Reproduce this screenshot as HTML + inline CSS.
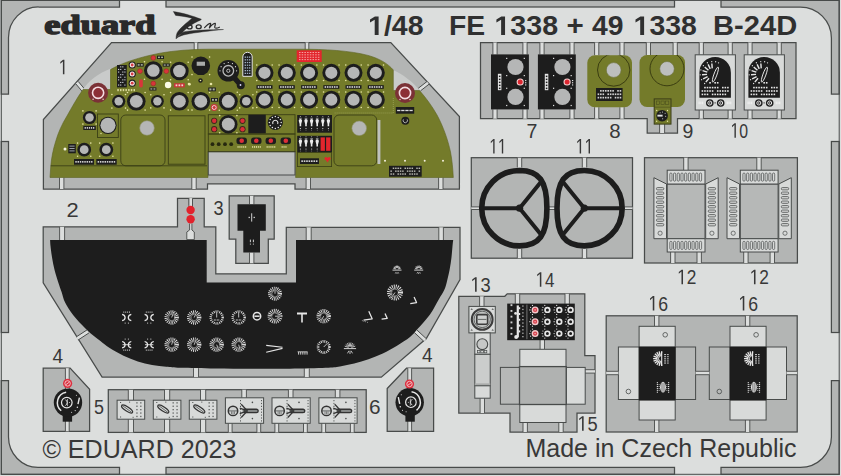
<!DOCTYPE html>
<html><head><meta charset="utf-8"><title>eduard FE 1338</title>
<style>html,body{margin:0;padding:0;background:#dcdedd;overflow:hidden}svg{display:block}</style>
</head><body>
<svg width="841" height="476" viewBox="0 0 841 476">
<rect x="0" y="0" width="841" height="476" fill="#dcdedd"/>
<path d="M1.3,0.4 H119.5 V7 H38.6 A30,30.5 0 0 0 8.5,37.5 V94 H1.3 Z" fill="#b3b5b4" stroke="#484b4a" stroke-width="1.25" />
<rect x="166.00" y="0.40" width="508.50" height="6.60" fill="#b3b5b4" stroke="#484b4a" stroke-width="1.25" />
<path d="M721,0.4 H839.2 V94 H831.4 V38 A31,31 0 0 0 800.4,7 H721 Z" fill="#b3b5b4" stroke="#484b4a" stroke-width="1.25" />
<rect x="1.30" y="141.50" width="7.20" height="191.00" fill="#b3b5b4" stroke="#484b4a" stroke-width="1.25" />
<rect x="831.40" y="141.50" width="7.80" height="191.00" fill="#b3b5b4" stroke="#484b4a" stroke-width="1.25" />
<path d="M1.3,380.7 H8.5 V437 A29.5,30.5 0 0 0 38,467.4 H119.5 V474.3 H1.3 Z" fill="#b3b5b4" stroke="#484b4a" stroke-width="1.25" />
<rect x="166.00" y="467.40" width="508.50" height="6.90" fill="#b3b5b4" stroke="#484b4a" stroke-width="1.25" />
<path d="M721,474.3 V467.4 H800.4 A31,30.5 0 0 0 831.4,437 V380.7 H839.2 V474.3 Z" fill="#b3b5b4" stroke="#484b4a" stroke-width="1.25" />
<rect x="1.30" y="0.40" width="837.90" height="473.90" fill="none" stroke="#484b4a" stroke-width="1.0" />
<text x="44.3" y="34.1" font-family="'Liberation Serif', serif" font-size="27.7" font-weight="bold" fill="#2a2a2a" stroke="#2a2a2a" stroke-width="1.5" stroke-linejoin="round" textLength="111.2" lengthAdjust="spacingAndGlyphs">eduard</text>
<g fill="#2b2b2b" stroke="#2b2b2b" stroke-width="0.4" stroke-linejoin="round"><path d="M173.3,11.5 C182,12.8 193,15.8 201.2,19.3 L199,20.2 C192,17.8 184,16.2 175.6,15.4 Z"/><path d="M201.2,19.3 L192.4,18 C186,23 179.5,29 177.4,32.2 C176.4,34.2 176,36.5 176,38.6 C177.5,36.2 179.5,34.6 182,33.2 C185,29 192,23.6 200.8,20 Z"/><path d="M176,38.6 C179,36.2 183,35 186,34.4 C195,32.6 210,30.8 223.5,29.5 C210,29.5 196,30.2 186,31.4 C183.5,31.8 182.4,32.4 181.6,33.2 Z"/></g>
<g fill="none" stroke="#2b2b2b" stroke-width="1.35" stroke-linecap="round" stroke-linejoin="round"><ellipse cx="189.6" cy="26.9" rx="2.5" ry="1.9"/><ellipse cx="198.7" cy="26.7" rx="2.5" ry="1.9"/><path d="M204.6,27.6 C206.5,25.6 209,23.4 210.4,23.4 C211.4,23.8 209.6,26 209.4,27.8 C211,25.8 213.8,23.4 215.2,23.4 C216.2,23.8 214.2,26.4 214.8,27.6 C215.6,28.4 217.6,28 219.4,27.2" stroke-width="1.2"/></g>
<polygon points="374.70,35.00 374.70,19.69 370.00,22.45 370.00,19.56 374.91,16.56 378.61,16.56 378.61,35.00" fill="#303030"/>
<text transform="translate(383.89,35.00) scale(1.0625,1)" font-family="'Liberation Sans', sans-serif" font-size="26.8" font-weight="bold" fill="#303030" xml:space="preserve">/48</text>
<text transform="translate(448.90,35.00) scale(1.0571,1)" font-family="'Liberation Sans', sans-serif" font-size="26.8" font-weight="bold" fill="#303030" xml:space="preserve">FE</text>
<polygon points="501.12,35.00 501.12,19.69 496.40,22.45 496.40,19.56 501.33,16.56 505.05,16.56 505.05,35.00" fill="#303030"/>
<text transform="translate(510.35,35.00) scale(1.0674,1)" font-family="'Liberation Sans', sans-serif" font-size="26.8" font-weight="bold" fill="#303030" xml:space="preserve">338</text>
<text transform="translate(566.56,35.00) scale(1.1013,1)" font-family="'Liberation Sans', sans-serif" font-size="26.8" font-weight="bold" fill="#303030" xml:space="preserve">+</text>
<text transform="translate(592.07,35.00) scale(1.0560,1)" font-family="'Liberation Sans', sans-serif" font-size="26.8" font-weight="bold" fill="#303030" xml:space="preserve">49</text>
<polygon points="640.20,35.00 640.20,19.69 635.50,22.45 635.50,19.56 640.41,16.56 644.10,16.56 644.10,35.00" fill="#303030"/>
<text transform="translate(649.38,35.00) scale(1.0621,1)" font-family="'Liberation Sans', sans-serif" font-size="26.8" font-weight="bold" fill="#303030" xml:space="preserve">338</text>
<text transform="translate(713.05,35.00) scale(1.0869,1)" font-family="'Liberation Sans', sans-serif" font-size="26.8" font-weight="bold" fill="#303030" xml:space="preserve">B-24D</text>
<text transform="translate(42.42,457.80) scale(0.9996,1)" font-family="'Liberation Sans', sans-serif" font-size="25.1" font-weight="normal" fill="#383838" xml:space="preserve">© EDUARD 2023</text>
<text transform="translate(525.45,457.30) scale(0.9969,1)" font-family="'Liberation Sans', sans-serif" font-size="25.1" font-weight="normal" fill="#383838" xml:space="preserve">Made in Czech Republic</text>
<polygon points="111.50,42.50 390.80,42.50 459.40,116.50 459.40,189.00 295.00,189.00 295.00,183.80 207.50,183.80 207.50,189.00 43.40,189.00 43.40,119.50" fill="#b3b5b4" stroke="#484b4a" stroke-width="1.25" stroke-linejoin="miter" />
<rect x="194.20" y="42.50" width="3.6" height="7.50" fill="#dcdedd"/>
<line x1="194.20" y1="42.50" x2="194.20" y2="50.00" stroke="#484b4a" stroke-width="0.9" />
<line x1="197.80" y1="42.50" x2="197.80" y2="50.00" stroke="#484b4a" stroke-width="0.9" />
<rect x="305.20" y="42.50" width="3.6" height="7.50" fill="#dcdedd"/>
<line x1="305.20" y1="42.50" x2="305.20" y2="50.00" stroke="#484b4a" stroke-width="0.9" />
<line x1="308.80" y1="42.50" x2="308.80" y2="50.00" stroke="#484b4a" stroke-width="0.9" />
<rect x="59.50" y="177.50" width="4.4" height="11.50" fill="#dcdedd"/>
<line x1="59.50" y1="177.50" x2="59.50" y2="189.00" stroke="#484b4a" stroke-width="0.9" />
<line x1="63.90" y1="177.50" x2="63.90" y2="189.00" stroke="#484b4a" stroke-width="0.9" />
<rect x="191.80" y="177.50" width="4.4" height="11.50" fill="#dcdedd"/>
<line x1="191.80" y1="177.50" x2="191.80" y2="189.00" stroke="#484b4a" stroke-width="0.9" />
<line x1="196.20" y1="177.50" x2="196.20" y2="189.00" stroke="#484b4a" stroke-width="0.9" />
<rect x="306.10" y="177.50" width="4.4" height="11.50" fill="#dcdedd"/>
<line x1="306.10" y1="177.50" x2="306.10" y2="189.00" stroke="#484b4a" stroke-width="0.9" />
<line x1="310.50" y1="177.50" x2="310.50" y2="189.00" stroke="#484b4a" stroke-width="0.9" />
<rect x="438.60" y="177.50" width="4.4" height="11.50" fill="#dcdedd"/>
<line x1="438.60" y1="177.50" x2="438.60" y2="189.00" stroke="#484b4a" stroke-width="0.9" />
<line x1="443.00" y1="177.50" x2="443.00" y2="189.00" stroke="#484b4a" stroke-width="0.9" />
<g transform="translate(80.50,86.80) rotate(50)"><rect x="-5.50" y="-1.7" width="11.00" height="3.4" fill="#dcdedd"/><line x1="-5.50" y1="-1.7" x2="5.50" y2="-1.7" stroke="#484b4a" stroke-width="0.9"/><line x1="-5.50" y1="1.7" x2="5.50" y2="1.7" stroke="#484b4a" stroke-width="0.9"/></g>
<g transform="translate(423.70,86.20) rotate(-38)"><rect x="-5.50" y="-1.7" width="11.00" height="3.4" fill="#dcdedd"/><line x1="-5.50" y1="-1.7" x2="5.50" y2="-1.7" stroke="#484b4a" stroke-width="0.9"/><line x1="-5.50" y1="1.7" x2="5.50" y2="1.7" stroke="#484b4a" stroke-width="0.9"/></g>
<path d="M82.5,90 C89,80.5 98,73.5 111,68.6 L111,90 Z" fill="#c9cbca" stroke="none" stroke-width="0" />
<path d="M393,70 C403,74.5 412.5,81.5 420,91 L393,91 Z" fill="#c9cbca" stroke="none" stroke-width="0" />
<path d="M50,177.5 L50.8,166 C51.5,158 53,150 55.5,142 C58,133 62,124 67,116 C71.5,108 77,98 83,89.5 L110.5,89.5 L110.5,69.6 C121,63.2 140,57 160,53.2 C175,50.6 190,49.4 208,49.2 L300,49.2 C325,49.2 350,50.6 368,55.4 C380,58.8 388,63.8 393.3,70 L393.3,90.5 L419.5,90.5 C426,98 432,106 437,115 C443,126 448,140 450.5,152 C452,160 452.8,168 453.3,177.5 L295.6,177.5 L295.6,151.7 L208,151.7 L208,177.5 Z" fill="#747b2a" stroke="#5d6322" stroke-width="0.6" />
<rect x="208.30" y="151.70" width="86.70" height="23.30" fill="#bcbebd" stroke="#484b4a" stroke-width="1.0" />
<line x1="50.80" y1="165.80" x2="207.00" y2="165.80" stroke="#3b3f16" stroke-width="0.9" />
<line x1="296.00" y1="165.80" x2="452.50" y2="165.80" stroke="#3b3f16" stroke-width="0.6" opacity="0.0"/>
<circle cx="256.76" cy="65.06" r="0.80" fill="#e8e6a8" stroke="none" stroke-width="0" />
<circle cx="256.76" cy="80.54" r="0.80" fill="#e8e6a8" stroke="none" stroke-width="0" />
<circle cx="272.24" cy="65.06" r="0.80" fill="#e8e6a8" stroke="none" stroke-width="0" />
<circle cx="272.24" cy="80.54" r="0.80" fill="#e8e6a8" stroke="none" stroke-width="0" />
<circle cx="264.50" cy="72.80" r="9.00" fill="#1d1d1d" stroke="none" stroke-width="0" />
<circle cx="264.50" cy="72.80" r="6.10" fill="#b5b6b6" stroke="none" stroke-width="0" />
<circle cx="256.76" cy="91.96" r="0.80" fill="#e8e6a8" stroke="none" stroke-width="0" />
<circle cx="256.76" cy="107.44" r="0.80" fill="#e8e6a8" stroke="none" stroke-width="0" />
<circle cx="272.24" cy="91.96" r="0.80" fill="#e8e6a8" stroke="none" stroke-width="0" />
<circle cx="272.24" cy="107.44" r="0.80" fill="#e8e6a8" stroke="none" stroke-width="0" />
<circle cx="264.50" cy="99.70" r="9.00" fill="#1d1d1d" stroke="none" stroke-width="0" />
<circle cx="264.50" cy="99.70" r="6.10" fill="#b5b6b6" stroke="none" stroke-width="0" />
<rect x="256.50" y="85.20" width="16.00" height="3.60" fill="#1d1d1d" stroke="none" stroke-width="0" />
<rect x="257.80" y="86.20" width="1.53" height="1.6" fill="#d9d9d9"/>
<rect x="260.13" y="86.20" width="1.53" height="1.6" fill="#d9d9d9"/>
<rect x="262.47" y="86.20" width="1.53" height="1.6" fill="#d9d9d9"/>
<rect x="264.80" y="86.20" width="1.53" height="1.6" fill="#d9d9d9"/>
<rect x="267.13" y="86.20" width="1.53" height="1.6" fill="#d9d9d9"/>
<rect x="269.47" y="86.20" width="1.53" height="1.6" fill="#d9d9d9"/>
<circle cx="279.06" cy="65.06" r="0.80" fill="#e8e6a8" stroke="none" stroke-width="0" />
<circle cx="279.06" cy="80.54" r="0.80" fill="#e8e6a8" stroke="none" stroke-width="0" />
<circle cx="294.54" cy="65.06" r="0.80" fill="#e8e6a8" stroke="none" stroke-width="0" />
<circle cx="294.54" cy="80.54" r="0.80" fill="#e8e6a8" stroke="none" stroke-width="0" />
<circle cx="286.80" cy="72.80" r="9.00" fill="#1d1d1d" stroke="none" stroke-width="0" />
<circle cx="286.80" cy="72.80" r="6.10" fill="#b5b6b6" stroke="none" stroke-width="0" />
<circle cx="279.06" cy="91.96" r="0.80" fill="#e8e6a8" stroke="none" stroke-width="0" />
<circle cx="279.06" cy="107.44" r="0.80" fill="#e8e6a8" stroke="none" stroke-width="0" />
<circle cx="294.54" cy="91.96" r="0.80" fill="#e8e6a8" stroke="none" stroke-width="0" />
<circle cx="294.54" cy="107.44" r="0.80" fill="#e8e6a8" stroke="none" stroke-width="0" />
<circle cx="286.80" cy="99.70" r="9.00" fill="#1d1d1d" stroke="none" stroke-width="0" />
<circle cx="286.80" cy="99.70" r="6.10" fill="#b5b6b6" stroke="none" stroke-width="0" />
<rect x="278.80" y="85.20" width="16.00" height="3.60" fill="#1d1d1d" stroke="none" stroke-width="0" />
<rect x="280.10" y="86.20" width="1.53" height="1.6" fill="#d9d9d9"/>
<rect x="282.43" y="86.20" width="1.53" height="1.6" fill="#d9d9d9"/>
<rect x="284.77" y="86.20" width="1.53" height="1.6" fill="#d9d9d9"/>
<rect x="287.10" y="86.20" width="1.53" height="1.6" fill="#d9d9d9"/>
<rect x="289.43" y="86.20" width="1.53" height="1.6" fill="#d9d9d9"/>
<rect x="291.77" y="86.20" width="1.53" height="1.6" fill="#d9d9d9"/>
<circle cx="301.36" cy="65.06" r="0.80" fill="#e8e6a8" stroke="none" stroke-width="0" />
<circle cx="301.36" cy="80.54" r="0.80" fill="#e8e6a8" stroke="none" stroke-width="0" />
<circle cx="316.84" cy="65.06" r="0.80" fill="#e8e6a8" stroke="none" stroke-width="0" />
<circle cx="316.84" cy="80.54" r="0.80" fill="#e8e6a8" stroke="none" stroke-width="0" />
<circle cx="309.10" cy="72.80" r="9.00" fill="#1d1d1d" stroke="none" stroke-width="0" />
<circle cx="309.10" cy="72.80" r="6.10" fill="#b5b6b6" stroke="none" stroke-width="0" />
<circle cx="301.36" cy="91.96" r="0.80" fill="#e8e6a8" stroke="none" stroke-width="0" />
<circle cx="301.36" cy="107.44" r="0.80" fill="#e8e6a8" stroke="none" stroke-width="0" />
<circle cx="316.84" cy="91.96" r="0.80" fill="#e8e6a8" stroke="none" stroke-width="0" />
<circle cx="316.84" cy="107.44" r="0.80" fill="#e8e6a8" stroke="none" stroke-width="0" />
<circle cx="309.10" cy="99.70" r="9.00" fill="#1d1d1d" stroke="none" stroke-width="0" />
<circle cx="309.10" cy="99.70" r="6.10" fill="#b5b6b6" stroke="none" stroke-width="0" />
<rect x="301.10" y="85.20" width="16.00" height="3.60" fill="#1d1d1d" stroke="none" stroke-width="0" />
<rect x="302.40" y="86.20" width="1.53" height="1.6" fill="#d9d9d9"/>
<rect x="304.73" y="86.20" width="1.53" height="1.6" fill="#d9d9d9"/>
<rect x="307.07" y="86.20" width="1.53" height="1.6" fill="#d9d9d9"/>
<rect x="309.40" y="86.20" width="1.53" height="1.6" fill="#d9d9d9"/>
<rect x="311.73" y="86.20" width="1.53" height="1.6" fill="#d9d9d9"/>
<rect x="314.07" y="86.20" width="1.53" height="1.6" fill="#d9d9d9"/>
<circle cx="323.56" cy="65.06" r="0.80" fill="#e8e6a8" stroke="none" stroke-width="0" />
<circle cx="323.56" cy="80.54" r="0.80" fill="#e8e6a8" stroke="none" stroke-width="0" />
<circle cx="339.04" cy="65.06" r="0.80" fill="#e8e6a8" stroke="none" stroke-width="0" />
<circle cx="339.04" cy="80.54" r="0.80" fill="#e8e6a8" stroke="none" stroke-width="0" />
<circle cx="331.30" cy="72.80" r="9.00" fill="#1d1d1d" stroke="none" stroke-width="0" />
<circle cx="331.30" cy="72.80" r="6.10" fill="#b5b6b6" stroke="none" stroke-width="0" />
<circle cx="323.56" cy="91.96" r="0.80" fill="#e8e6a8" stroke="none" stroke-width="0" />
<circle cx="323.56" cy="107.44" r="0.80" fill="#e8e6a8" stroke="none" stroke-width="0" />
<circle cx="339.04" cy="91.96" r="0.80" fill="#e8e6a8" stroke="none" stroke-width="0" />
<circle cx="339.04" cy="107.44" r="0.80" fill="#e8e6a8" stroke="none" stroke-width="0" />
<circle cx="331.30" cy="99.70" r="9.00" fill="#1d1d1d" stroke="none" stroke-width="0" />
<circle cx="331.30" cy="99.70" r="6.10" fill="#b5b6b6" stroke="none" stroke-width="0" />
<rect x="323.30" y="85.20" width="16.00" height="3.60" fill="#1d1d1d" stroke="none" stroke-width="0" />
<rect x="324.60" y="86.20" width="1.53" height="1.6" fill="#d9d9d9"/>
<rect x="326.93" y="86.20" width="1.53" height="1.6" fill="#d9d9d9"/>
<rect x="329.27" y="86.20" width="1.53" height="1.6" fill="#d9d9d9"/>
<rect x="331.60" y="86.20" width="1.53" height="1.6" fill="#d9d9d9"/>
<rect x="333.93" y="86.20" width="1.53" height="1.6" fill="#d9d9d9"/>
<rect x="336.27" y="86.20" width="1.53" height="1.6" fill="#d9d9d9"/>
<circle cx="345.76" cy="65.06" r="0.80" fill="#e8e6a8" stroke="none" stroke-width="0" />
<circle cx="345.76" cy="80.54" r="0.80" fill="#e8e6a8" stroke="none" stroke-width="0" />
<circle cx="361.24" cy="65.06" r="0.80" fill="#e8e6a8" stroke="none" stroke-width="0" />
<circle cx="361.24" cy="80.54" r="0.80" fill="#e8e6a8" stroke="none" stroke-width="0" />
<circle cx="353.50" cy="72.80" r="9.00" fill="#1d1d1d" stroke="none" stroke-width="0" />
<circle cx="353.50" cy="72.80" r="6.10" fill="#b5b6b6" stroke="none" stroke-width="0" />
<circle cx="345.76" cy="91.96" r="0.80" fill="#e8e6a8" stroke="none" stroke-width="0" />
<circle cx="345.76" cy="107.44" r="0.80" fill="#e8e6a8" stroke="none" stroke-width="0" />
<circle cx="361.24" cy="91.96" r="0.80" fill="#e8e6a8" stroke="none" stroke-width="0" />
<circle cx="361.24" cy="107.44" r="0.80" fill="#e8e6a8" stroke="none" stroke-width="0" />
<circle cx="353.50" cy="99.70" r="9.00" fill="#1d1d1d" stroke="none" stroke-width="0" />
<circle cx="353.50" cy="99.70" r="6.10" fill="#b5b6b6" stroke="none" stroke-width="0" />
<rect x="345.50" y="85.20" width="16.00" height="3.60" fill="#1d1d1d" stroke="none" stroke-width="0" />
<rect x="346.80" y="86.20" width="1.53" height="1.6" fill="#d9d9d9"/>
<rect x="349.13" y="86.20" width="1.53" height="1.6" fill="#d9d9d9"/>
<rect x="351.47" y="86.20" width="1.53" height="1.6" fill="#d9d9d9"/>
<rect x="353.80" y="86.20" width="1.53" height="1.6" fill="#d9d9d9"/>
<rect x="356.13" y="86.20" width="1.53" height="1.6" fill="#d9d9d9"/>
<rect x="358.47" y="86.20" width="1.53" height="1.6" fill="#d9d9d9"/>
<circle cx="368.06" cy="65.06" r="0.80" fill="#e8e6a8" stroke="none" stroke-width="0" />
<circle cx="368.06" cy="80.54" r="0.80" fill="#e8e6a8" stroke="none" stroke-width="0" />
<circle cx="383.54" cy="65.06" r="0.80" fill="#e8e6a8" stroke="none" stroke-width="0" />
<circle cx="383.54" cy="80.54" r="0.80" fill="#e8e6a8" stroke="none" stroke-width="0" />
<circle cx="375.80" cy="72.80" r="9.00" fill="#1d1d1d" stroke="none" stroke-width="0" />
<circle cx="375.80" cy="72.80" r="6.10" fill="#b5b6b6" stroke="none" stroke-width="0" />
<circle cx="368.06" cy="91.96" r="0.80" fill="#e8e6a8" stroke="none" stroke-width="0" />
<circle cx="368.06" cy="107.44" r="0.80" fill="#e8e6a8" stroke="none" stroke-width="0" />
<circle cx="383.54" cy="91.96" r="0.80" fill="#e8e6a8" stroke="none" stroke-width="0" />
<circle cx="383.54" cy="107.44" r="0.80" fill="#e8e6a8" stroke="none" stroke-width="0" />
<circle cx="375.80" cy="99.70" r="9.00" fill="#1d1d1d" stroke="none" stroke-width="0" />
<circle cx="375.80" cy="99.70" r="6.10" fill="#b5b6b6" stroke="none" stroke-width="0" />
<rect x="367.80" y="85.20" width="16.00" height="3.60" fill="#1d1d1d" stroke="none" stroke-width="0" />
<rect x="369.10" y="86.20" width="1.53" height="1.6" fill="#d9d9d9"/>
<rect x="371.43" y="86.20" width="1.53" height="1.6" fill="#d9d9d9"/>
<rect x="373.77" y="86.20" width="1.53" height="1.6" fill="#d9d9d9"/>
<rect x="376.10" y="86.20" width="1.53" height="1.6" fill="#d9d9d9"/>
<rect x="378.43" y="86.20" width="1.53" height="1.6" fill="#d9d9d9"/>
<rect x="380.77" y="86.20" width="1.53" height="1.6" fill="#d9d9d9"/>
<rect x="296.70" y="50.30" width="25.00" height="11.70" fill="#e3262d" stroke="none" stroke-width="0" />
<rect x="299.00" y="52.00" width="1.5" height="0.9" fill="#f6b4b0"/>
<rect x="301.70" y="52.00" width="1.5" height="0.9" fill="#f6b4b0"/>
<rect x="304.40" y="52.00" width="1.5" height="0.9" fill="#f6b4b0"/>
<rect x="307.10" y="52.00" width="1.5" height="0.9" fill="#f6b4b0"/>
<rect x="309.80" y="52.00" width="1.5" height="0.9" fill="#f6b4b0"/>
<rect x="312.50" y="52.00" width="1.5" height="0.9" fill="#f6b4b0"/>
<rect x="315.20" y="52.00" width="1.5" height="0.9" fill="#f6b4b0"/>
<rect x="317.90" y="52.00" width="1.5" height="0.9" fill="#f6b4b0"/>
<rect x="299.00" y="54.40" width="1.5" height="0.9" fill="#f6b4b0"/>
<rect x="301.70" y="54.40" width="1.5" height="0.9" fill="#f6b4b0"/>
<rect x="304.40" y="54.40" width="1.5" height="0.9" fill="#f6b4b0"/>
<rect x="307.10" y="54.40" width="1.5" height="0.9" fill="#f6b4b0"/>
<rect x="309.80" y="54.40" width="1.5" height="0.9" fill="#f6b4b0"/>
<rect x="312.50" y="54.40" width="1.5" height="0.9" fill="#f6b4b0"/>
<rect x="315.20" y="54.40" width="1.5" height="0.9" fill="#f6b4b0"/>
<rect x="317.90" y="54.40" width="1.5" height="0.9" fill="#f6b4b0"/>
<rect x="299.00" y="56.80" width="1.5" height="0.9" fill="#f6b4b0"/>
<rect x="301.70" y="56.80" width="1.5" height="0.9" fill="#f6b4b0"/>
<rect x="304.40" y="56.80" width="1.5" height="0.9" fill="#f6b4b0"/>
<rect x="307.10" y="56.80" width="1.5" height="0.9" fill="#f6b4b0"/>
<rect x="309.80" y="56.80" width="1.5" height="0.9" fill="#f6b4b0"/>
<rect x="312.50" y="56.80" width="1.5" height="0.9" fill="#f6b4b0"/>
<rect x="315.20" y="56.80" width="1.5" height="0.9" fill="#f6b4b0"/>
<rect x="317.90" y="56.80" width="1.5" height="0.9" fill="#f6b4b0"/>
<rect x="299.00" y="59.20" width="1.5" height="0.9" fill="#f6b4b0"/>
<rect x="301.70" y="59.20" width="1.5" height="0.9" fill="#f6b4b0"/>
<rect x="304.40" y="59.20" width="1.5" height="0.9" fill="#f6b4b0"/>
<rect x="307.10" y="59.20" width="1.5" height="0.9" fill="#f6b4b0"/>
<rect x="309.80" y="59.20" width="1.5" height="0.9" fill="#f6b4b0"/>
<rect x="312.50" y="59.20" width="1.5" height="0.9" fill="#f6b4b0"/>
<rect x="315.20" y="59.20" width="1.5" height="0.9" fill="#f6b4b0"/>
<rect x="317.90" y="59.20" width="1.5" height="0.9" fill="#f6b4b0"/>
<path d="M242.8,76.3 V57 A4.7,4.7 0 0 1 252.2,57 V76.3 Z" fill="#1d1d1d" stroke="#e4e4e4" stroke-width="1.0" />
<rect x="244.60" y="56.50" width="1.4" height="1.3" fill="#9fb1c4"/>
<rect x="246.80" y="56.50" width="1.4" height="1.3" fill="#9fb1c4"/>
<rect x="249.00" y="56.50" width="1.4" height="1.3" fill="#9fb1c4"/>
<rect x="244.60" y="59.20" width="1.4" height="1.3" fill="#9fb1c4"/>
<rect x="246.80" y="59.20" width="1.4" height="1.3" fill="#9fb1c4"/>
<rect x="249.00" y="59.20" width="1.4" height="1.3" fill="#9fb1c4"/>
<rect x="244.60" y="61.90" width="1.4" height="1.3" fill="#9fb1c4"/>
<rect x="246.80" y="61.90" width="1.4" height="1.3" fill="#9fb1c4"/>
<rect x="249.00" y="61.90" width="1.4" height="1.3" fill="#9fb1c4"/>
<rect x="244.60" y="64.60" width="1.4" height="1.3" fill="#9fb1c4"/>
<rect x="246.80" y="64.60" width="1.4" height="1.3" fill="#9fb1c4"/>
<rect x="249.00" y="64.60" width="1.4" height="1.3" fill="#9fb1c4"/>
<rect x="244.60" y="67.30" width="1.4" height="1.3" fill="#9fb1c4"/>
<rect x="246.80" y="67.30" width="1.4" height="1.3" fill="#9fb1c4"/>
<rect x="249.00" y="67.30" width="1.4" height="1.3" fill="#9fb1c4"/>
<rect x="244.60" y="70.00" width="1.4" height="1.3" fill="#9fb1c4"/>
<rect x="246.80" y="70.00" width="1.4" height="1.3" fill="#9fb1c4"/>
<rect x="249.00" y="70.00" width="1.4" height="1.3" fill="#9fb1c4"/>
<rect x="244.60" y="72.70" width="1.4" height="1.3" fill="#9fb1c4"/>
<rect x="246.80" y="72.70" width="1.4" height="1.3" fill="#9fb1c4"/>
<rect x="249.00" y="72.70" width="1.4" height="1.3" fill="#9fb1c4"/>
<circle cx="237.50" cy="70.80" r="0.70" fill="#d8d8c8" stroke="none" stroke-width="0" />
<circle cx="235.74" cy="76.21" r="0.70" fill="#d8d8c8" stroke="none" stroke-width="0" />
<circle cx="231.14" cy="79.55" r="0.70" fill="#d8d8c8" stroke="none" stroke-width="0" />
<circle cx="225.46" cy="79.55" r="0.70" fill="#d8d8c8" stroke="none" stroke-width="0" />
<circle cx="220.86" cy="76.21" r="0.70" fill="#d8d8c8" stroke="none" stroke-width="0" />
<circle cx="219.10" cy="70.80" r="0.70" fill="#d8d8c8" stroke="none" stroke-width="0" />
<circle cx="220.86" cy="65.39" r="0.70" fill="#d8d8c8" stroke="none" stroke-width="0" />
<circle cx="225.46" cy="62.05" r="0.70" fill="#d8d8c8" stroke="none" stroke-width="0" />
<circle cx="231.14" cy="62.05" r="0.70" fill="#d8d8c8" stroke="none" stroke-width="0" />
<circle cx="235.74" cy="65.39" r="0.70" fill="#d8d8c8" stroke="none" stroke-width="0" />
<circle cx="228.30" cy="70.80" r="10.80" fill="#1d1d1d" stroke="none" stroke-width="0" />
<line x1="228.3" y1="70.8" x2="240.8" y2="85.3" stroke="#1d1d1d" stroke-width="5.2" stroke-linecap="round"/>
<circle cx="240.80" cy="85.30" r="4.00" fill="#1d1d1d" stroke="none" stroke-width="0" />
<circle cx="228.30" cy="70.80" r="5.30" fill="none" stroke="#b9b9b9" stroke-width="1.3" />
<circle cx="228.30" cy="70.80" r="1.60" fill="#1d1d1d" stroke="#dddddd" stroke-width="0.8" />
<circle cx="240.50" cy="85.00" r="0.90" fill="#d8d8ff" stroke="none" stroke-width="0" />
<circle cx="220.00" cy="70.80" r="0.60" fill="#e8e8e8" stroke="none" stroke-width="0" />
<circle cx="221.11" cy="66.65" r="0.60" fill="#e8e8e8" stroke="none" stroke-width="0" />
<circle cx="224.15" cy="63.61" r="0.60" fill="#e8e8e8" stroke="none" stroke-width="0" />
<circle cx="228.30" cy="62.50" r="0.60" fill="#e8e8e8" stroke="none" stroke-width="0" />
<circle cx="232.45" cy="63.61" r="0.60" fill="#e8e8e8" stroke="none" stroke-width="0" />
<circle cx="235.49" cy="66.65" r="0.60" fill="#e8e8e8" stroke="none" stroke-width="0" />
<circle cx="236.60" cy="70.80" r="0.60" fill="#e8e8e8" stroke="none" stroke-width="0" />
<circle cx="192.00" cy="57.00" r="0.80" fill="#e8e6a8" stroke="none" stroke-width="0" />
<circle cx="192.00" cy="74.60" r="0.80" fill="#e8e6a8" stroke="none" stroke-width="0" />
<circle cx="209.60" cy="57.00" r="0.80" fill="#e8e6a8" stroke="none" stroke-width="0" />
<circle cx="209.60" cy="74.60" r="0.80" fill="#e8e6a8" stroke="none" stroke-width="0" />
<circle cx="200.80" cy="65.80" r="9.30" fill="#1d1d1d" stroke="none" stroke-width="0" />
<circle cx="200.80" cy="65.80" r="0.01" fill="#b5b6b6" stroke="none" stroke-width="0" />
<rect x="196.70" y="61.70" width="8.30" height="4.10" fill="#a9abaa" stroke="none" stroke-width="0" />
<circle cx="200.50" cy="80.50" r="2.20" fill="#1d1d1d" stroke="none" stroke-width="0" />
<circle cx="200.50" cy="80.50" r="0.80" fill="#e8e6a8" stroke="none" stroke-width="0" />
<circle cx="144.50" cy="61.70" r="0.80" fill="#e8e6a8" stroke="none" stroke-width="0" />
<circle cx="144.50" cy="79.30" r="0.80" fill="#e8e6a8" stroke="none" stroke-width="0" />
<circle cx="162.10" cy="61.70" r="0.80" fill="#e8e6a8" stroke="none" stroke-width="0" />
<circle cx="162.10" cy="79.30" r="0.80" fill="#e8e6a8" stroke="none" stroke-width="0" />
<circle cx="153.30" cy="70.50" r="9.30" fill="#1d1d1d" stroke="none" stroke-width="0" />
<circle cx="153.30" cy="70.50" r="6.30" fill="#b5b6b6" stroke="none" stroke-width="0" />
<circle cx="170.60" cy="62.20" r="0.80" fill="#e8e6a8" stroke="none" stroke-width="0" />
<circle cx="170.60" cy="79.80" r="0.80" fill="#e8e6a8" stroke="none" stroke-width="0" />
<circle cx="188.20" cy="62.20" r="0.80" fill="#e8e6a8" stroke="none" stroke-width="0" />
<circle cx="188.20" cy="79.80" r="0.80" fill="#e8e6a8" stroke="none" stroke-width="0" />
<circle cx="179.40" cy="71.00" r="9.30" fill="#1d1d1d" stroke="none" stroke-width="0" />
<circle cx="179.40" cy="71.00" r="6.30" fill="#b5b6b6" stroke="none" stroke-width="0" />
<circle cx="111.90" cy="94.50" r="0.80" fill="#e8e6a8" stroke="none" stroke-width="0" />
<circle cx="111.90" cy="108.10" r="0.80" fill="#e8e6a8" stroke="none" stroke-width="0" />
<circle cx="125.50" cy="94.50" r="0.80" fill="#e8e6a8" stroke="none" stroke-width="0" />
<circle cx="125.50" cy="108.10" r="0.80" fill="#e8e6a8" stroke="none" stroke-width="0" />
<circle cx="118.70" cy="101.30" r="6.60" fill="#1d1d1d" stroke="none" stroke-width="0" />
<circle cx="118.70" cy="101.30" r="4.20" fill="#b5b6b6" stroke="none" stroke-width="0" />
<circle cx="127.50" cy="92.50" r="0.80" fill="#e8e6a8" stroke="none" stroke-width="0" />
<circle cx="127.50" cy="110.10" r="0.80" fill="#e8e6a8" stroke="none" stroke-width="0" />
<circle cx="145.10" cy="92.50" r="0.80" fill="#e8e6a8" stroke="none" stroke-width="0" />
<circle cx="145.10" cy="110.10" r="0.80" fill="#e8e6a8" stroke="none" stroke-width="0" />
<circle cx="136.30" cy="101.30" r="9.30" fill="#1d1d1d" stroke="none" stroke-width="0" />
<circle cx="136.30" cy="101.30" r="6.40" fill="#b5b6b6" stroke="none" stroke-width="0" />
<circle cx="150.80" cy="94.70" r="0.80" fill="#e8e6a8" stroke="none" stroke-width="0" />
<circle cx="150.80" cy="107.90" r="0.80" fill="#e8e6a8" stroke="none" stroke-width="0" />
<circle cx="164.00" cy="94.70" r="0.80" fill="#e8e6a8" stroke="none" stroke-width="0" />
<circle cx="164.00" cy="107.90" r="0.80" fill="#e8e6a8" stroke="none" stroke-width="0" />
<circle cx="157.40" cy="101.30" r="6.40" fill="#1d1d1d" stroke="none" stroke-width="0" />
<circle cx="157.40" cy="101.30" r="4.20" fill="#b5b6b6" stroke="none" stroke-width="0" />
<circle cx="170.60" cy="92.50" r="0.80" fill="#e8e6a8" stroke="none" stroke-width="0" />
<circle cx="170.60" cy="110.10" r="0.80" fill="#e8e6a8" stroke="none" stroke-width="0" />
<circle cx="188.20" cy="92.50" r="0.80" fill="#e8e6a8" stroke="none" stroke-width="0" />
<circle cx="188.20" cy="110.10" r="0.80" fill="#e8e6a8" stroke="none" stroke-width="0" />
<circle cx="179.40" cy="101.30" r="9.30" fill="#1d1d1d" stroke="none" stroke-width="0" />
<circle cx="179.40" cy="101.30" r="6.40" fill="#b5b6b6" stroke="none" stroke-width="0" />
<circle cx="192.00" cy="92.50" r="0.80" fill="#e8e6a8" stroke="none" stroke-width="0" />
<circle cx="192.00" cy="110.10" r="0.80" fill="#e8e6a8" stroke="none" stroke-width="0" />
<circle cx="209.60" cy="92.50" r="0.80" fill="#e8e6a8" stroke="none" stroke-width="0" />
<circle cx="209.60" cy="110.10" r="0.80" fill="#e8e6a8" stroke="none" stroke-width="0" />
<circle cx="200.80" cy="101.30" r="9.30" fill="#1d1d1d" stroke="none" stroke-width="0" />
<circle cx="200.80" cy="101.30" r="6.40" fill="#b5b6b6" stroke="none" stroke-width="0" />
<circle cx="219.30" cy="92.30" r="0.80" fill="#e8e6a8" stroke="none" stroke-width="0" />
<circle cx="219.30" cy="110.30" r="0.80" fill="#e8e6a8" stroke="none" stroke-width="0" />
<circle cx="237.30" cy="92.30" r="0.80" fill="#e8e6a8" stroke="none" stroke-width="0" />
<circle cx="237.30" cy="110.30" r="0.80" fill="#e8e6a8" stroke="none" stroke-width="0" />
<circle cx="228.30" cy="101.30" r="9.50" fill="#1d1d1d" stroke="none" stroke-width="0" />
<circle cx="228.30" cy="101.30" r="6.50" fill="#b5b6b6" stroke="none" stroke-width="0" />
<circle cx="239.70" cy="94.70" r="0.80" fill="#e8e6a8" stroke="none" stroke-width="0" />
<circle cx="239.70" cy="107.90" r="0.80" fill="#e8e6a8" stroke="none" stroke-width="0" />
<circle cx="252.90" cy="94.70" r="0.80" fill="#e8e6a8" stroke="none" stroke-width="0" />
<circle cx="252.90" cy="107.90" r="0.80" fill="#e8e6a8" stroke="none" stroke-width="0" />
<circle cx="246.30" cy="101.30" r="6.60" fill="#1d1d1d" stroke="none" stroke-width="0" />
<circle cx="246.30" cy="101.30" r="4.30" fill="#b5b6b6" stroke="none" stroke-width="0" />
<circle cx="214.20" cy="107.50" r="3.40" fill="#c8383c" stroke="none" stroke-width="0" />
<circle cx="214.20" cy="107.50" r="2.00" fill="none" stroke="#f3d9d9" stroke-width="0.9" />
<rect x="208.30" y="87.50" width="7.50" height="3.80" fill="#1d1d1d" stroke="none" stroke-width="0" />
<rect x="209.35" y="88.40" width="2.10" height="2.00" fill="#a8b09a"/>
<rect x="212.65" y="88.40" width="2.10" height="2.00" fill="#a8b09a"/>
<rect x="211.00" y="98.00" width="7.00" height="3.70" fill="#1d1d1d" stroke="none" stroke-width="0" />
<rect x="211.98" y="98.90" width="1.96" height="1.90" fill="#a8b09a"/>
<rect x="215.06" y="98.90" width="1.96" height="1.90" fill="#a8b09a"/>
<rect x="180" y="83.7" width="4.5" height="3.4" fill="#e3262d"/>
<circle cx="189.00" cy="84.00" r="1.30" fill="#e8e6a8" stroke="none" stroke-width="0" />
<circle cx="211.00" cy="84.00" r="1.30" fill="#e8e6a8" stroke="none" stroke-width="0" />
<circle cx="98.10" cy="92.80" r="10.00" fill="#7b3136" stroke="none" stroke-width="0" />
<circle cx="98.10" cy="92.80" r="5.60" fill="#8c2f36" stroke="#f4dde2" stroke-width="1.6" />
<circle cx="93.10" cy="99.30" r="0.70" fill="#f0e0d0" stroke="none" stroke-width="0" />
<circle cx="103.10" cy="99.30" r="0.70" fill="#f0e0d0" stroke="none" stroke-width="0" />
<circle cx="405.00" cy="93.00" r="10.00" fill="#7b3136" stroke="none" stroke-width="0" />
<circle cx="405.00" cy="93.00" r="5.60" fill="#8c2f36" stroke="#f4dde2" stroke-width="1.6" />
<circle cx="400.00" cy="99.50" r="0.70" fill="#f0e0d0" stroke="none" stroke-width="0" />
<circle cx="410.00" cy="99.50" r="0.70" fill="#f0e0d0" stroke="none" stroke-width="0" />
<rect x="395.80" y="107.00" width="18.40" height="6.70" fill="#1d1d1d" stroke="none" stroke-width="0" />
<rect x="397.10" y="109.55" width="3.30" height="1.6" fill="#d9d9d9"/>
<rect x="401.20" y="109.55" width="3.30" height="1.6" fill="#d9d9d9"/>
<rect x="405.30" y="109.55" width="3.30" height="1.6" fill="#d9d9d9"/>
<rect x="409.40" y="109.55" width="3.30" height="1.6" fill="#d9d9d9"/>
<rect x="397" y="108.2" width="16" height="1.4" fill="#1d1d1d"/>
<rect x="117.00" y="65.00" width="9.80" height="22.40" fill="#1d1d1d" stroke="none" stroke-width="0" />
<rect x="120.10" y="66.30" width="1.2" height="1.1" fill="#c9ccd4"/>
<rect x="122.20" y="66.30" width="1.2" height="1.1" fill="#c9ccd4"/>
<rect x="118.00" y="68.90" width="1.2" height="1.1" fill="#c9ccd4"/>
<rect x="120.10" y="68.90" width="1.2" height="1.1" fill="#c9ccd4"/>
<rect x="124.30" y="68.90" width="1.2" height="1.1" fill="#c9ccd4"/>
<rect x="118.00" y="71.50" width="1.2" height="1.1" fill="#c9ccd4"/>
<rect x="122.20" y="71.50" width="1.2" height="1.1" fill="#c9ccd4"/>
<rect x="124.30" y="71.50" width="1.2" height="1.1" fill="#c9ccd4"/>
<rect x="120.10" y="74.10" width="1.2" height="1.1" fill="#c9ccd4"/>
<rect x="122.20" y="74.10" width="1.2" height="1.1" fill="#c9ccd4"/>
<rect x="118.00" y="76.70" width="1.2" height="1.1" fill="#c9ccd4"/>
<rect x="120.10" y="76.70" width="1.2" height="1.1" fill="#c9ccd4"/>
<rect x="124.30" y="76.70" width="1.2" height="1.1" fill="#c9ccd4"/>
<rect x="118.00" y="79.30" width="1.2" height="1.1" fill="#c9ccd4"/>
<rect x="122.20" y="79.30" width="1.2" height="1.1" fill="#c9ccd4"/>
<rect x="124.30" y="79.30" width="1.2" height="1.1" fill="#c9ccd4"/>
<rect x="120.10" y="81.90" width="1.2" height="1.1" fill="#c9ccd4"/>
<rect x="122.20" y="81.90" width="1.2" height="1.1" fill="#c9ccd4"/>
<rect x="118.00" y="84.50" width="1.2" height="1.1" fill="#c9ccd4"/>
<rect x="120.10" y="84.50" width="1.2" height="1.1" fill="#c9ccd4"/>
<rect x="124.30" y="84.50" width="1.2" height="1.1" fill="#c9ccd4"/>
<rect x="117.30" y="89.00" width="1.5" height="2.2" fill="#d8d89a"/>
<rect x="120.00" y="89.00" width="1.5" height="2.2" fill="#d8d89a"/>
<rect x="122.70" y="89.00" width="1.5" height="2.2" fill="#d8d89a"/>
<rect x="125.40" y="89.00" width="1.5" height="2.2" fill="#d8d89a"/>
<rect x="128.10" y="89.00" width="1.5" height="2.2" fill="#d8d89a"/>
<rect x="130.80" y="89.00" width="1.5" height="2.2" fill="#d8d89a"/>
<rect x="133.50" y="89.00" width="1.5" height="2.2" fill="#d8d89a"/>
<circle cx="132.20" cy="65.00" r="3.60" fill="#1d1d1d" stroke="none" stroke-width="0" />
<circle cx="132.20" cy="65.00" r="2.50" fill="#f6e6e6" stroke="none" stroke-width="0" />
<circle cx="132.20" cy="65.00" r="1.40" fill="#d63a44" stroke="none" stroke-width="0" />
<circle cx="132.20" cy="74.00" r="3.60" fill="#1d1d1d" stroke="none" stroke-width="0" />
<circle cx="132.20" cy="74.00" r="2.50" fill="#f6e6e6" stroke="none" stroke-width="0" />
<circle cx="132.20" cy="74.00" r="1.40" fill="#d63a44" stroke="none" stroke-width="0" />
<circle cx="132.20" cy="83.20" r="3.60" fill="#1d1d1d" stroke="none" stroke-width="0" />
<circle cx="132.20" cy="83.20" r="2.50" fill="#f6e6e6" stroke="none" stroke-width="0" />
<circle cx="132.20" cy="83.20" r="1.40" fill="#d63a44" stroke="none" stroke-width="0" />
<circle cx="140.00" cy="71.20" r="2.40" fill="#d8353a" stroke="#8c2a22" stroke-width="0.5" />
<circle cx="153.30" cy="57.90" r="2.40" fill="#d8353a" stroke="#8c2a22" stroke-width="0.5" />
<circle cx="166.30" cy="71.20" r="2.40" fill="#d8353a" stroke="#8c2a22" stroke-width="0.5" />
<circle cx="153.30" cy="83.50" r="2.40" fill="#d8353a" stroke="#8c2a22" stroke-width="0.5" />
<rect x="139.2" y="79.2" width="3.6" height="8.2" rx="1.6" fill="#d8353a"/>
<rect x="136.70" y="63.20" width="7.00" height="3.40" fill="#1d1d1d" stroke="none" stroke-width="0" />
<rect x="137.68" y="64.10" width="1.96" height="1.60" fill="#a8b09a"/>
<rect x="140.76" y="64.10" width="1.96" height="1.60" fill="#a8b09a"/>
<rect x="157.00" y="55.70" width="7.00" height="3.30" fill="#1d1d1d" stroke="none" stroke-width="0" />
<rect x="157.98" y="56.60" width="1.96" height="1.50" fill="#a8b09a"/>
<rect x="161.06" y="56.60" width="1.96" height="1.50" fill="#a8b09a"/>
<rect x="162.70" y="63.50" width="7.10" height="3.10" fill="#1d1d1d" stroke="none" stroke-width="0" />
<rect x="163.69" y="64.40" width="1.99" height="1.30" fill="#a8b09a"/>
<rect x="166.82" y="64.40" width="1.99" height="1.30" fill="#a8b09a"/>
<rect x="149.40" y="87.40" width="7.00" height="3.10" fill="#1d1d1d" stroke="none" stroke-width="0" />
<rect x="150.38" y="88.30" width="1.96" height="1.30" fill="#a8b09a"/>
<rect x="153.46" y="88.30" width="1.96" height="1.30" fill="#a8b09a"/>
<circle cx="168.10" cy="85.00" r="3.20" fill="#fbfbe6" stroke="none" stroke-width="0" />
<rect x="174" y="83.2" width="10.6" height="4.2" fill="#c8373a"/>
<rect x="175.60" y="84.4" width="1.7" height="1.8" fill="#f2d6d0"/>
<rect x="178.50" y="84.4" width="1.7" height="1.8" fill="#f2d6d0"/>
<rect x="181.40" y="84.4" width="1.7" height="1.8" fill="#f2d6d0"/>
<circle cx="189.50" cy="84.30" r="1.30" fill="#e8e6a8" stroke="none" stroke-width="0" />
<circle cx="82.90" cy="110.90" r="0.80" fill="#e8e6a8" stroke="none" stroke-width="0" />
<circle cx="82.90" cy="124.10" r="0.80" fill="#e8e6a8" stroke="none" stroke-width="0" />
<circle cx="96.10" cy="110.90" r="0.80" fill="#e8e6a8" stroke="none" stroke-width="0" />
<circle cx="96.10" cy="124.10" r="0.80" fill="#e8e6a8" stroke="none" stroke-width="0" />
<circle cx="89.50" cy="117.50" r="6.60" fill="#1d1d1d" stroke="none" stroke-width="0" />
<circle cx="89.50" cy="117.50" r="4.30" fill="#b5b6b6" stroke="none" stroke-width="0" />
<rect x="83.30" y="125.80" width="12.50" height="4.20" fill="#1d1d1d" stroke="none" stroke-width="0" />
<rect x="84.60" y="127.10" width="1.30" height="1.6" fill="#d9d9d9"/>
<rect x="86.70" y="127.10" width="1.30" height="1.6" fill="#d9d9d9"/>
<rect x="88.80" y="127.10" width="1.30" height="1.6" fill="#d9d9d9"/>
<rect x="90.90" y="127.10" width="1.30" height="1.6" fill="#d9d9d9"/>
<rect x="93.00" y="127.10" width="1.30" height="1.6" fill="#d9d9d9"/>
<rect x="97.50" y="114.00" width="20.80" height="23.50" fill="none" stroke="#3b3f16" stroke-width="0.9" />
<circle cx="108.00" cy="125.30" r="8.60" fill="#1d1d1d" stroke="none" stroke-width="0" />
<circle cx="108.00" cy="125.30" r="7.60" fill="#b5b6b6" stroke="none" stroke-width="0" />
<circle cx="101.00" cy="133.50" r="0.70" fill="#e8e6a8" stroke="none" stroke-width="0" />
<rect x="120.80" y="115.00" width="44.20" height="50.80" fill="none" stroke="#3b3f16" stroke-width="0.9" rx="5" />
<circle cx="147.00" cy="128.00" r="7.30" fill="#b5b6b6" stroke="#8e9270" stroke-width="0.6" />
<rect x="168.30" y="115.80" width="36.70" height="48.40" fill="none" stroke="#3b3f16" stroke-width="0.9" />
<circle cx="77.60" cy="143.10" r="0.80" fill="#e8e6a8" stroke="none" stroke-width="0" />
<circle cx="77.60" cy="156.30" r="0.80" fill="#e8e6a8" stroke="none" stroke-width="0" />
<circle cx="90.80" cy="143.10" r="0.80" fill="#e8e6a8" stroke="none" stroke-width="0" />
<circle cx="90.80" cy="156.30" r="0.80" fill="#e8e6a8" stroke="none" stroke-width="0" />
<circle cx="84.20" cy="149.70" r="6.90" fill="#1d1d1d" stroke="none" stroke-width="0" />
<circle cx="84.20" cy="149.70" r="4.40" fill="#b5b6b6" stroke="none" stroke-width="0" />
<circle cx="99.70" cy="143.10" r="0.80" fill="#e8e6a8" stroke="none" stroke-width="0" />
<circle cx="99.70" cy="156.30" r="0.80" fill="#e8e6a8" stroke="none" stroke-width="0" />
<circle cx="112.90" cy="143.10" r="0.80" fill="#e8e6a8" stroke="none" stroke-width="0" />
<circle cx="112.90" cy="156.30" r="0.80" fill="#e8e6a8" stroke="none" stroke-width="0" />
<circle cx="106.30" cy="149.70" r="6.90" fill="#1d1d1d" stroke="none" stroke-width="0" />
<circle cx="106.30" cy="149.70" r="4.40" fill="#b5b6b6" stroke="none" stroke-width="0" />
<rect x="68.30" y="144.00" width="7.50" height="9.30" fill="#1d1d1d" stroke="none" stroke-width="0" />
<rect x="69.4" y="145.60" width="5.2" height="1" fill="#9aa0a8"/>
<rect x="69.4" y="148.00" width="5.2" height="1" fill="#9aa0a8"/>
<rect x="69.4" y="150.40" width="5.2" height="1" fill="#9aa0a8"/>
<circle cx="65.00" cy="149.00" r="1.50" fill="#f4f4e0" stroke="none" stroke-width="0" />
<rect x="74.00" y="159.00" width="20.00" height="5.70" fill="#1d1d1d" stroke="none" stroke-width="0" />
<rect x="75.30" y="161.05" width="1.45" height="1.6" fill="#d9d9d9"/>
<rect x="77.55" y="161.05" width="1.45" height="1.6" fill="#d9d9d9"/>
<rect x="79.80" y="161.05" width="1.45" height="1.6" fill="#d9d9d9"/>
<rect x="82.05" y="161.05" width="1.45" height="1.6" fill="#d9d9d9"/>
<rect x="84.30" y="161.05" width="1.45" height="1.6" fill="#d9d9d9"/>
<rect x="86.55" y="161.05" width="1.45" height="1.6" fill="#d9d9d9"/>
<rect x="88.80" y="161.05" width="1.45" height="1.6" fill="#d9d9d9"/>
<rect x="91.05" y="161.05" width="1.45" height="1.6" fill="#d9d9d9"/>
<rect x="96.30" y="159.00" width="20.40" height="5.70" fill="#1d1d1d" stroke="none" stroke-width="0" />
<rect x="97.60" y="161.05" width="1.50" height="1.6" fill="#d9d9d9"/>
<rect x="99.90" y="161.05" width="1.50" height="1.6" fill="#d9d9d9"/>
<rect x="102.20" y="161.05" width="1.50" height="1.6" fill="#d9d9d9"/>
<rect x="104.50" y="161.05" width="1.50" height="1.6" fill="#d9d9d9"/>
<rect x="106.80" y="161.05" width="1.50" height="1.6" fill="#d9d9d9"/>
<rect x="109.10" y="161.05" width="1.50" height="1.6" fill="#d9d9d9"/>
<rect x="111.40" y="161.05" width="1.50" height="1.6" fill="#d9d9d9"/>
<rect x="113.70" y="161.05" width="1.50" height="1.6" fill="#d9d9d9"/>
<rect x="208.30" y="114.70" width="86.70" height="19.30" fill="none" stroke="#3b3f16" stroke-width="0.9" />
<rect x="208.30" y="134.00" width="86.70" height="17.70" fill="none" stroke="#3b3f16" stroke-width="0.9" />
<circle cx="214.20" cy="120.80" r="3.10" fill="#3c2a1c" stroke="none" stroke-width="0" />
<circle cx="214.20" cy="120.80" r="2.20" fill="#d92f38" stroke="none" stroke-width="0" />
<circle cx="214.20" cy="129.20" r="3.10" fill="#3c2a1c" stroke="none" stroke-width="0" />
<circle cx="214.20" cy="129.20" r="2.20" fill="#d92f38" stroke="none" stroke-width="0" />
<circle cx="242.50" cy="120.80" r="3.10" fill="#3c2a1c" stroke="none" stroke-width="0" />
<circle cx="242.50" cy="120.80" r="2.20" fill="#d92f38" stroke="none" stroke-width="0" />
<circle cx="242.50" cy="129.20" r="3.10" fill="#3c2a1c" stroke="none" stroke-width="0" />
<circle cx="242.50" cy="129.20" r="2.20" fill="#d92f38" stroke="none" stroke-width="0" />
<circle cx="219.70" cy="115.60" r="0.80" fill="#e8e6a8" stroke="none" stroke-width="0" />
<circle cx="219.70" cy="132.80" r="0.80" fill="#e8e6a8" stroke="none" stroke-width="0" />
<circle cx="236.90" cy="115.60" r="0.80" fill="#e8e6a8" stroke="none" stroke-width="0" />
<circle cx="236.90" cy="132.80" r="0.80" fill="#e8e6a8" stroke="none" stroke-width="0" />
<circle cx="228.30" cy="124.20" r="9.20" fill="#1d1d1d" stroke="none" stroke-width="0" />
<circle cx="228.30" cy="124.20" r="6.50" fill="#b5b6b6" stroke="none" stroke-width="0" />
<rect x="248.30" y="114.70" width="17.50" height="18.60" fill="#1d1d1d" stroke="none" stroke-width="0" />
<circle cx="275.30" cy="122.50" r="7.60" fill="#1d1d1d" stroke="none" stroke-width="0" />
<circle cx="281.20" cy="122.50" r="0.75" fill="#e6e6e6" stroke="none" stroke-width="0" />
<circle cx="280.41" cy="125.45" r="0.75" fill="#e6e6e6" stroke="none" stroke-width="0" />
<circle cx="278.25" cy="127.61" r="0.75" fill="#e6e6e6" stroke="none" stroke-width="0" />
<circle cx="275.30" cy="128.40" r="0.75" fill="#e6e6e6" stroke="none" stroke-width="0" />
<circle cx="272.35" cy="127.61" r="0.75" fill="#e6e6e6" stroke="none" stroke-width="0" />
<circle cx="270.19" cy="125.45" r="0.75" fill="#e6e6e6" stroke="none" stroke-width="0" />
<circle cx="269.40" cy="122.50" r="0.75" fill="#e6e6e6" stroke="none" stroke-width="0" />
<circle cx="270.19" cy="119.55" r="0.75" fill="#e6e6e6" stroke="none" stroke-width="0" />
<circle cx="272.35" cy="117.39" r="0.75" fill="#e6e6e6" stroke="none" stroke-width="0" />
<circle cx="275.30" cy="116.60" r="0.75" fill="#e6e6e6" stroke="none" stroke-width="0" />
<circle cx="278.25" cy="117.39" r="0.75" fill="#e6e6e6" stroke="none" stroke-width="0" />
<circle cx="280.41" cy="119.55" r="0.75" fill="#e6e6e6" stroke="none" stroke-width="0" />
<path d="M273,124 A2.6,2.6 0 1 1 277.6,124" fill="none" stroke="#e8e8e8" stroke-width="1.1"/>
<circle cx="212.50" cy="144.20" r="1.90" fill="#26280f" stroke="none" stroke-width="0" />
<circle cx="218.70" cy="144.20" r="1.90" fill="#26280f" stroke="none" stroke-width="0" />
<circle cx="225.00" cy="144.20" r="1.90" fill="#26280f" stroke="none" stroke-width="0" />
<circle cx="231.20" cy="144.20" r="1.90" fill="#26280f" stroke="none" stroke-width="0" />
<rect x="236.50" y="137.6" width="10.4" height="6.6" rx="2.6" fill="#1d1d1d"/>
<circle cx="241.70" cy="140.80" r="2.30" fill="#dc2f38" stroke="none" stroke-width="0" />
<rect x="237.50" y="146.2" width="1.1" height="1.5" fill="#e8e6a8"/>
<rect x="239.40" y="146.2" width="1.1" height="1.5" fill="#e8e6a8"/>
<rect x="241.30" y="146.2" width="1.1" height="1.5" fill="#e8e6a8"/>
<rect x="243.20" y="146.2" width="1.1" height="1.5" fill="#e8e6a8"/>
<rect x="245.10" y="146.2" width="1.1" height="1.5" fill="#e8e6a8"/>
<rect x="251.10" y="137.6" width="10.4" height="6.6" rx="2.6" fill="#1d1d1d"/>
<circle cx="256.30" cy="140.80" r="2.30" fill="#dc2f38" stroke="none" stroke-width="0" />
<rect x="252.10" y="146.2" width="1.1" height="1.5" fill="#e8e6a8"/>
<rect x="254.00" y="146.2" width="1.1" height="1.5" fill="#e8e6a8"/>
<rect x="255.90" y="146.2" width="1.1" height="1.5" fill="#e8e6a8"/>
<rect x="257.80" y="146.2" width="1.1" height="1.5" fill="#e8e6a8"/>
<rect x="259.70" y="146.2" width="1.1" height="1.5" fill="#e8e6a8"/>
<rect x="265.60" y="137.6" width="10.4" height="6.6" rx="2.6" fill="#1d1d1d"/>
<circle cx="270.80" cy="140.80" r="2.30" fill="#dc2f38" stroke="none" stroke-width="0" />
<rect x="266.60" y="146.2" width="1.1" height="1.5" fill="#e8e6a8"/>
<rect x="268.50" y="146.2" width="1.1" height="1.5" fill="#e8e6a8"/>
<rect x="270.40" y="146.2" width="1.1" height="1.5" fill="#e8e6a8"/>
<rect x="272.30" y="146.2" width="1.1" height="1.5" fill="#e8e6a8"/>
<rect x="274.20" y="146.2" width="1.1" height="1.5" fill="#e8e6a8"/>
<rect x="280.60" y="137.6" width="10.4" height="6.6" rx="2.6" fill="#1d1d1d"/>
<circle cx="285.80" cy="140.80" r="2.30" fill="#dc2f38" stroke="none" stroke-width="0" />
<rect x="281.60" y="146.2" width="1.1" height="1.5" fill="#e8e6a8"/>
<rect x="283.50" y="146.2" width="1.1" height="1.5" fill="#e8e6a8"/>
<rect x="285.40" y="146.2" width="1.1" height="1.5" fill="#e8e6a8"/>
<rect x="297.20" y="115.00" width="34.80" height="17.70" fill="#1d1d1d" stroke="none" stroke-width="0" />
<rect x="297.20" y="135.80" width="34.80" height="16.50" fill="#1d1d1d" stroke="none" stroke-width="0" />
<path d="M298.70,120.80 a1.7,1.9 0 0 1 3.4,0 l-0.9,3.2 v2.2 h-1.6 v-2.2 z" fill="#ececec"/>
<rect x="299.10" y="117.80" width="2.6" height="1" fill="#9a9a9a"/>
<circle cx="300.40" cy="128.60" r="0.60" fill="#d8d8d8" stroke="none" stroke-width="0" />
<circle cx="300.40" cy="130.60" r="0.45" fill="#aaaaaa" stroke="none" stroke-width="0" />
<circle cx="300.40" cy="116.40" r="0.50" fill="#bbbbbb" stroke="none" stroke-width="0" />
<path d="M298.70,141.20 a1.7,1.9 0 0 1 3.4,0 l-0.9,3.2 v2.2 h-1.6 v-2.2 z" fill="#ececec"/>
<rect x="299.10" y="138.20" width="2.6" height="1" fill="#9a9a9a"/>
<circle cx="300.40" cy="149.00" r="0.60" fill="#d8d8d8" stroke="none" stroke-width="0" />
<circle cx="300.40" cy="151.00" r="0.45" fill="#aaaaaa" stroke="none" stroke-width="0" />
<circle cx="300.40" cy="136.80" r="0.50" fill="#bbbbbb" stroke="none" stroke-width="0" />
<path d="M304.30,120.80 a1.7,1.9 0 0 1 3.4,0 l-0.9,3.2 v2.2 h-1.6 v-2.2 z" fill="#ececec"/>
<rect x="304.70" y="117.80" width="2.6" height="1" fill="#9a9a9a"/>
<circle cx="306.00" cy="128.60" r="0.60" fill="#d8d8d8" stroke="none" stroke-width="0" />
<circle cx="306.00" cy="130.60" r="0.45" fill="#aaaaaa" stroke="none" stroke-width="0" />
<circle cx="306.00" cy="116.40" r="0.50" fill="#bbbbbb" stroke="none" stroke-width="0" />
<path d="M304.30,141.20 a1.7,1.9 0 0 1 3.4,0 l-0.9,3.2 v2.2 h-1.6 v-2.2 z" fill="#ececec"/>
<rect x="304.70" y="138.20" width="2.6" height="1" fill="#9a9a9a"/>
<circle cx="306.00" cy="149.00" r="0.60" fill="#d8d8d8" stroke="none" stroke-width="0" />
<circle cx="306.00" cy="151.00" r="0.45" fill="#aaaaaa" stroke="none" stroke-width="0" />
<circle cx="306.00" cy="136.80" r="0.50" fill="#bbbbbb" stroke="none" stroke-width="0" />
<path d="M309.90,120.80 a1.7,1.9 0 0 1 3.4,0 l-0.9,3.2 v2.2 h-1.6 v-2.2 z" fill="#ececec"/>
<rect x="310.30" y="117.80" width="2.6" height="1" fill="#9a9a9a"/>
<circle cx="311.60" cy="128.60" r="0.60" fill="#d8d8d8" stroke="none" stroke-width="0" />
<circle cx="311.60" cy="130.60" r="0.45" fill="#aaaaaa" stroke="none" stroke-width="0" />
<circle cx="311.60" cy="116.40" r="0.50" fill="#bbbbbb" stroke="none" stroke-width="0" />
<path d="M309.90,141.20 a1.7,1.9 0 0 1 3.4,0 l-0.9,3.2 v2.2 h-1.6 v-2.2 z" fill="#ececec"/>
<rect x="310.30" y="138.20" width="2.6" height="1" fill="#9a9a9a"/>
<circle cx="311.60" cy="149.00" r="0.60" fill="#d8d8d8" stroke="none" stroke-width="0" />
<circle cx="311.60" cy="151.00" r="0.45" fill="#aaaaaa" stroke="none" stroke-width="0" />
<circle cx="311.60" cy="136.80" r="0.50" fill="#bbbbbb" stroke="none" stroke-width="0" />
<path d="M315.50,120.80 a1.7,1.9 0 0 1 3.4,0 l-0.9,3.2 v2.2 h-1.6 v-2.2 z" fill="#ececec"/>
<rect x="315.90" y="117.80" width="2.6" height="1" fill="#9a9a9a"/>
<circle cx="317.20" cy="128.60" r="0.60" fill="#d8d8d8" stroke="none" stroke-width="0" />
<circle cx="317.20" cy="130.60" r="0.45" fill="#aaaaaa" stroke="none" stroke-width="0" />
<circle cx="317.20" cy="116.40" r="0.50" fill="#bbbbbb" stroke="none" stroke-width="0" />
<path d="M315.50,141.20 a1.7,1.9 0 0 1 3.4,0 l-0.9,3.2 v2.2 h-1.6 v-2.2 z" fill="#ececec"/>
<rect x="315.90" y="138.20" width="2.6" height="1" fill="#9a9a9a"/>
<circle cx="317.20" cy="149.00" r="0.60" fill="#d8d8d8" stroke="none" stroke-width="0" />
<circle cx="317.20" cy="151.00" r="0.45" fill="#aaaaaa" stroke="none" stroke-width="0" />
<circle cx="317.20" cy="136.80" r="0.50" fill="#bbbbbb" stroke="none" stroke-width="0" />
<path d="M321.10,120.80 a1.7,1.9 0 0 1 3.4,0 l-0.9,3.2 v2.2 h-1.6 v-2.2 z" fill="#ececec"/>
<rect x="321.50" y="117.80" width="2.6" height="1" fill="#9a9a9a"/>
<circle cx="322.80" cy="128.60" r="0.60" fill="#d8d8d8" stroke="none" stroke-width="0" />
<circle cx="322.80" cy="130.60" r="0.45" fill="#aaaaaa" stroke="none" stroke-width="0" />
<circle cx="322.80" cy="116.40" r="0.50" fill="#bbbbbb" stroke="none" stroke-width="0" />
<path d="M326.70,120.80 a1.7,1.9 0 0 1 3.4,0 l-0.9,3.2 v2.2 h-1.6 v-2.2 z" fill="#ececec"/>
<rect x="327.10" y="117.80" width="2.6" height="1" fill="#9a9a9a"/>
<circle cx="328.40" cy="128.60" r="0.60" fill="#d8d8d8" stroke="none" stroke-width="0" />
<circle cx="328.40" cy="130.60" r="0.45" fill="#aaaaaa" stroke="none" stroke-width="0" />
<circle cx="328.40" cy="116.40" r="0.50" fill="#bbbbbb" stroke="none" stroke-width="0" />
<rect x="320.6" y="137.4" width="4.3" height="13.4" fill="#e3262d"/><rect x="326.1" y="137.4" width="4.3" height="13.4" fill="#e3262d"/>
<rect x="297.50" y="152.50" width="34.10" height="14.10" fill="none" stroke="#3b3f16" stroke-width="0.8" />
<rect x="300.00" y="158.30" width="19.00" height="5.70" fill="#1d1d1d" stroke="none" stroke-width="0" />
<rect x="301.30" y="160.35" width="1.63" height="1.6" fill="#d9d9d9"/>
<rect x="303.73" y="160.35" width="1.63" height="1.6" fill="#d9d9d9"/>
<rect x="306.16" y="160.35" width="1.63" height="1.6" fill="#d9d9d9"/>
<rect x="308.59" y="160.35" width="1.63" height="1.6" fill="#d9d9d9"/>
<rect x="311.01" y="160.35" width="1.63" height="1.6" fill="#d9d9d9"/>
<rect x="313.44" y="160.35" width="1.63" height="1.6" fill="#d9d9d9"/>
<rect x="315.87" y="160.35" width="1.63" height="1.6" fill="#d9d9d9"/>
<path d="M324.6,158 h5.8 l-2.9,4.6 z" fill="#e3262d"/><circle cx="326" cy="158.4" r="1.5" fill="#e3262d"/><circle cx="329" cy="158.4" r="1.5" fill="#e3262d"/>
<rect x="334.00" y="115.00" width="42.70" height="50.80" fill="none" stroke="#3b3f16" stroke-width="0.9" rx="5" />
<circle cx="359.20" cy="128.30" r="7.30" fill="#b5b6b6" stroke="#8e9270" stroke-width="0.6" />
<rect x="377.50" y="120.00" width="2.90" height="44.00" fill="#bfc1c0" stroke="none" stroke-width="0" />
<circle cx="405.30" cy="120.80" r="4.00" fill="#1d1d1d" stroke="none" stroke-width="0" />
<path d="M403.4,119.4 A2.2,2.2 0 1 0 407.2,119.4" fill="none" stroke="#d0d0d0" stroke-width="0.8"/>
<circle cx="385.00" cy="160.80" r="1.00" fill="#f4f0dc" stroke="none" stroke-width="0" />
<circle cx="405.00" cy="160.80" r="1.00" fill="#f4f0dc" stroke="none" stroke-width="0" />
<circle cx="424.70" cy="160.80" r="1.00" fill="#f4f0dc" stroke="none" stroke-width="0" />
<circle cx="443.00" cy="160.80" r="1.00" fill="#f4f0dc" stroke="none" stroke-width="0" />
<rect x="389.00" y="165.80" width="32.70" height="10.90" fill="#1d1d1d" stroke="none" stroke-width="0" />
<rect x="392.75" y="167.60" width="1.5" height="1.3" fill="#c8c8c0"/>
<rect x="395.10" y="167.60" width="1.5" height="1.3" fill="#c8c8c0"/>
<rect x="397.45" y="167.60" width="1.5" height="1.3" fill="#c8c8c0"/>
<rect x="399.80" y="167.60" width="1.5" height="1.3" fill="#c8c8c0"/>
<rect x="404.50" y="167.60" width="1.5" height="1.3" fill="#c8c8c0"/>
<rect x="406.85" y="167.60" width="1.5" height="1.3" fill="#c8c8c0"/>
<rect x="409.20" y="167.60" width="1.5" height="1.3" fill="#c8c8c0"/>
<rect x="411.55" y="167.60" width="1.5" height="1.3" fill="#c8c8c0"/>
<rect x="416.25" y="167.60" width="1.5" height="1.3" fill="#c8c8c0"/>
<rect x="418.60" y="167.60" width="1.5" height="1.3" fill="#c8c8c0"/>
<rect x="390.40" y="170.50" width="1.5" height="1.3" fill="#c8c8c0"/>
<rect x="395.10" y="170.50" width="1.5" height="1.3" fill="#c8c8c0"/>
<rect x="397.45" y="170.50" width="1.5" height="1.3" fill="#c8c8c0"/>
<rect x="399.80" y="170.50" width="1.5" height="1.3" fill="#c8c8c0"/>
<rect x="402.15" y="170.50" width="1.5" height="1.3" fill="#c8c8c0"/>
<rect x="406.85" y="170.50" width="1.5" height="1.3" fill="#c8c8c0"/>
<rect x="409.20" y="170.50" width="1.5" height="1.3" fill="#c8c8c0"/>
<rect x="411.55" y="170.50" width="1.5" height="1.3" fill="#c8c8c0"/>
<rect x="413.90" y="170.50" width="1.5" height="1.3" fill="#c8c8c0"/>
<rect x="418.60" y="170.50" width="1.5" height="1.3" fill="#c8c8c0"/>
<rect x="390.40" y="173.40" width="1.5" height="1.3" fill="#c8c8c0"/>
<rect x="392.75" y="173.40" width="1.5" height="1.3" fill="#c8c8c0"/>
<rect x="397.45" y="173.40" width="1.5" height="1.3" fill="#c8c8c0"/>
<rect x="399.80" y="173.40" width="1.5" height="1.3" fill="#c8c8c0"/>
<rect x="402.15" y="173.40" width="1.5" height="1.3" fill="#c8c8c0"/>
<rect x="404.50" y="173.40" width="1.5" height="1.3" fill="#c8c8c0"/>
<rect x="409.20" y="173.40" width="1.5" height="1.3" fill="#c8c8c0"/>
<rect x="411.55" y="173.40" width="1.5" height="1.3" fill="#c8c8c0"/>
<rect x="413.90" y="173.40" width="1.5" height="1.3" fill="#c8c8c0"/>
<rect x="416.25" y="173.40" width="1.5" height="1.3" fill="#c8c8c0"/>
<path d="M393.3,98 V113 H334" fill="none" stroke="#c9cf8a" stroke-width="0.5" stroke-dasharray="0.8 1.2"/>
<polygon points="43.20,226.80 177.50,226.80 177.50,198.30 204.20,198.30 204.20,226.80 215.80,226.80 215.80,273.80 286.30,273.80 286.30,227.30 460.00,227.30 460.00,279.60 426.30,338.50 381.30,377.10 102.10,377.10 43.20,282.80" fill="#b3b5b4" stroke="#484b4a" stroke-width="1.25" stroke-linejoin="miter" />
<rect x="59.60" y="226.80" width="5" height="13.20" fill="#dcdedd"/>
<line x1="59.60" y1="226.80" x2="59.60" y2="240.00" stroke="#484b4a" stroke-width="0.9" />
<line x1="64.60" y1="226.80" x2="64.60" y2="240.00" stroke="#484b4a" stroke-width="0.9" />
<rect x="306.20" y="227.30" width="5" height="12.70" fill="#dcdedd"/>
<line x1="306.20" y1="227.30" x2="306.20" y2="240.00" stroke="#484b4a" stroke-width="0.9" />
<line x1="311.20" y1="227.30" x2="311.20" y2="240.00" stroke="#484b4a" stroke-width="0.9" />
<rect x="438.80" y="227.30" width="4.6" height="12.70" fill="#dcdedd"/>
<line x1="438.80" y1="227.30" x2="438.80" y2="240.00" stroke="#484b4a" stroke-width="0.9" />
<line x1="443.40" y1="227.30" x2="443.40" y2="240.00" stroke="#484b4a" stroke-width="0.9" />
<rect x="193.50" y="368.20" width="5" height="8.90" fill="#dcdedd"/>
<line x1="193.50" y1="368.20" x2="193.50" y2="377.10" stroke="#484b4a" stroke-width="0.9" />
<line x1="198.50" y1="368.20" x2="198.50" y2="377.10" stroke="#484b4a" stroke-width="0.9" />
<rect x="304.30" y="368.40" width="5" height="8.70" fill="#dcdedd"/>
<line x1="304.30" y1="368.40" x2="304.30" y2="377.10" stroke="#484b4a" stroke-width="0.9" />
<line x1="309.30" y1="368.40" x2="309.30" y2="377.10" stroke="#484b4a" stroke-width="0.9" />
<g transform="translate(82.50,335.00) rotate(-33)"><rect x="-6.50" y="-1.8" width="13.00" height="3.6" fill="#dcdedd"/><line x1="-6.50" y1="-1.8" x2="6.50" y2="-1.8" stroke="#484b4a" stroke-width="0.9"/><line x1="-6.50" y1="1.8" x2="6.50" y2="1.8" stroke="#484b4a" stroke-width="0.9"/></g>
<g transform="translate(420.40,335.70) rotate(42.8)"><rect x="-6.50" y="-1.8" width="13.00" height="3.6" fill="#dcdedd"/><line x1="-6.50" y1="-1.8" x2="6.50" y2="-1.8" stroke="#484b4a" stroke-width="0.9"/><line x1="-6.50" y1="1.8" x2="6.50" y2="1.8" stroke="#484b4a" stroke-width="0.9"/></g>
<path d="M189.2,198.3 V205 H192.5 V198.3 M189.6,223.5 V230 L186.8,232 V239.6 H194.3 V232 L191.9,230 V223.5" fill="#dcdedd" stroke="#484b4a" stroke-width="0.9" />
<rect x="188.90" y="198.30" width="3.60" height="8.70" fill="#dcdedd" stroke="none" stroke-width="0" />
<line x1="188.90" y1="198.30" x2="188.90" y2="207.00" stroke="#484b4a" stroke-width="0.9" />
<line x1="192.50" y1="198.30" x2="192.50" y2="207.00" stroke="#484b4a" stroke-width="0.9" />
<circle cx="190.60" cy="210.00" r="4.20" fill="#e2222c" stroke="none" stroke-width="0" />
<circle cx="190.60" cy="219.20" r="4.20" fill="#e2222c" stroke="none" stroke-width="0" />
<path d="M50.1,240 H206.7 V282.6 H296 V240 H453.2 C453.08,241.00 452.78,243.13 452.50,246.00 C452.22,248.87 451.98,253.23 451.50,257.20 C451.02,261.17 450.40,265.60 449.60,269.80 C448.80,274.00 447.60,279.03 446.70,282.40 C445.80,285.77 445.55,287.12 444.20,290.00 C442.85,292.88 440.97,295.63 438.60,299.70 C436.23,303.77 433.52,309.50 430.00,314.40 C426.48,319.30 420.83,325.32 417.50,329.10 C414.17,332.88 413.42,334.33 410.00,337.10 C406.58,339.87 401.53,342.97 397.00,345.70 C392.47,348.43 387.55,351.23 382.80,353.50 C378.05,355.77 373.27,357.63 368.50,359.30 C363.73,360.97 358.97,362.32 354.20,363.50 C349.43,364.68 344.65,365.68 339.90,366.40 C335.15,367.12 334.02,367.42 325.70,367.80 C317.38,368.18 302.28,368.53 290.00,368.70 C277.72,368.87 264.50,368.83 252.00,368.80 C239.50,368.77 226.90,368.67 215.00,368.50 C203.10,368.33 188.72,368.08 180.60,367.80 C172.48,367.52 171.05,367.27 166.30,366.80 C161.55,366.33 156.85,365.90 152.10,365.00 C147.35,364.10 142.57,362.95 137.80,361.40 C133.03,359.85 128.25,357.97 123.50,355.70 C118.75,353.43 113.15,350.25 109.30,347.80 C105.45,345.35 103.28,343.20 100.40,341.00 C97.52,338.80 94.62,336.80 92.00,334.60 C89.38,332.40 87.82,331.03 84.70,327.80 C81.58,324.57 76.57,319.40 73.30,315.20 C70.03,311.00 67.05,306.47 65.10,302.60 C63.15,298.73 62.73,295.37 61.60,292.00 C60.47,288.63 59.48,286.10 58.30,282.40 C57.12,278.70 55.55,274.00 54.50,269.80 C53.45,265.60 52.67,261.17 52.00,257.20 C51.33,253.23 50.82,248.87 50.50,246.00 C50.18,243.13 50.17,241.00 50.10,240.00 Z" fill="#1d1d1d" stroke="none" stroke-width="0" />
<polygon points="229.20,195.80 274.20,195.80 274.20,239.20 268.30,239.20 268.30,263.30 235.80,263.30 235.80,239.20 229.20,239.20" fill="#b3b5b4" stroke="#484b4a" stroke-width="1.25" stroke-linejoin="miter" />
<rect x="249.50" y="195.80" width="4.4" height="8.40" fill="#dcdedd"/>
<line x1="249.50" y1="195.80" x2="249.50" y2="204.20" stroke="#484b4a" stroke-width="0.9" />
<line x1="253.90" y1="195.80" x2="253.90" y2="204.20" stroke="#484b4a" stroke-width="0.9" />
<rect x="249.50" y="252.50" width="4.4" height="10.80" fill="#dcdedd"/>
<line x1="249.50" y1="252.50" x2="249.50" y2="263.30" stroke="#484b4a" stroke-width="0.9" />
<line x1="253.90" y1="252.50" x2="253.90" y2="263.30" stroke="#484b4a" stroke-width="0.9" />
<path d="M237.5,204.2 H265.8 V230.8 H260 V252.5 H243.3 V230.8 H237.5 Z" fill="#1d1d1d" stroke="none" stroke-width="0" />
<line x1="251.70" y1="213.30" x2="251.70" y2="221.60" stroke="#e6e6e6" stroke-width="0.9" />
<rect x="248.6" y="216.8" width="1.2" height="1.3" fill="#e6e6e6"/><rect x="253.6" y="216.8" width="1.2" height="1.3" fill="#e6e6e6"/>
<rect x="249.90" y="239.6" width="0.9" height="2.6" fill="#e6e6e6"/><rect x="249.90" y="243.6" width="0.9" height="1" fill="#e6e6e6"/>
<rect x="252.90" y="239.6" width="0.9" height="2.6" fill="#e6e6e6"/><rect x="252.90" y="243.6" width="0.9" height="1" fill="#e6e6e6"/>
<g fill="none" stroke="#e6e6e6" stroke-width="1.25"><path d="M122.10,314.30 C126.10,315.10 126.10,319.90 122.10,320.70"/><path d="M131.30,314.30 C127.30,315.10 127.30,319.90 131.30,320.70"/></g>
<rect x="123.30" y="311.60" width="1" height="1" fill="#e6e6e6"/>
<rect x="125.20" y="311.60" width="1" height="1" fill="#e6e6e6"/>
<rect x="127.10" y="311.60" width="1" height="1" fill="#e6e6e6"/>
<rect x="129.00" y="311.60" width="1" height="1" fill="#e6e6e6"/>
<rect x="124.70" y="322.60" width="0.9" height="1" fill="#e6e6e6"/>
<rect x="127.90" y="322.60" width="0.9" height="1" fill="#e6e6e6"/>
<g fill="none" stroke="#e6e6e6" stroke-width="1.25"><path d="M144.60,314.30 C148.60,315.10 148.60,319.90 144.60,320.70"/><path d="M153.80,314.30 C149.80,315.10 149.80,319.90 153.80,320.70"/></g>
<rect x="145.80" y="311.60" width="1" height="1" fill="#e6e6e6"/>
<rect x="147.70" y="311.60" width="1" height="1" fill="#e6e6e6"/>
<rect x="149.60" y="311.60" width="1" height="1" fill="#e6e6e6"/>
<rect x="151.50" y="311.60" width="1" height="1" fill="#e6e6e6"/>
<rect x="147.20" y="322.60" width="0.9" height="1" fill="#e6e6e6"/>
<rect x="150.40" y="322.60" width="0.9" height="1" fill="#e6e6e6"/>
<g fill="none" stroke="#e6e6e6" stroke-width="1.25"><path d="M122.10,341.50 C126.10,342.30 126.10,347.10 122.10,347.90"/><path d="M131.30,341.50 C127.30,342.30 127.30,347.10 131.30,347.90"/></g>
<line x1="122.50" y1="344.70" x2="130.90" y2="344.70" stroke="#e6e6e6" stroke-width="0.9" />
<rect x="123.30" y="349.60" width="1" height="1" fill="#e6e6e6"/>
<rect x="125.20" y="349.60" width="1" height="1" fill="#e6e6e6"/>
<rect x="127.10" y="349.60" width="1" height="1" fill="#e6e6e6"/>
<rect x="129.00" y="349.60" width="1" height="1" fill="#e6e6e6"/>
<rect x="124.70" y="338.60" width="0.9" height="1" fill="#e6e6e6"/>
<rect x="127.90" y="338.60" width="0.9" height="1" fill="#e6e6e6"/>
<g fill="none" stroke="#e6e6e6" stroke-width="1.25"><path d="M144.60,341.50 C148.60,342.30 148.60,347.10 144.60,347.90"/><path d="M153.80,341.50 C149.80,342.30 149.80,347.10 153.80,347.90"/></g>
<line x1="145.00" y1="344.70" x2="153.40" y2="344.70" stroke="#e6e6e6" stroke-width="0.9" />
<rect x="145.80" y="349.60" width="1" height="1" fill="#e6e6e6"/>
<rect x="147.70" y="349.60" width="1" height="1" fill="#e6e6e6"/>
<rect x="149.60" y="349.60" width="1" height="1" fill="#e6e6e6"/>
<rect x="151.50" y="349.60" width="1" height="1" fill="#e6e6e6"/>
<rect x="147.20" y="338.60" width="0.9" height="1" fill="#e6e6e6"/>
<rect x="150.40" y="338.60" width="0.9" height="1" fill="#e6e6e6"/>
<circle cx="171.70" cy="317.50" r="4.90" fill="none" stroke="#e6e6e6" stroke-width="4.61" stroke-dasharray="0.769 0.769" opacity="0.95"/>
<line x1="171.70" y1="317.50" x2="173.82" y2="311.67" stroke="#1d1d1d" stroke-width="1.6" />
<line x1="171.70" y1="317.50" x2="173.82" y2="311.67" stroke="#e6e6e6" stroke-width="0.8" />
<circle cx="194.20" cy="317.50" r="4.90" fill="none" stroke="#e6e6e6" stroke-width="4.61" stroke-dasharray="0.769 0.769" opacity="0.95"/>
<line x1="194.20" y1="317.50" x2="196.82" y2="311.88" stroke="#1d1d1d" stroke-width="1.6" />
<line x1="194.20" y1="317.50" x2="196.82" y2="311.88" stroke="#e6e6e6" stroke-width="0.8" />
<circle cx="216.70" cy="317.50" r="6.00" fill="none" stroke="#e6e6e6" stroke-width="2.40" stroke-dasharray="0.942 0.942" opacity="0.95"/>
<line x1="216.70" y1="317.50" x2="216.70" y2="311.30" stroke="#1d1d1d" stroke-width="1.6" />
<line x1="216.70" y1="317.50" x2="216.70" y2="311.30" stroke="#e6e6e6" stroke-width="0.8" />
<circle cx="238.70" cy="317.50" r="6.00" fill="none" stroke="#e6e6e6" stroke-width="2.40" stroke-dasharray="0.942 0.942" opacity="0.95"/>
<line x1="238.70" y1="317.50" x2="238.70" y2="311.30" stroke="#1d1d1d" stroke-width="1.6" />
<line x1="238.70" y1="317.50" x2="238.70" y2="311.30" stroke="#e6e6e6" stroke-width="0.8" />
<rect x="213.90" y="319.4" width="0.8" height="1.2" fill="#e6e6e6"/>
<rect x="215.40" y="319.4" width="0.8" height="1.2" fill="#e6e6e6"/>
<rect x="216.90" y="319.4" width="0.8" height="1.2" fill="#e6e6e6"/>
<rect x="218.40" y="319.4" width="0.8" height="1.2" fill="#e6e6e6"/>
<rect x="235.90" y="319.4" width="0.8" height="1.2" fill="#e6e6e6"/>
<rect x="237.40" y="319.4" width="0.8" height="1.2" fill="#e6e6e6"/>
<rect x="238.90" y="319.4" width="0.8" height="1.2" fill="#e6e6e6"/>
<rect x="240.40" y="319.4" width="0.8" height="1.2" fill="#e6e6e6"/>
<circle cx="171.70" cy="344.70" r="4.90" fill="none" stroke="#e6e6e6" stroke-width="4.61" stroke-dasharray="0.769 0.769" opacity="0.95"/>
<line x1="171.70" y1="344.70" x2="173.30" y2="338.71" stroke="#1d1d1d" stroke-width="1.6" />
<line x1="171.70" y1="344.70" x2="173.30" y2="338.71" stroke="#e6e6e6" stroke-width="0.8" />
<circle cx="194.20" cy="344.70" r="4.90" fill="none" stroke="#e6e6e6" stroke-width="4.61" stroke-dasharray="0.769 0.769" opacity="0.95"/>
<line x1="194.20" y1="344.70" x2="196.32" y2="338.87" stroke="#1d1d1d" stroke-width="1.6" />
<line x1="194.20" y1="344.70" x2="196.32" y2="338.87" stroke="#e6e6e6" stroke-width="0.8" />
<circle cx="216.70" cy="344.70" r="4.90" fill="none" stroke="#e6e6e6" stroke-width="4.61" stroke-dasharray="0.769 0.769" opacity="0.95"/>
<line x1="216.70" y1="344.70" x2="218.82" y2="350.53" stroke="#1d1d1d" stroke-width="1.6" />
<line x1="216.70" y1="344.70" x2="218.82" y2="350.53" stroke="#e6e6e6" stroke-width="0.8" />
<circle cx="238.70" cy="344.70" r="4.90" fill="none" stroke="#e6e6e6" stroke-width="4.61" stroke-dasharray="0.769 0.769" opacity="0.95"/>
<line x1="238.70" y1="344.70" x2="240.30" y2="350.69" stroke="#1d1d1d" stroke-width="1.6" />
<line x1="238.70" y1="344.70" x2="240.30" y2="350.69" stroke="#e6e6e6" stroke-width="0.8" />
<circle cx="275.00" cy="293.70" r="4.76" fill="none" stroke="#e6e6e6" stroke-width="4.48" stroke-dasharray="0.748 0.748" opacity="0.95"/>
<line x1="275.00" y1="293.70" x2="275.00" y2="287.70" stroke="#1d1d1d" stroke-width="1.6" />
<line x1="275.00" y1="293.70" x2="275.00" y2="287.70" stroke="#e6e6e6" stroke-width="0.8" />
<circle cx="275.00" cy="316.20" r="5.03" fill="none" stroke="#e6e6e6" stroke-width="4.74" stroke-dasharray="0.790 0.790" opacity="0.95"/>
<line x1="275.00" y1="316.20" x2="281.40" y2="316.20" stroke="#1d1d1d" stroke-width="1.6" />
<line x1="275.00" y1="316.20" x2="281.40" y2="316.20" stroke="#e6e6e6" stroke-width="0.8" />
<circle cx="323.70" cy="316.20" r="4.90" fill="none" stroke="#e6e6e6" stroke-width="4.61" stroke-dasharray="0.769 0.769" opacity="0.95"/>
<line x1="323.70" y1="316.20" x2="320.60" y2="321.57" stroke="#1d1d1d" stroke-width="1.6" />
<line x1="323.70" y1="316.20" x2="320.60" y2="321.57" stroke="#e6e6e6" stroke-width="0.8" />
<circle cx="323.70" cy="347.00" r="5.70" fill="none" stroke="#e6e6e6" stroke-width="2.60" stroke-dasharray="0.895 0.895" opacity="0.95"/>
<line x1="323.70" y1="347.00" x2="327.94" y2="342.76" stroke="#1d1d1d" stroke-width="1.6" />
<line x1="323.70" y1="347.00" x2="327.94" y2="342.76" stroke="#e6e6e6" stroke-width="0.8" />
<circle cx="395.00" cy="292.50" r="5.44" fill="none" stroke="#e6e6e6" stroke-width="5.12" stroke-dasharray="0.855 0.855" opacity="0.95"/>
<line x1="395.00" y1="292.50" x2="390.98" y2="298.23" stroke="#1d1d1d" stroke-width="1.6" />
<line x1="395.00" y1="292.50" x2="390.98" y2="298.23" stroke="#e6e6e6" stroke-width="0.8" />
<circle cx="257.00" cy="316.20" r="3.70" fill="none" stroke="#e6e6e6" stroke-width="1.5" />
<line x1="254.40" y1="316.20" x2="259.60" y2="316.20" stroke="#e6e6e6" stroke-width="1.5" />
<path d="M297,312.4 H307 V314.4 H297 Z M301.2,314.4 H302.8 V322.4 H301.2 Z" fill="#e6e6e6"/>
<line x1="266.20" y1="345.40" x2="282.50" y2="347.20" stroke="#e6e6e6" stroke-width="1.1" />
<line x1="266.20" y1="352.20" x2="282.50" y2="348.40" stroke="#e6e6e6" stroke-width="1.1" />
<line x1="297.60" y1="351.80" x2="307.60" y2="351.80" stroke="#e6e6e6" stroke-width="0.8" />
<rect x="298.20" y="352" width="0.9" height="2.6" fill="#e6e6e6"/>
<rect x="300.30" y="352" width="0.9" height="2.6" fill="#e6e6e6"/>
<rect x="302.40" y="352" width="0.9" height="2.6" fill="#e6e6e6"/>
<rect x="304.50" y="352" width="0.9" height="2.6" fill="#e6e6e6"/>
<rect x="306.60" y="352" width="0.9" height="2.6" fill="#e6e6e6"/>
<line x1="348.50" y1="347.45" x2="344.74" y2="346.08" stroke="#e6e6e6" stroke-width="0.8" />
<line x1="348.77" y1="346.97" x2="345.71" y2="344.40" stroke="#e6e6e6" stroke-width="0.8" />
<line x1="349.20" y1="346.61" x2="347.20" y2="343.15" stroke="#e6e6e6" stroke-width="0.8" />
<line x1="349.72" y1="346.42" x2="349.03" y2="342.49" stroke="#e6e6e6" stroke-width="0.8" />
<line x1="350.28" y1="346.42" x2="350.97" y2="342.49" stroke="#e6e6e6" stroke-width="0.8" />
<line x1="350.80" y1="346.61" x2="352.80" y2="343.15" stroke="#e6e6e6" stroke-width="0.8" />
<line x1="351.23" y1="346.97" x2="354.29" y2="344.40" stroke="#e6e6e6" stroke-width="0.8" />
<line x1="351.50" y1="347.45" x2="355.26" y2="346.08" stroke="#e6e6e6" stroke-width="0.8" />
<line x1="343.90" y1="348.60" x2="356.10" y2="348.60" stroke="#e6e6e6" stroke-width="0.9" />
<line x1="351.00" y1="350.73" x2="352.50" y2="353.33" stroke="#e6e6e6" stroke-width="0.8" />
<line x1="350.00" y1="351.00" x2="350.00" y2="354.00" stroke="#e6e6e6" stroke-width="0.8" />
<line x1="349.00" y1="350.73" x2="347.50" y2="353.33" stroke="#e6e6e6" stroke-width="0.8" />
<line x1="395.50" y1="268.95" x2="393.24" y2="268.13" stroke="#e6e6e6" stroke-width="0.8" />
<line x1="395.77" y1="268.47" x2="393.94" y2="266.93" stroke="#e6e6e6" stroke-width="0.8" />
<line x1="396.20" y1="268.11" x2="395.00" y2="266.04" stroke="#e6e6e6" stroke-width="0.8" />
<line x1="396.72" y1="267.92" x2="396.31" y2="265.56" stroke="#e6e6e6" stroke-width="0.8" />
<line x1="397.28" y1="267.92" x2="397.69" y2="265.56" stroke="#e6e6e6" stroke-width="0.8" />
<line x1="397.80" y1="268.11" x2="399.00" y2="266.04" stroke="#e6e6e6" stroke-width="0.8" />
<line x1="398.23" y1="268.47" x2="400.06" y2="266.93" stroke="#e6e6e6" stroke-width="0.8" />
<line x1="398.50" y1="268.95" x2="400.76" y2="268.13" stroke="#e6e6e6" stroke-width="0.8" />
<line x1="392.50" y1="270.10" x2="401.50" y2="270.10" stroke="#e6e6e6" stroke-width="0.9" />
<line x1="398.00" y1="272.23" x2="398.70" y2="273.44" stroke="#e6e6e6" stroke-width="0.8" />
<line x1="397.00" y1="272.50" x2="397.00" y2="273.90" stroke="#e6e6e6" stroke-width="0.8" />
<line x1="396.00" y1="272.23" x2="395.30" y2="273.44" stroke="#e6e6e6" stroke-width="0.8" />
<line x1="417.20" y1="268.95" x2="414.94" y2="268.13" stroke="#e6e6e6" stroke-width="0.8" />
<line x1="417.47" y1="268.47" x2="415.64" y2="266.93" stroke="#e6e6e6" stroke-width="0.8" />
<line x1="417.90" y1="268.11" x2="416.70" y2="266.04" stroke="#e6e6e6" stroke-width="0.8" />
<line x1="418.42" y1="267.92" x2="418.01" y2="265.56" stroke="#e6e6e6" stroke-width="0.8" />
<line x1="418.98" y1="267.92" x2="419.39" y2="265.56" stroke="#e6e6e6" stroke-width="0.8" />
<line x1="419.50" y1="268.11" x2="420.70" y2="266.04" stroke="#e6e6e6" stroke-width="0.8" />
<line x1="419.93" y1="268.47" x2="421.76" y2="266.93" stroke="#e6e6e6" stroke-width="0.8" />
<line x1="420.20" y1="268.95" x2="422.46" y2="268.13" stroke="#e6e6e6" stroke-width="0.8" />
<line x1="414.20" y1="270.10" x2="423.20" y2="270.10" stroke="#e6e6e6" stroke-width="0.9" />
<line x1="419.70" y1="272.23" x2="420.40" y2="273.44" stroke="#e6e6e6" stroke-width="0.8" />
<line x1="418.70" y1="272.50" x2="418.70" y2="273.90" stroke="#e6e6e6" stroke-width="0.8" />
<line x1="417.70" y1="272.23" x2="417.00" y2="273.44" stroke="#e6e6e6" stroke-width="0.8" />
<path d="M368.78,311.32 L372.16,318.86 L363.58,320.16" fill="none" stroke="#e6e6e6" stroke-width="1.25" stroke-linejoin="round"/>
<circle cx="362.28" cy="320.68" r="0.45" fill="#e6e6e6" stroke="none" stroke-width="0" />
<circle cx="363.98" cy="321.18" r="0.45" fill="#e6e6e6" stroke="none" stroke-width="0" />
<circle cx="365.68" cy="321.68" r="0.45" fill="#e6e6e6" stroke="none" stroke-width="0" />
<circle cx="367.38" cy="322.18" r="0.45" fill="#e6e6e6" stroke="none" stroke-width="0" />
<path d="M385.01,313.44 L387.22,318.37 L381.61,319.22" fill="none" stroke="#e6e6e6" stroke-width="1.25" stroke-linejoin="round"/>
<path d="M414.07,297.08 L416.54,302.59 L410.27,303.54" fill="none" stroke="#e6e6e6" stroke-width="1.25" stroke-linejoin="round"/>
<polygon points="480.50,42.50 796.00,42.50 796.00,118.70 677.50,118.60 677.50,133.00 647.20,133.00 647.20,118.60 480.50,118.70" fill="#b3b5b4" stroke="#484b4a" stroke-width="1.25" stroke-linejoin="miter" />
<rect x="492.90" y="42.50" width="4.2" height="12.00" fill="#dcdedd"/>
<line x1="492.90" y1="42.50" x2="492.90" y2="54.50" stroke="#484b4a" stroke-width="0.9" />
<line x1="497.10" y1="42.50" x2="497.10" y2="54.50" stroke="#484b4a" stroke-width="0.9" />
<rect x="492.90" y="109.40" width="4.2" height="9.30" fill="#dcdedd"/>
<line x1="492.90" y1="109.40" x2="492.90" y2="118.70" stroke="#484b4a" stroke-width="0.9" />
<line x1="497.10" y1="109.40" x2="497.10" y2="118.70" stroke="#484b4a" stroke-width="0.9" />
<rect x="522.90" y="42.50" width="4.2" height="12.00" fill="#dcdedd"/>
<line x1="522.90" y1="42.50" x2="522.90" y2="54.50" stroke="#484b4a" stroke-width="0.9" />
<line x1="527.10" y1="42.50" x2="527.10" y2="54.50" stroke="#484b4a" stroke-width="0.9" />
<rect x="522.90" y="109.40" width="4.2" height="9.30" fill="#dcdedd"/>
<line x1="522.90" y1="109.40" x2="522.90" y2="118.70" stroke="#484b4a" stroke-width="0.9" />
<line x1="527.10" y1="109.40" x2="527.10" y2="118.70" stroke="#484b4a" stroke-width="0.9" />
<rect x="539.90" y="42.50" width="4.2" height="12.00" fill="#dcdedd"/>
<line x1="539.90" y1="42.50" x2="539.90" y2="54.50" stroke="#484b4a" stroke-width="0.9" />
<line x1="544.10" y1="42.50" x2="544.10" y2="54.50" stroke="#484b4a" stroke-width="0.9" />
<rect x="539.90" y="109.40" width="4.2" height="9.30" fill="#dcdedd"/>
<line x1="539.90" y1="109.40" x2="539.90" y2="118.70" stroke="#484b4a" stroke-width="0.9" />
<line x1="544.10" y1="109.40" x2="544.10" y2="118.70" stroke="#484b4a" stroke-width="0.9" />
<rect x="569.90" y="42.50" width="4.2" height="12.00" fill="#dcdedd"/>
<line x1="569.90" y1="42.50" x2="569.90" y2="54.50" stroke="#484b4a" stroke-width="0.9" />
<line x1="574.10" y1="42.50" x2="574.10" y2="54.50" stroke="#484b4a" stroke-width="0.9" />
<rect x="569.90" y="109.40" width="4.2" height="9.30" fill="#dcdedd"/>
<line x1="569.90" y1="109.40" x2="569.90" y2="118.70" stroke="#484b4a" stroke-width="0.9" />
<line x1="574.10" y1="109.40" x2="574.10" y2="118.70" stroke="#484b4a" stroke-width="0.9" />
<rect x="594.60" y="42.50" width="4.2" height="12.70" fill="#dcdedd"/>
<line x1="594.60" y1="42.50" x2="594.60" y2="55.20" stroke="#484b4a" stroke-width="0.9" />
<line x1="598.80" y1="42.50" x2="598.80" y2="55.20" stroke="#484b4a" stroke-width="0.9" />
<rect x="594.60" y="107.20" width="4.2" height="11.50" fill="#dcdedd"/>
<line x1="594.60" y1="107.20" x2="594.60" y2="118.70" stroke="#484b4a" stroke-width="0.9" />
<line x1="598.80" y1="107.20" x2="598.80" y2="118.70" stroke="#484b4a" stroke-width="0.9" />
<rect x="619.90" y="42.50" width="4.2" height="12.70" fill="#dcdedd"/>
<line x1="619.90" y1="42.50" x2="619.90" y2="55.20" stroke="#484b4a" stroke-width="0.9" />
<line x1="624.10" y1="42.50" x2="624.10" y2="55.20" stroke="#484b4a" stroke-width="0.9" />
<rect x="619.90" y="107.20" width="4.2" height="11.50" fill="#dcdedd"/>
<line x1="619.90" y1="107.20" x2="619.90" y2="118.70" stroke="#484b4a" stroke-width="0.9" />
<line x1="624.10" y1="107.20" x2="624.10" y2="118.70" stroke="#484b4a" stroke-width="0.9" />
<rect x="646.30" y="42.50" width="4.2" height="12.50" fill="#dcdedd"/>
<line x1="646.30" y1="42.50" x2="646.30" y2="55.00" stroke="#484b4a" stroke-width="0.9" />
<line x1="650.50" y1="42.50" x2="650.50" y2="55.00" stroke="#484b4a" stroke-width="0.9" />
<rect x="673.10" y="42.50" width="4.2" height="12.50" fill="#dcdedd"/>
<line x1="673.10" y1="42.50" x2="673.10" y2="55.00" stroke="#484b4a" stroke-width="0.9" />
<line x1="677.30" y1="42.50" x2="677.30" y2="55.00" stroke="#484b4a" stroke-width="0.9" />
<rect x="699.20" y="42.50" width="4.2" height="12.30" fill="#dcdedd"/>
<line x1="699.20" y1="42.50" x2="699.20" y2="54.80" stroke="#484b4a" stroke-width="0.9" />
<line x1="703.40" y1="42.50" x2="703.40" y2="54.80" stroke="#484b4a" stroke-width="0.9" />
<rect x="699.20" y="110.00" width="4.2" height="8.70" fill="#dcdedd"/>
<line x1="699.20" y1="110.00" x2="699.20" y2="118.70" stroke="#484b4a" stroke-width="0.9" />
<line x1="703.40" y1="110.00" x2="703.40" y2="118.70" stroke="#484b4a" stroke-width="0.9" />
<rect x="728.10" y="42.50" width="4.2" height="12.30" fill="#dcdedd"/>
<line x1="728.10" y1="42.50" x2="728.10" y2="54.80" stroke="#484b4a" stroke-width="0.9" />
<line x1="732.30" y1="42.50" x2="732.30" y2="54.80" stroke="#484b4a" stroke-width="0.9" />
<rect x="728.10" y="110.00" width="4.2" height="8.70" fill="#dcdedd"/>
<line x1="728.10" y1="110.00" x2="728.10" y2="118.70" stroke="#484b4a" stroke-width="0.9" />
<line x1="732.30" y1="110.00" x2="732.30" y2="118.70" stroke="#484b4a" stroke-width="0.9" />
<rect x="747.90" y="42.50" width="4.2" height="12.30" fill="#dcdedd"/>
<line x1="747.90" y1="42.50" x2="747.90" y2="54.80" stroke="#484b4a" stroke-width="0.9" />
<line x1="752.10" y1="42.50" x2="752.10" y2="54.80" stroke="#484b4a" stroke-width="0.9" />
<rect x="747.90" y="110.00" width="4.2" height="8.70" fill="#dcdedd"/>
<line x1="747.90" y1="110.00" x2="747.90" y2="118.70" stroke="#484b4a" stroke-width="0.9" />
<line x1="752.10" y1="110.00" x2="752.10" y2="118.70" stroke="#484b4a" stroke-width="0.9" />
<rect x="777.10" y="42.50" width="4.2" height="12.30" fill="#dcdedd"/>
<line x1="777.10" y1="42.50" x2="777.10" y2="54.80" stroke="#484b4a" stroke-width="0.9" />
<line x1="781.30" y1="42.50" x2="781.30" y2="54.80" stroke="#484b4a" stroke-width="0.9" />
<rect x="777.10" y="110.00" width="4.2" height="8.70" fill="#dcdedd"/>
<line x1="777.10" y1="110.00" x2="777.10" y2="118.70" stroke="#484b4a" stroke-width="0.9" />
<line x1="781.30" y1="110.00" x2="781.30" y2="118.70" stroke="#484b4a" stroke-width="0.9" />
<rect x="659.60" y="124.00" width="5" height="9.00" fill="#dcdedd"/>
<line x1="659.60" y1="124.00" x2="659.60" y2="133.00" stroke="#484b4a" stroke-width="0.9" />
<line x1="664.60" y1="124.00" x2="664.60" y2="133.00" stroke="#484b4a" stroke-width="0.9" />
<rect x="491.00" y="54.40" width="37.90" height="55.00" fill="#1d1d1d" stroke="none" stroke-width="0" />
<circle cx="515.50" cy="67.00" r="8.10" fill="#b5b6b6" stroke="none" stroke-width="0" />
<circle cx="515.50" cy="96.90" r="8.10" fill="#b5b6b6" stroke="none" stroke-width="0" />
<circle cx="520.20" cy="82.00" r="3.60" fill="#f3d0d0" stroke="none" stroke-width="0" />
<circle cx="520.20" cy="82.00" r="2.50" fill="#dc2630" stroke="none" stroke-width="0" />
<rect x="525.10" y="80.00" width="1.2" height="1.1" fill="#e6e6e6"/>
<rect x="525.10" y="82.20" width="1.2" height="1.1" fill="#e6e6e6"/>
<rect x="525.10" y="84.40" width="1.2" height="1.1" fill="#e6e6e6"/>
<rect x="506.10" y="57.80" width="1.2" height="1.2" fill="#e6e6e6"/>
<rect x="506.10" y="87.70" width="1.2" height="1.2" fill="#e6e6e6"/>
<rect x="523.70" y="57.80" width="1.2" height="1.2" fill="#e6e6e6"/>
<rect x="523.70" y="87.70" width="1.2" height="1.2" fill="#e6e6e6"/>
<rect x="506.10" y="75.00" width="1.2" height="1.2" fill="#e6e6e6"/>
<rect x="506.10" y="104.90" width="1.2" height="1.2" fill="#e6e6e6"/>
<rect x="523.70" y="75.00" width="1.2" height="1.2" fill="#e6e6e6"/>
<rect x="523.70" y="104.90" width="1.2" height="1.2" fill="#e6e6e6"/>
<rect x="497.90" y="73.8" width="3.5" height="16.4" fill="#e6e6e6"/>
<rect x="498.90" y="75.60" width="1.6" height="1.5" fill="#1d1d1d"/>
<rect x="498.90" y="78.60" width="1.6" height="1.5" fill="#1d1d1d"/>
<rect x="498.90" y="81.60" width="1.6" height="1.5" fill="#1d1d1d"/>
<rect x="498.90" y="84.60" width="1.6" height="1.5" fill="#1d1d1d"/>
<rect x="498.90" y="87.60" width="1.6" height="1.5" fill="#1d1d1d"/>
<rect x="537.90" y="54.40" width="37.90" height="55.00" fill="#1d1d1d" stroke="none" stroke-width="0" />
<circle cx="562.40" cy="67.00" r="8.10" fill="#b5b6b6" stroke="none" stroke-width="0" />
<circle cx="562.40" cy="96.90" r="8.10" fill="#b5b6b6" stroke="none" stroke-width="0" />
<circle cx="567.10" cy="82.00" r="3.60" fill="#f3d0d0" stroke="none" stroke-width="0" />
<circle cx="567.10" cy="82.00" r="2.50" fill="#dc2630" stroke="none" stroke-width="0" />
<rect x="572.00" y="80.00" width="1.2" height="1.1" fill="#e6e6e6"/>
<rect x="572.00" y="82.20" width="1.2" height="1.1" fill="#e6e6e6"/>
<rect x="572.00" y="84.40" width="1.2" height="1.1" fill="#e6e6e6"/>
<rect x="553.00" y="57.80" width="1.2" height="1.2" fill="#e6e6e6"/>
<rect x="553.00" y="87.70" width="1.2" height="1.2" fill="#e6e6e6"/>
<rect x="570.60" y="57.80" width="1.2" height="1.2" fill="#e6e6e6"/>
<rect x="570.60" y="87.70" width="1.2" height="1.2" fill="#e6e6e6"/>
<rect x="553.00" y="75.00" width="1.2" height="1.2" fill="#e6e6e6"/>
<rect x="553.00" y="104.90" width="1.2" height="1.2" fill="#e6e6e6"/>
<rect x="570.60" y="75.00" width="1.2" height="1.2" fill="#e6e6e6"/>
<rect x="570.60" y="104.90" width="1.2" height="1.2" fill="#e6e6e6"/>
<rect x="544.80" y="73.8" width="3.5" height="16.4" fill="#e6e6e6"/>
<rect x="545.80" y="75.60" width="1.6" height="1.5" fill="#1d1d1d"/>
<rect x="545.80" y="78.60" width="1.6" height="1.5" fill="#1d1d1d"/>
<rect x="545.80" y="81.60" width="1.6" height="1.5" fill="#1d1d1d"/>
<rect x="545.80" y="84.60" width="1.6" height="1.5" fill="#1d1d1d"/>
<rect x="545.80" y="87.60" width="1.6" height="1.5" fill="#1d1d1d"/>
<rect x="587.30" y="55.20" width="44.70" height="52.00" fill="#747b2a" stroke="none" stroke-width="0" rx="7.5" />
<clipPath id="c8"><rect x="587.3" y="55.2" width="44.7" height="52" rx="7.5"/></clipPath><clipPath id="c9"><rect x="639.5" y="55" width="45.5" height="52" rx="7.5"/></clipPath>
<circle cx="613.70" cy="70.00" r="16.20" fill="none" stroke="#34370f" stroke-width="0.9" clip-path="url(#c8)"/>
<circle cx="613.70" cy="70.00" r="7.40" fill="#bdbfbe" stroke="#6a6f3a" stroke-width="0.6" />
<rect x="596.00" y="88.00" width="26.60" height="13.00" fill="#1d1d1d" stroke="none" stroke-width="0" />
<rect x="600.05" y="90.00" width="1.6" height="1.7" fill="#d2d2d2"/>
<rect x="602.50" y="90.00" width="1.6" height="1.7" fill="#d2d2d2"/>
<rect x="604.95" y="90.00" width="1.6" height="1.7" fill="#d2d2d2"/>
<rect x="607.40" y="90.00" width="1.6" height="1.7" fill="#d2d2d2"/>
<rect x="609.85" y="90.00" width="1.6" height="1.7" fill="#d2d2d2"/>
<rect x="612.30" y="90.00" width="1.6" height="1.7" fill="#d2d2d2"/>
<rect x="617.20" y="90.00" width="1.6" height="1.7" fill="#d2d2d2"/>
<rect x="619.65" y="90.00" width="1.6" height="1.7" fill="#d2d2d2"/>
<rect x="597.60" y="93.40" width="1.6" height="1.7" fill="#d2d2d2"/>
<rect x="600.05" y="93.40" width="1.6" height="1.7" fill="#d2d2d2"/>
<rect x="602.50" y="93.40" width="1.6" height="1.7" fill="#d2d2d2"/>
<rect x="607.40" y="93.40" width="1.6" height="1.7" fill="#d2d2d2"/>
<rect x="609.85" y="93.40" width="1.6" height="1.7" fill="#d2d2d2"/>
<rect x="612.30" y="93.40" width="1.6" height="1.7" fill="#d2d2d2"/>
<rect x="614.75" y="93.40" width="1.6" height="1.7" fill="#d2d2d2"/>
<rect x="617.20" y="93.40" width="1.6" height="1.7" fill="#d2d2d2"/>
<rect x="619.65" y="93.40" width="1.6" height="1.7" fill="#d2d2d2"/>
<rect x="597.60" y="96.80" width="1.6" height="1.7" fill="#d2d2d2"/>
<rect x="600.05" y="96.80" width="1.6" height="1.7" fill="#d2d2d2"/>
<rect x="602.50" y="96.80" width="1.6" height="1.7" fill="#d2d2d2"/>
<rect x="604.95" y="96.80" width="1.6" height="1.7" fill="#d2d2d2"/>
<rect x="607.40" y="96.80" width="1.6" height="1.7" fill="#d2d2d2"/>
<rect x="609.85" y="96.80" width="1.6" height="1.7" fill="#d2d2d2"/>
<rect x="614.75" y="96.80" width="1.6" height="1.7" fill="#d2d2d2"/>
<rect x="617.20" y="96.80" width="1.6" height="1.7" fill="#d2d2d2"/>
<rect x="619.65" y="96.80" width="1.6" height="1.7" fill="#d2d2d2"/>
<rect x="639.50" y="55.00" width="45.50" height="52.00" fill="#747b2a" stroke="none" stroke-width="0" rx="7.5" />
<circle cx="667.00" cy="68.80" r="17.00" fill="none" stroke="#34370f" stroke-width="0.9" clip-path="url(#c9)"/>
<circle cx="667.00" cy="68.80" r="7.30" fill="#bdbfbe" stroke="#6a6f3a" stroke-width="0.6" />
<rect x="654.20" y="98.90" width="16.80" height="25.20" fill="#747b2a" stroke="#3a3d18" stroke-width="1.0" />
<line x1="654.20" y1="107.20" x2="671.00" y2="107.20" stroke="#4a4e1c" stroke-width="0.6" />
<rect x="656.40" y="101" width="3.2" height="3.4" fill="none" stroke="#4a4e1c" stroke-width="0.6"/>
<rect x="661.00" y="101" width="3.2" height="3.4" fill="none" stroke="#4a4e1c" stroke-width="0.6"/>
<rect x="665.60" y="101" width="3.2" height="3.4" fill="none" stroke="#4a4e1c" stroke-width="0.6"/>
<circle cx="656.70" cy="110.50" r="0.70" fill="#e8e6a8" stroke="none" stroke-width="0" />
<circle cx="667.50" cy="110.50" r="0.70" fill="#e8e6a8" stroke="none" stroke-width="0" />
<circle cx="656.70" cy="121.30" r="0.70" fill="#e8e6a8" stroke="none" stroke-width="0" />
<circle cx="667.50" cy="121.30" r="0.70" fill="#e8e6a8" stroke="none" stroke-width="0" />
<circle cx="662.10" cy="115.70" r="5.80" fill="#1d1d1d" stroke="none" stroke-width="0" />
<rect x="657.4" y="114.7" width="5.2" height="1.9" fill="#e0e0e0"/>
<circle cx="660.10" cy="112.70" r="0.50" fill="#e6e6e6" stroke="none" stroke-width="0" />
<circle cx="662.50" cy="111.90" r="0.50" fill="#e6e6e6" stroke="none" stroke-width="0" />
<circle cx="665.10" cy="113.30" r="0.50" fill="#e6e6e6" stroke="none" stroke-width="0" />
<circle cx="665.70" cy="116.30" r="0.50" fill="#e6e6e6" stroke="none" stroke-width="0" />
<circle cx="662.70" cy="118.70" r="0.50" fill="#e6e6e6" stroke="none" stroke-width="0" />
<rect x="695.20" y="54.80" width="40.20" height="55.20" fill="#d8dad9" stroke="#484b4a" stroke-width="1.0" />
<path d="M699.40,97.7 V72.65 A15.75,15.75 0 0 1 730.90,72.65 V97.7 Z" fill="#1d1d1d" stroke="none" stroke-width="0" />
<line x1="709.00" y1="78.29" x2="705.79" y2="82.12" stroke="#e6e6e6" stroke-width="1.4" />
<circle cx="704.63" cy="83.50" r="0.65" fill="#e6e6e6" stroke="none" stroke-width="0" />
<line x1="707.61" y1="76.54" x2="703.16" y2="78.81" stroke="#e6e6e6" stroke-width="1.4" />
<circle cx="701.55" cy="79.63" r="0.65" fill="#e6e6e6" stroke="none" stroke-width="0" />
<line x1="707.01" y1="74.39" x2="702.03" y2="74.74" stroke="#e6e6e6" stroke-width="1.4" />
<circle cx="700.23" cy="74.86" r="0.65" fill="#e6e6e6" stroke="none" stroke-width="0" />
<line x1="707.31" y1="72.18" x2="702.58" y2="70.55" stroke="#e6e6e6" stroke-width="1.4" />
<circle cx="700.88" cy="69.96" r="0.65" fill="#e6e6e6" stroke="none" stroke-width="0" />
<line x1="708.44" y1="70.25" x2="704.72" y2="66.91" stroke="#e6e6e6" stroke-width="1.4" />
<circle cx="703.39" cy="65.70" r="0.65" fill="#e6e6e6" stroke="none" stroke-width="0" />
<line x1="710.23" y1="68.92" x2="708.12" y2="64.39" stroke="#e6e6e6" stroke-width="1.4" />
<circle cx="707.36" cy="62.76" r="0.65" fill="#e6e6e6" stroke="none" stroke-width="0" />
<line x1="712.21" y1="68.41" x2="711.86" y2="63.43" stroke="#e6e6e6" stroke-width="1.4" />
<circle cx="711.74" cy="61.63" r="0.65" fill="#e6e6e6" stroke="none" stroke-width="0" />
<circle cx="715.65" cy="61.77" r="0.65" fill="#e6e6e6" stroke="none" stroke-width="0" />
<circle cx="718.52" cy="62.87" r="0.65" fill="#e6e6e6" stroke="none" stroke-width="0" />
<ellipse cx="715.40" cy="74.6" rx="1.5" ry="8" fill="#1d1d1d" stroke="#e6e6e6" stroke-width="0.9" transform="rotate(20 715.40 74.6)"/>
<rect x="709.25" y="82.00" width="1.6" height="1.6" fill="#e6e6e6"/>
<rect x="714.35" y="82.00" width="1.6" height="1.6" fill="#e6e6e6"/>
<rect x="716.90" y="82.00" width="1.6" height="1.6" fill="#e6e6e6"/>
<rect x="704.15" y="86.80" width="1.6" height="1.6" fill="#e6e6e6"/>
<rect x="706.70" y="86.80" width="1.6" height="1.6" fill="#e6e6e6"/>
<rect x="709.25" y="86.80" width="1.6" height="1.6" fill="#e6e6e6"/>
<rect x="711.80" y="86.80" width="1.6" height="1.6" fill="#e6e6e6"/>
<rect x="714.35" y="86.80" width="1.6" height="1.6" fill="#e6e6e6"/>
<rect x="716.90" y="86.80" width="1.6" height="1.6" fill="#e6e6e6"/>
<rect x="722.00" y="86.80" width="1.6" height="1.6" fill="#e6e6e6"/>
<rect x="724.55" y="86.80" width="1.6" height="1.6" fill="#e6e6e6"/>
<rect x="727.10" y="86.80" width="1.6" height="1.6" fill="#e6e6e6"/>
<rect x="701.60" y="90.20" width="1.6" height="1.6" fill="#e6e6e6"/>
<rect x="704.15" y="90.20" width="1.6" height="1.6" fill="#e6e6e6"/>
<rect x="706.70" y="90.20" width="1.6" height="1.6" fill="#e6e6e6"/>
<rect x="709.25" y="90.20" width="1.6" height="1.6" fill="#e6e6e6"/>
<rect x="711.80" y="90.20" width="1.6" height="1.6" fill="#e6e6e6"/>
<rect x="716.90" y="90.20" width="1.6" height="1.6" fill="#e6e6e6"/>
<rect x="719.45" y="90.20" width="1.6" height="1.6" fill="#e6e6e6"/>
<rect x="722.00" y="90.20" width="1.6" height="1.6" fill="#e6e6e6"/>
<rect x="724.55" y="90.20" width="1.6" height="1.6" fill="#e6e6e6"/>
<rect x="727.10" y="90.20" width="1.6" height="1.6" fill="#e6e6e6"/>
<rect x="701.60" y="93.60" width="1.6" height="1.6" fill="#e6e6e6"/>
<rect x="704.15" y="93.60" width="1.6" height="1.6" fill="#e6e6e6"/>
<rect x="706.70" y="93.60" width="1.6" height="1.6" fill="#e6e6e6"/>
<rect x="711.80" y="93.60" width="1.6" height="1.6" fill="#e6e6e6"/>
<rect x="714.35" y="93.60" width="1.6" height="1.6" fill="#e6e6e6"/>
<rect x="716.90" y="93.60" width="1.6" height="1.6" fill="#e6e6e6"/>
<rect x="719.45" y="93.60" width="1.6" height="1.6" fill="#e6e6e6"/>
<rect x="722.00" y="93.60" width="1.6" height="1.6" fill="#e6e6e6"/>
<rect x="724.55" y="93.60" width="1.6" height="1.6" fill="#e6e6e6"/>
<circle cx="709.80" cy="103.00" r="3.80" fill="#1d1d1d" stroke="none" stroke-width="0" />
<circle cx="709.80" cy="103.00" r="2.00" fill="none" stroke="#e6e6e6" stroke-width="1.0" />
<circle cx="709.80" cy="103.00" r="0.70" fill="#e6e6e6" stroke="none" stroke-width="0" />
<circle cx="720.70" cy="103.00" r="3.80" fill="#1d1d1d" stroke="none" stroke-width="0" />
<circle cx="720.70" cy="103.00" r="2.00" fill="none" stroke="#e6e6e6" stroke-width="1.0" />
<circle cx="720.70" cy="103.00" r="0.70" fill="#e6e6e6" stroke="none" stroke-width="0" />
<circle cx="715.10" cy="102.80" r="0.90" fill="#777" stroke="none" stroke-width="0" />
<rect x="698.60" y="101.6" width="1" height="2.6" fill="#f2f2f2"/><rect x="726.70" y="101.6" width="1" height="2.6" fill="#f2f2f2"/>
<rect x="700.40" y="101.6" width="1" height="2.6" fill="#f2f2f2"/><rect x="728.50" y="101.6" width="1" height="2.6" fill="#f2f2f2"/>
<rect x="702.20" y="101.6" width="1" height="2.6" fill="#f2f2f2"/><rect x="730.30" y="101.6" width="1" height="2.6" fill="#f2f2f2"/>
<rect x="744.20" y="54.80" width="40.20" height="55.20" fill="#d8dad9" stroke="#484b4a" stroke-width="1.0" />
<path d="M748.40,97.7 V72.65 A15.75,15.75 0 0 1 779.90,72.65 V97.7 Z" fill="#1d1d1d" stroke="none" stroke-width="0" />
<line x1="758.00" y1="78.29" x2="754.79" y2="82.12" stroke="#e6e6e6" stroke-width="1.4" />
<circle cx="753.63" cy="83.50" r="0.65" fill="#e6e6e6" stroke="none" stroke-width="0" />
<line x1="756.61" y1="76.54" x2="752.16" y2="78.81" stroke="#e6e6e6" stroke-width="1.4" />
<circle cx="750.55" cy="79.63" r="0.65" fill="#e6e6e6" stroke="none" stroke-width="0" />
<line x1="756.01" y1="74.39" x2="751.03" y2="74.74" stroke="#e6e6e6" stroke-width="1.4" />
<circle cx="749.23" cy="74.86" r="0.65" fill="#e6e6e6" stroke="none" stroke-width="0" />
<line x1="756.31" y1="72.18" x2="751.58" y2="70.55" stroke="#e6e6e6" stroke-width="1.4" />
<circle cx="749.88" cy="69.96" r="0.65" fill="#e6e6e6" stroke="none" stroke-width="0" />
<line x1="757.44" y1="70.25" x2="753.72" y2="66.91" stroke="#e6e6e6" stroke-width="1.4" />
<circle cx="752.39" cy="65.70" r="0.65" fill="#e6e6e6" stroke="none" stroke-width="0" />
<line x1="759.23" y1="68.92" x2="757.12" y2="64.39" stroke="#e6e6e6" stroke-width="1.4" />
<circle cx="756.36" cy="62.76" r="0.65" fill="#e6e6e6" stroke="none" stroke-width="0" />
<line x1="761.21" y1="68.41" x2="760.86" y2="63.43" stroke="#e6e6e6" stroke-width="1.4" />
<circle cx="760.74" cy="61.63" r="0.65" fill="#e6e6e6" stroke="none" stroke-width="0" />
<circle cx="764.65" cy="61.77" r="0.65" fill="#e6e6e6" stroke="none" stroke-width="0" />
<circle cx="767.52" cy="62.87" r="0.65" fill="#e6e6e6" stroke="none" stroke-width="0" />
<ellipse cx="764.40" cy="74.6" rx="1.5" ry="8" fill="#1d1d1d" stroke="#e6e6e6" stroke-width="0.9" transform="rotate(20 764.40 74.6)"/>
<rect x="758.25" y="82.00" width="1.6" height="1.6" fill="#e6e6e6"/>
<rect x="763.35" y="82.00" width="1.6" height="1.6" fill="#e6e6e6"/>
<rect x="765.90" y="82.00" width="1.6" height="1.6" fill="#e6e6e6"/>
<rect x="753.15" y="86.80" width="1.6" height="1.6" fill="#e6e6e6"/>
<rect x="755.70" y="86.80" width="1.6" height="1.6" fill="#e6e6e6"/>
<rect x="758.25" y="86.80" width="1.6" height="1.6" fill="#e6e6e6"/>
<rect x="760.80" y="86.80" width="1.6" height="1.6" fill="#e6e6e6"/>
<rect x="763.35" y="86.80" width="1.6" height="1.6" fill="#e6e6e6"/>
<rect x="765.90" y="86.80" width="1.6" height="1.6" fill="#e6e6e6"/>
<rect x="771.00" y="86.80" width="1.6" height="1.6" fill="#e6e6e6"/>
<rect x="773.55" y="86.80" width="1.6" height="1.6" fill="#e6e6e6"/>
<rect x="776.10" y="86.80" width="1.6" height="1.6" fill="#e6e6e6"/>
<rect x="750.60" y="90.20" width="1.6" height="1.6" fill="#e6e6e6"/>
<rect x="753.15" y="90.20" width="1.6" height="1.6" fill="#e6e6e6"/>
<rect x="755.70" y="90.20" width="1.6" height="1.6" fill="#e6e6e6"/>
<rect x="758.25" y="90.20" width="1.6" height="1.6" fill="#e6e6e6"/>
<rect x="760.80" y="90.20" width="1.6" height="1.6" fill="#e6e6e6"/>
<rect x="765.90" y="90.20" width="1.6" height="1.6" fill="#e6e6e6"/>
<rect x="768.45" y="90.20" width="1.6" height="1.6" fill="#e6e6e6"/>
<rect x="771.00" y="90.20" width="1.6" height="1.6" fill="#e6e6e6"/>
<rect x="773.55" y="90.20" width="1.6" height="1.6" fill="#e6e6e6"/>
<rect x="776.10" y="90.20" width="1.6" height="1.6" fill="#e6e6e6"/>
<rect x="750.60" y="93.60" width="1.6" height="1.6" fill="#e6e6e6"/>
<rect x="753.15" y="93.60" width="1.6" height="1.6" fill="#e6e6e6"/>
<rect x="755.70" y="93.60" width="1.6" height="1.6" fill="#e6e6e6"/>
<rect x="760.80" y="93.60" width="1.6" height="1.6" fill="#e6e6e6"/>
<rect x="763.35" y="93.60" width="1.6" height="1.6" fill="#e6e6e6"/>
<rect x="765.90" y="93.60" width="1.6" height="1.6" fill="#e6e6e6"/>
<rect x="768.45" y="93.60" width="1.6" height="1.6" fill="#e6e6e6"/>
<rect x="771.00" y="93.60" width="1.6" height="1.6" fill="#e6e6e6"/>
<rect x="773.55" y="93.60" width="1.6" height="1.6" fill="#e6e6e6"/>
<circle cx="758.80" cy="103.00" r="3.80" fill="#1d1d1d" stroke="none" stroke-width="0" />
<circle cx="758.80" cy="103.00" r="2.00" fill="none" stroke="#e6e6e6" stroke-width="1.0" />
<circle cx="758.80" cy="103.00" r="0.70" fill="#e6e6e6" stroke="none" stroke-width="0" />
<circle cx="769.70" cy="103.00" r="3.80" fill="#1d1d1d" stroke="none" stroke-width="0" />
<circle cx="769.70" cy="103.00" r="2.00" fill="none" stroke="#e6e6e6" stroke-width="1.0" />
<circle cx="769.70" cy="103.00" r="0.70" fill="#e6e6e6" stroke="none" stroke-width="0" />
<circle cx="764.10" cy="102.80" r="0.90" fill="#777" stroke="none" stroke-width="0" />
<rect x="747.60" y="101.6" width="1" height="2.6" fill="#f2f2f2"/><rect x="775.70" y="101.6" width="1" height="2.6" fill="#f2f2f2"/>
<rect x="749.40" y="101.6" width="1" height="2.6" fill="#f2f2f2"/><rect x="777.50" y="101.6" width="1" height="2.6" fill="#f2f2f2"/>
<rect x="751.20" y="101.6" width="1" height="2.6" fill="#f2f2f2"/><rect x="779.30" y="101.6" width="1" height="2.6" fill="#f2f2f2"/>
<rect x="471.30" y="157.70" width="161.20" height="100.50" fill="#b3b5b4" stroke="#484b4a" stroke-width="1.25" />
<rect x="517.30" y="157.70" width="4.4" height="9.80" fill="#dcdedd"/>
<line x1="517.30" y1="157.70" x2="517.30" y2="167.50" stroke="#484b4a" stroke-width="0.9" />
<line x1="521.70" y1="157.70" x2="521.70" y2="167.50" stroke="#484b4a" stroke-width="0.9" />
<rect x="582.30" y="157.70" width="4.4" height="9.80" fill="#dcdedd"/>
<line x1="582.30" y1="157.70" x2="582.30" y2="167.50" stroke="#484b4a" stroke-width="0.9" />
<line x1="586.70" y1="157.70" x2="586.70" y2="167.50" stroke="#484b4a" stroke-width="0.9" />
<rect x="517.30" y="248.80" width="4.4" height="9.40" fill="#dcdedd"/>
<line x1="517.30" y1="248.80" x2="517.30" y2="258.20" stroke="#484b4a" stroke-width="0.9" />
<line x1="521.70" y1="248.80" x2="521.70" y2="258.20" stroke="#484b4a" stroke-width="0.9" />
<rect x="582.30" y="248.80" width="4.4" height="9.40" fill="#dcdedd"/>
<line x1="582.30" y1="248.80" x2="582.30" y2="258.20" stroke="#484b4a" stroke-width="0.9" />
<line x1="586.70" y1="248.80" x2="586.70" y2="258.20" stroke="#484b4a" stroke-width="0.9" />
<rect x="471.30" y="206.90" width="8.20" height="2.6" fill="#dcdedd"/>
<line x1="471.30" y1="206.90" x2="479.50" y2="206.90" stroke="#484b4a" stroke-width="0.9" />
<line x1="471.30" y1="209.50" x2="479.50" y2="209.50" stroke="#484b4a" stroke-width="0.9" />
<rect x="549.00" y="206.90" width="6.00" height="2.6" fill="#dcdedd"/>
<line x1="549.00" y1="206.90" x2="555.00" y2="206.90" stroke="#484b4a" stroke-width="0.9" />
<line x1="549.00" y1="209.50" x2="555.00" y2="209.50" stroke="#484b4a" stroke-width="0.9" />
<rect x="624.60" y="206.90" width="7.90" height="2.6" fill="#dcdedd"/>
<line x1="624.60" y1="206.90" x2="632.50" y2="206.90" stroke="#484b4a" stroke-width="0.9" />
<line x1="624.60" y1="209.50" x2="632.50" y2="209.50" stroke="#484b4a" stroke-width="0.9" />
<path d="M519.6,170.5 A37.9,37.7 0 0 0 519.6,245.89999999999998 C539.26,245.89999999999998 546.90,235.34 546.90,208.2 C546.90,181.06 539.26,170.5 519.6,170.5 Z" fill="none" stroke="#1d1d1d" stroke-width="5.6"/>
<g stroke="#1d1d1d" stroke-width="4" stroke-linecap="round" fill="none"><line x1="519.6" y1="208.2" x2="481.70000000000005" y2="208.2"/><line x1="519.6" y1="208.2" x2="541.1" y2="181.7"/><line x1="519.6" y1="208.2" x2="541.1" y2="234.7"/></g>
<circle cx="519.60" cy="208.20" r="3.60" fill="#1d1d1d" stroke="none" stroke-width="0" />
<path d="M584.3,170.5 A37.9,37.7 0 0 1 584.3,245.89999999999998 C564.64,245.89999999999998 557.00,235.34 557.00,208.2 C557.00,181.06 564.64,170.5 584.3,170.5 Z" fill="none" stroke="#1d1d1d" stroke-width="5.6"/>
<g stroke="#1d1d1d" stroke-width="4" stroke-linecap="round" fill="none"><line x1="584.3" y1="208.2" x2="622.1999999999999" y2="208.2"/><line x1="584.3" y1="208.2" x2="562.8" y2="181.7"/><line x1="584.3" y1="208.2" x2="562.8" y2="234.7"/></g>
<circle cx="584.30" cy="208.20" r="3.60" fill="#1d1d1d" stroke="none" stroke-width="0" />
<rect x="644.50" y="157.70" width="152.90" height="105.30" fill="#b3b5b4" stroke="#484b4a" stroke-width="1.25" />
<rect x="683.70" y="157.70" width="4.4" height="12.50" fill="#dcdedd"/>
<line x1="683.70" y1="157.70" x2="683.70" y2="170.20" stroke="#484b4a" stroke-width="0.9" />
<line x1="688.10" y1="157.70" x2="688.10" y2="170.20" stroke="#484b4a" stroke-width="0.9" />
<rect x="670.60" y="252.00" width="4.4" height="11.00" fill="#dcdedd"/>
<line x1="670.60" y1="252.00" x2="670.60" y2="263.00" stroke="#484b4a" stroke-width="0.9" />
<line x1="675.00" y1="252.00" x2="675.00" y2="263.00" stroke="#484b4a" stroke-width="0.9" />
<rect x="697.00" y="252.00" width="4.4" height="11.00" fill="#dcdedd"/>
<line x1="697.00" y1="252.00" x2="697.00" y2="263.00" stroke="#484b4a" stroke-width="0.9" />
<line x1="701.40" y1="252.00" x2="701.40" y2="263.00" stroke="#484b4a" stroke-width="0.9" />
<rect x="667.20" y="184.00" width="37.80" height="54.70" fill="#b6b8b7" stroke="#484b4a" stroke-width="1.0" />
<rect x="667.20" y="170.20" width="37.80" height="13.80" fill="#d8dad9" stroke="#484b4a" stroke-width="1.0" />
<rect x="667.20" y="238.70" width="37.80" height="13.30" fill="#d8dad9" stroke="#484b4a" stroke-width="1.0" />
<rect x="669.80" y="173" width="2.2" height="8.2" rx="1.1" fill="#d8dad9" stroke="#484b4a" stroke-width="0.7"/>
<rect x="669.80" y="241.3" width="2.2" height="8.2" rx="1.1" fill="#d8dad9" stroke="#484b4a" stroke-width="0.7"/>
<rect x="673.50" y="173" width="2.2" height="8.2" rx="1.1" fill="#d8dad9" stroke="#484b4a" stroke-width="0.7"/>
<rect x="673.50" y="241.3" width="2.2" height="8.2" rx="1.1" fill="#d8dad9" stroke="#484b4a" stroke-width="0.7"/>
<rect x="677.20" y="173" width="2.2" height="8.2" rx="1.1" fill="#d8dad9" stroke="#484b4a" stroke-width="0.7"/>
<rect x="677.20" y="241.3" width="2.2" height="8.2" rx="1.1" fill="#d8dad9" stroke="#484b4a" stroke-width="0.7"/>
<rect x="680.90" y="173" width="2.2" height="8.2" rx="1.1" fill="#d8dad9" stroke="#484b4a" stroke-width="0.7"/>
<rect x="680.90" y="241.3" width="2.2" height="8.2" rx="1.1" fill="#d8dad9" stroke="#484b4a" stroke-width="0.7"/>
<rect x="684.60" y="173" width="2.2" height="8.2" rx="1.1" fill="#d8dad9" stroke="#484b4a" stroke-width="0.7"/>
<rect x="684.60" y="241.3" width="2.2" height="8.2" rx="1.1" fill="#d8dad9" stroke="#484b4a" stroke-width="0.7"/>
<rect x="688.30" y="173" width="2.2" height="8.2" rx="1.1" fill="#d8dad9" stroke="#484b4a" stroke-width="0.7"/>
<rect x="688.30" y="241.3" width="2.2" height="8.2" rx="1.1" fill="#d8dad9" stroke="#484b4a" stroke-width="0.7"/>
<rect x="692.00" y="173" width="2.2" height="8.2" rx="1.1" fill="#d8dad9" stroke="#484b4a" stroke-width="0.7"/>
<rect x="692.00" y="241.3" width="2.2" height="8.2" rx="1.1" fill="#d8dad9" stroke="#484b4a" stroke-width="0.7"/>
<rect x="695.70" y="173" width="2.2" height="8.2" rx="1.1" fill="#d8dad9" stroke="#484b4a" stroke-width="0.7"/>
<rect x="695.70" y="241.3" width="2.2" height="8.2" rx="1.1" fill="#d8dad9" stroke="#484b4a" stroke-width="0.7"/>
<rect x="699.40" y="173" width="2.2" height="8.2" rx="1.1" fill="#d8dad9" stroke="#484b4a" stroke-width="0.7"/>
<rect x="699.40" y="241.3" width="2.2" height="8.2" rx="1.1" fill="#d8dad9" stroke="#484b4a" stroke-width="0.7"/>
<polygon points="653.90,177.70 666.50,184.00 666.50,238.70 653.90,238.70" fill="#d8dad9" stroke="#484b4a" stroke-width="1.0" stroke-linejoin="miter" />
<polygon points="705.70,184.00 718.20,177.70 718.20,238.70 705.70,238.70" fill="#d8dad9" stroke="#484b4a" stroke-width="1.0" stroke-linejoin="miter" />
<rect x="656.40" y="187.50" width="7.4" height="2.4" rx="1.2" fill="#c9cbca" stroke="#484b4a" stroke-width="0.7"/>
<rect x="656.40" y="192.00" width="7.4" height="2.4" rx="1.2" fill="#c9cbca" stroke="#484b4a" stroke-width="0.7"/>
<rect x="656.40" y="196.50" width="7.4" height="2.4" rx="1.2" fill="#c9cbca" stroke="#484b4a" stroke-width="0.7"/>
<rect x="656.40" y="201.00" width="7.4" height="2.4" rx="1.2" fill="#c9cbca" stroke="#484b4a" stroke-width="0.7"/>
<rect x="656.40" y="205.50" width="7.4" height="2.4" rx="1.2" fill="#c9cbca" stroke="#484b4a" stroke-width="0.7"/>
<rect x="656.40" y="210.00" width="7.4" height="2.4" rx="1.2" fill="#c9cbca" stroke="#484b4a" stroke-width="0.7"/>
<rect x="656.40" y="214.50" width="7.4" height="2.4" rx="1.2" fill="#c9cbca" stroke="#484b4a" stroke-width="0.7"/>
<rect x="656.40" y="219.00" width="7.4" height="2.4" rx="1.2" fill="#c9cbca" stroke="#484b4a" stroke-width="0.7"/>
<rect x="656.40" y="223.50" width="7.4" height="2.4" rx="1.2" fill="#c9cbca" stroke="#484b4a" stroke-width="0.7"/>
<circle cx="660.10" cy="233.20" r="2.10" fill="#d8dad9" stroke="#484b4a" stroke-width="0.7" />
<rect x="708.20" y="187.50" width="7.4" height="2.4" rx="1.2" fill="#c9cbca" stroke="#484b4a" stroke-width="0.7"/>
<rect x="708.20" y="192.00" width="7.4" height="2.4" rx="1.2" fill="#c9cbca" stroke="#484b4a" stroke-width="0.7"/>
<rect x="708.20" y="196.50" width="7.4" height="2.4" rx="1.2" fill="#c9cbca" stroke="#484b4a" stroke-width="0.7"/>
<rect x="708.20" y="201.00" width="7.4" height="2.4" rx="1.2" fill="#c9cbca" stroke="#484b4a" stroke-width="0.7"/>
<rect x="708.20" y="205.50" width="7.4" height="2.4" rx="1.2" fill="#c9cbca" stroke="#484b4a" stroke-width="0.7"/>
<rect x="708.20" y="210.00" width="7.4" height="2.4" rx="1.2" fill="#c9cbca" stroke="#484b4a" stroke-width="0.7"/>
<rect x="708.20" y="214.50" width="7.4" height="2.4" rx="1.2" fill="#c9cbca" stroke="#484b4a" stroke-width="0.7"/>
<rect x="708.20" y="219.00" width="7.4" height="2.4" rx="1.2" fill="#c9cbca" stroke="#484b4a" stroke-width="0.7"/>
<rect x="708.20" y="223.50" width="7.4" height="2.4" rx="1.2" fill="#c9cbca" stroke="#484b4a" stroke-width="0.7"/>
<circle cx="711.90" cy="233.20" r="2.10" fill="#d8dad9" stroke="#484b4a" stroke-width="0.7" />
<rect x="756.80" y="157.70" width="4.4" height="12.50" fill="#dcdedd"/>
<line x1="756.80" y1="157.70" x2="756.80" y2="170.20" stroke="#484b4a" stroke-width="0.9" />
<line x1="761.20" y1="157.70" x2="761.20" y2="170.20" stroke="#484b4a" stroke-width="0.9" />
<rect x="743.70" y="252.00" width="4.4" height="11.00" fill="#dcdedd"/>
<line x1="743.70" y1="252.00" x2="743.70" y2="263.00" stroke="#484b4a" stroke-width="0.9" />
<line x1="748.10" y1="252.00" x2="748.10" y2="263.00" stroke="#484b4a" stroke-width="0.9" />
<rect x="770.10" y="252.00" width="4.4" height="11.00" fill="#dcdedd"/>
<line x1="770.10" y1="252.00" x2="770.10" y2="263.00" stroke="#484b4a" stroke-width="0.9" />
<line x1="774.50" y1="252.00" x2="774.50" y2="263.00" stroke="#484b4a" stroke-width="0.9" />
<rect x="740.30" y="184.00" width="37.80" height="54.70" fill="#b6b8b7" stroke="#484b4a" stroke-width="1.0" />
<rect x="740.30" y="170.20" width="37.80" height="13.80" fill="#d8dad9" stroke="#484b4a" stroke-width="1.0" />
<rect x="740.30" y="238.70" width="37.80" height="13.30" fill="#d8dad9" stroke="#484b4a" stroke-width="1.0" />
<rect x="742.90" y="173" width="2.2" height="8.2" rx="1.1" fill="#d8dad9" stroke="#484b4a" stroke-width="0.7"/>
<rect x="742.90" y="241.3" width="2.2" height="8.2" rx="1.1" fill="#d8dad9" stroke="#484b4a" stroke-width="0.7"/>
<rect x="746.60" y="173" width="2.2" height="8.2" rx="1.1" fill="#d8dad9" stroke="#484b4a" stroke-width="0.7"/>
<rect x="746.60" y="241.3" width="2.2" height="8.2" rx="1.1" fill="#d8dad9" stroke="#484b4a" stroke-width="0.7"/>
<rect x="750.30" y="173" width="2.2" height="8.2" rx="1.1" fill="#d8dad9" stroke="#484b4a" stroke-width="0.7"/>
<rect x="750.30" y="241.3" width="2.2" height="8.2" rx="1.1" fill="#d8dad9" stroke="#484b4a" stroke-width="0.7"/>
<rect x="754.00" y="173" width="2.2" height="8.2" rx="1.1" fill="#d8dad9" stroke="#484b4a" stroke-width="0.7"/>
<rect x="754.00" y="241.3" width="2.2" height="8.2" rx="1.1" fill="#d8dad9" stroke="#484b4a" stroke-width="0.7"/>
<rect x="757.70" y="173" width="2.2" height="8.2" rx="1.1" fill="#d8dad9" stroke="#484b4a" stroke-width="0.7"/>
<rect x="757.70" y="241.3" width="2.2" height="8.2" rx="1.1" fill="#d8dad9" stroke="#484b4a" stroke-width="0.7"/>
<rect x="761.40" y="173" width="2.2" height="8.2" rx="1.1" fill="#d8dad9" stroke="#484b4a" stroke-width="0.7"/>
<rect x="761.40" y="241.3" width="2.2" height="8.2" rx="1.1" fill="#d8dad9" stroke="#484b4a" stroke-width="0.7"/>
<rect x="765.10" y="173" width="2.2" height="8.2" rx="1.1" fill="#d8dad9" stroke="#484b4a" stroke-width="0.7"/>
<rect x="765.10" y="241.3" width="2.2" height="8.2" rx="1.1" fill="#d8dad9" stroke="#484b4a" stroke-width="0.7"/>
<rect x="768.80" y="173" width="2.2" height="8.2" rx="1.1" fill="#d8dad9" stroke="#484b4a" stroke-width="0.7"/>
<rect x="768.80" y="241.3" width="2.2" height="8.2" rx="1.1" fill="#d8dad9" stroke="#484b4a" stroke-width="0.7"/>
<rect x="772.50" y="173" width="2.2" height="8.2" rx="1.1" fill="#d8dad9" stroke="#484b4a" stroke-width="0.7"/>
<rect x="772.50" y="241.3" width="2.2" height="8.2" rx="1.1" fill="#d8dad9" stroke="#484b4a" stroke-width="0.7"/>
<polygon points="727.00,177.70 739.60,184.00 739.60,238.70 727.00,238.70" fill="#d8dad9" stroke="#484b4a" stroke-width="1.0" stroke-linejoin="miter" />
<polygon points="778.80,184.00 791.30,177.70 791.30,238.70 778.80,238.70" fill="#d8dad9" stroke="#484b4a" stroke-width="1.0" stroke-linejoin="miter" />
<rect x="729.50" y="187.50" width="7.4" height="2.4" rx="1.2" fill="#c9cbca" stroke="#484b4a" stroke-width="0.7"/>
<rect x="729.50" y="192.00" width="7.4" height="2.4" rx="1.2" fill="#c9cbca" stroke="#484b4a" stroke-width="0.7"/>
<rect x="729.50" y="196.50" width="7.4" height="2.4" rx="1.2" fill="#c9cbca" stroke="#484b4a" stroke-width="0.7"/>
<rect x="729.50" y="201.00" width="7.4" height="2.4" rx="1.2" fill="#c9cbca" stroke="#484b4a" stroke-width="0.7"/>
<rect x="729.50" y="205.50" width="7.4" height="2.4" rx="1.2" fill="#c9cbca" stroke="#484b4a" stroke-width="0.7"/>
<rect x="729.50" y="210.00" width="7.4" height="2.4" rx="1.2" fill="#c9cbca" stroke="#484b4a" stroke-width="0.7"/>
<rect x="729.50" y="214.50" width="7.4" height="2.4" rx="1.2" fill="#c9cbca" stroke="#484b4a" stroke-width="0.7"/>
<rect x="729.50" y="219.00" width="7.4" height="2.4" rx="1.2" fill="#c9cbca" stroke="#484b4a" stroke-width="0.7"/>
<rect x="729.50" y="223.50" width="7.4" height="2.4" rx="1.2" fill="#c9cbca" stroke="#484b4a" stroke-width="0.7"/>
<circle cx="733.20" cy="233.20" r="2.10" fill="#d8dad9" stroke="#484b4a" stroke-width="0.7" />
<rect x="781.30" y="187.50" width="7.4" height="2.4" rx="1.2" fill="#c9cbca" stroke="#484b4a" stroke-width="0.7"/>
<rect x="781.30" y="192.00" width="7.4" height="2.4" rx="1.2" fill="#c9cbca" stroke="#484b4a" stroke-width="0.7"/>
<rect x="781.30" y="196.50" width="7.4" height="2.4" rx="1.2" fill="#c9cbca" stroke="#484b4a" stroke-width="0.7"/>
<rect x="781.30" y="201.00" width="7.4" height="2.4" rx="1.2" fill="#c9cbca" stroke="#484b4a" stroke-width="0.7"/>
<rect x="781.30" y="205.50" width="7.4" height="2.4" rx="1.2" fill="#c9cbca" stroke="#484b4a" stroke-width="0.7"/>
<rect x="781.30" y="210.00" width="7.4" height="2.4" rx="1.2" fill="#c9cbca" stroke="#484b4a" stroke-width="0.7"/>
<rect x="781.30" y="214.50" width="7.4" height="2.4" rx="1.2" fill="#c9cbca" stroke="#484b4a" stroke-width="0.7"/>
<rect x="781.30" y="219.00" width="7.4" height="2.4" rx="1.2" fill="#c9cbca" stroke="#484b4a" stroke-width="0.7"/>
<rect x="781.30" y="223.50" width="7.4" height="2.4" rx="1.2" fill="#c9cbca" stroke="#484b4a" stroke-width="0.7"/>
<circle cx="785.00" cy="233.20" r="2.10" fill="#d8dad9" stroke="#484b4a" stroke-width="0.7" />
<polygon points="458.80,296.30 504.80,296.30 507.20,293.80 584.80,293.80 584.80,355.60 595.00,355.60 595.00,413.00 577.00,413.00 577.00,432.00 510.00,432.00 510.00,413.00 458.80,413.00" fill="#b3b5b4" stroke="#484b4a" stroke-width="1.25" stroke-linejoin="miter" />
<rect x="479.60" y="296.30" width="4.4" height="10.10" fill="#dcdedd"/>
<line x1="479.60" y1="296.30" x2="479.60" y2="306.40" stroke="#484b4a" stroke-width="0.9" />
<line x1="484.00" y1="296.30" x2="484.00" y2="306.40" stroke="#484b4a" stroke-width="0.9" />
<rect x="480.10" y="398.20" width="4.4" height="14.80" fill="#dcdedd"/>
<line x1="480.10" y1="398.20" x2="480.10" y2="413.00" stroke="#484b4a" stroke-width="0.9" />
<line x1="484.50" y1="398.20" x2="484.50" y2="413.00" stroke="#484b4a" stroke-width="0.9" />
<rect x="515.30" y="293.80" width="4.4" height="10.10" fill="#dcdedd"/>
<line x1="515.30" y1="293.80" x2="515.30" y2="303.90" stroke="#484b4a" stroke-width="0.9" />
<line x1="519.70" y1="293.80" x2="519.70" y2="303.90" stroke="#484b4a" stroke-width="0.9" />
<rect x="565.00" y="293.80" width="4.4" height="10.10" fill="#dcdedd"/>
<line x1="565.00" y1="293.80" x2="565.00" y2="303.90" stroke="#484b4a" stroke-width="0.9" />
<line x1="569.40" y1="293.80" x2="569.40" y2="303.90" stroke="#484b4a" stroke-width="0.9" />
<rect x="540.10" y="339.20" width="4.4" height="10.10" fill="#dcdedd"/>
<line x1="540.10" y1="339.20" x2="540.10" y2="349.30" stroke="#484b4a" stroke-width="0.9" />
<line x1="544.50" y1="339.20" x2="544.50" y2="349.30" stroke="#484b4a" stroke-width="0.9" />
<rect x="523.00" y="422.50" width="4.4" height="9.50" fill="#dcdedd"/>
<line x1="523.00" y1="422.50" x2="523.00" y2="432.00" stroke="#484b4a" stroke-width="0.9" />
<line x1="527.40" y1="422.50" x2="527.40" y2="432.00" stroke="#484b4a" stroke-width="0.9" />
<rect x="558.80" y="422.50" width="4.4" height="9.50" fill="#dcdedd"/>
<line x1="558.80" y1="422.50" x2="558.80" y2="432.00" stroke="#484b4a" stroke-width="0.9" />
<line x1="563.20" y1="422.50" x2="563.20" y2="432.00" stroke="#484b4a" stroke-width="0.9" />
<rect x="584.80" y="369.70" width="10.20" height="3.4" fill="#dcdedd"/>
<line x1="584.80" y1="369.70" x2="595.00" y2="369.70" stroke="#484b4a" stroke-width="0.9" />
<line x1="584.80" y1="373.10" x2="595.00" y2="373.10" stroke="#484b4a" stroke-width="0.9" />
<rect x="468.90" y="306.40" width="26.40" height="26.50" fill="#d8dad9" stroke="#484b4a" stroke-width="1.0" />
<circle cx="482.20" cy="319.40" r="10.40" fill="#c2c4c3" stroke="#3c3c3c" stroke-width="2.0" />
<circle cx="482.20" cy="319.40" r="8.20" fill="none" stroke="#484b4a" stroke-width="0.8" />
<rect x="476.80" y="314.60" width="10.80" height="9.60" fill="#cfd1d0" stroke="#3c3c3c" stroke-width="1.6" rx="1.5" />
<line x1="478.00" y1="319.40" x2="486.40" y2="319.40" stroke="#484b4a" stroke-width="0.8" />
<path d="M470.50,310.10 l1.2,-2 l1.2,2 z" fill="#484b4a" opacity="0.75"/>
<path d="M491.50,310.10 l1.2,-2 l1.2,2 z" fill="#484b4a" opacity="0.75"/>
<path d="M470.50,330.70 l1.2,-2 l1.2,2 z" fill="#484b4a" opacity="0.75"/>
<path d="M491.50,330.70 l1.2,-2 l1.2,2 z" fill="#484b4a" opacity="0.75"/>
<rect x="474.80" y="332.90" width="15.40" height="21.40" fill="#d8dad9" stroke="#484b4a" stroke-width="1.0" />
<circle cx="482.30" cy="344.20" r="5.40" fill="#c6c8c7" stroke="#484b4a" stroke-width="1.1" />
<rect x="477.40" y="350.4" width="2.6" height="2.4" fill="#d8dad9" stroke="#484b4a" stroke-width="0.7"/>
<rect x="480.80" y="350.4" width="2.6" height="2.4" fill="#d8dad9" stroke="#484b4a" stroke-width="0.7"/>
<rect x="484.20" y="350.4" width="2.6" height="2.4" fill="#d8dad9" stroke="#484b4a" stroke-width="0.7"/>
<rect x="474.80" y="354.30" width="15.40" height="31.50" fill="#cbcdcc" stroke="#484b4a" stroke-width="1.0" />
<rect x="474.80" y="383.40" width="15.40" height="2.40" fill="#a9abaa" stroke="none" stroke-width="0" />
<rect x="474.80" y="385.80" width="15.40" height="12.40" fill="#d8dad9" stroke="#484b4a" stroke-width="1.0" />
<rect x="507.20" y="303.60" width="67.60" height="36.60" fill="#1d1d1d" stroke="none" stroke-width="0" />
<rect x="516.7" y="305.4" width="2.2" height="32" fill="#e6e6e6"/>
<circle cx="516.20" cy="337.00" r="2.00" fill="#e6e6e6" stroke="none" stroke-width="0" />
<circle cx="515.60" cy="313.40" r="1.40" fill="#e6e6e6" stroke="none" stroke-width="0" />
<rect x="518.6" y="307.20" width="1.6" height="2" fill="#e6e6e6"/>
<rect x="518.6" y="313.00" width="1.6" height="2" fill="#e6e6e6"/>
<rect x="518.6" y="318.80" width="1.6" height="2" fill="#e6e6e6"/>
<rect x="518.6" y="324.60" width="1.6" height="2" fill="#e6e6e6"/>
<rect x="518.6" y="330.40" width="1.6" height="2" fill="#e6e6e6"/>
<rect x="510.5" y="304.20" width="1.9" height="1.9" fill="#d0d0d0"/>
<rect x="510.5" y="309.95" width="1.9" height="1.9" fill="#d0d0d0"/>
<rect x="510.5" y="315.70" width="1.9" height="1.9" fill="#d0d0d0"/>
<rect x="510.5" y="321.45" width="1.9" height="1.9" fill="#d0d0d0"/>
<rect x="510.5" y="327.20" width="1.9" height="1.9" fill="#d0d0d0"/>
<rect x="510.5" y="332.95" width="1.9" height="1.9" fill="#d0d0d0"/>
<rect x="522.3" y="305.40" width="1.2" height="1.3" fill="#c4c4c4"/>
<rect x="522.3" y="308.80" width="1.2" height="1.3" fill="#c4c4c4"/>
<rect x="522.3" y="312.20" width="1.2" height="1.3" fill="#c4c4c4"/>
<rect x="522.3" y="315.60" width="1.2" height="1.3" fill="#c4c4c4"/>
<rect x="522.3" y="319.00" width="1.2" height="1.3" fill="#c4c4c4"/>
<rect x="522.3" y="322.40" width="1.2" height="1.3" fill="#c4c4c4"/>
<rect x="522.3" y="325.80" width="1.2" height="1.3" fill="#c4c4c4"/>
<rect x="522.3" y="329.20" width="1.2" height="1.3" fill="#c4c4c4"/>
<rect x="522.3" y="332.60" width="1.2" height="1.3" fill="#c4c4c4"/>
<rect x="522.3" y="336.00" width="1.2" height="1.3" fill="#c4c4c4"/>
<line x1="526.90" y1="304.60" x2="526.90" y2="339.20" stroke="#9a9a9a" stroke-width="0.7" />
<circle cx="532.50" cy="314.40" r="0.62" fill="#e6e6e6" stroke="none" stroke-width="0" />
<circle cx="530.60" cy="312.50" r="0.62" fill="#e6e6e6" stroke="none" stroke-width="0" />
<circle cx="529.90" cy="309.90" r="0.62" fill="#e6e6e6" stroke="none" stroke-width="0" />
<circle cx="530.60" cy="307.30" r="0.62" fill="#e6e6e6" stroke="none" stroke-width="0" />
<circle cx="532.50" cy="305.40" r="0.62" fill="#e6e6e6" stroke="none" stroke-width="0" />
<circle cx="535.10" cy="309.90" r="3.50" fill="#f3c9cc" stroke="none" stroke-width="0" />
<circle cx="535.10" cy="309.90" r="2.10" fill="#d8404c" stroke="none" stroke-width="0" />
<circle cx="535.10" cy="309.90" r="0.80" fill="#f0b0b4" stroke="none" stroke-width="0" />
<circle cx="544.80" cy="314.40" r="0.62" fill="#e6e6e6" stroke="none" stroke-width="0" />
<circle cx="542.90" cy="312.50" r="0.62" fill="#e6e6e6" stroke="none" stroke-width="0" />
<circle cx="542.20" cy="309.90" r="0.62" fill="#e6e6e6" stroke="none" stroke-width="0" />
<circle cx="542.90" cy="307.30" r="0.62" fill="#e6e6e6" stroke="none" stroke-width="0" />
<circle cx="544.80" cy="305.40" r="0.62" fill="#e6e6e6" stroke="none" stroke-width="0" />
<circle cx="547.40" cy="309.90" r="2.35" fill="none" stroke="#e6e6e6" stroke-width="1.7" />
<circle cx="556.70" cy="314.40" r="0.62" fill="#e6e6e6" stroke="none" stroke-width="0" />
<circle cx="554.80" cy="312.50" r="0.62" fill="#e6e6e6" stroke="none" stroke-width="0" />
<circle cx="554.10" cy="309.90" r="0.62" fill="#e6e6e6" stroke="none" stroke-width="0" />
<circle cx="554.80" cy="307.30" r="0.62" fill="#e6e6e6" stroke="none" stroke-width="0" />
<circle cx="556.70" cy="305.40" r="0.62" fill="#e6e6e6" stroke="none" stroke-width="0" />
<circle cx="559.30" cy="309.90" r="2.35" fill="none" stroke="#e6e6e6" stroke-width="1.7" />
<circle cx="568.00" cy="314.40" r="0.62" fill="#e6e6e6" stroke="none" stroke-width="0" />
<circle cx="566.10" cy="312.50" r="0.62" fill="#e6e6e6" stroke="none" stroke-width="0" />
<circle cx="565.40" cy="309.90" r="0.62" fill="#e6e6e6" stroke="none" stroke-width="0" />
<circle cx="566.10" cy="307.30" r="0.62" fill="#e6e6e6" stroke="none" stroke-width="0" />
<circle cx="568.00" cy="305.40" r="0.62" fill="#e6e6e6" stroke="none" stroke-width="0" />
<circle cx="570.60" cy="309.90" r="2.35" fill="none" stroke="#e6e6e6" stroke-width="1.7" />
<circle cx="532.50" cy="326.20" r="0.62" fill="#e6e6e6" stroke="none" stroke-width="0" />
<circle cx="530.60" cy="324.30" r="0.62" fill="#e6e6e6" stroke="none" stroke-width="0" />
<circle cx="529.90" cy="321.70" r="0.62" fill="#e6e6e6" stroke="none" stroke-width="0" />
<circle cx="530.60" cy="319.10" r="0.62" fill="#e6e6e6" stroke="none" stroke-width="0" />
<circle cx="532.50" cy="317.20" r="0.62" fill="#e6e6e6" stroke="none" stroke-width="0" />
<circle cx="535.10" cy="321.70" r="3.50" fill="#f3c9cc" stroke="none" stroke-width="0" />
<circle cx="535.10" cy="321.70" r="2.10" fill="#d8404c" stroke="none" stroke-width="0" />
<circle cx="535.10" cy="321.70" r="0.80" fill="#f0b0b4" stroke="none" stroke-width="0" />
<circle cx="544.80" cy="326.20" r="0.62" fill="#e6e6e6" stroke="none" stroke-width="0" />
<circle cx="542.90" cy="324.30" r="0.62" fill="#e6e6e6" stroke="none" stroke-width="0" />
<circle cx="542.20" cy="321.70" r="0.62" fill="#e6e6e6" stroke="none" stroke-width="0" />
<circle cx="542.90" cy="319.10" r="0.62" fill="#e6e6e6" stroke="none" stroke-width="0" />
<circle cx="544.80" cy="317.20" r="0.62" fill="#e6e6e6" stroke="none" stroke-width="0" />
<circle cx="547.40" cy="321.70" r="2.35" fill="none" stroke="#e6e6e6" stroke-width="1.7" />
<circle cx="556.70" cy="326.20" r="0.62" fill="#e6e6e6" stroke="none" stroke-width="0" />
<circle cx="554.80" cy="324.30" r="0.62" fill="#e6e6e6" stroke="none" stroke-width="0" />
<circle cx="554.10" cy="321.70" r="0.62" fill="#e6e6e6" stroke="none" stroke-width="0" />
<circle cx="554.80" cy="319.10" r="0.62" fill="#e6e6e6" stroke="none" stroke-width="0" />
<circle cx="556.70" cy="317.20" r="0.62" fill="#e6e6e6" stroke="none" stroke-width="0" />
<circle cx="559.30" cy="321.70" r="2.35" fill="none" stroke="#e6e6e6" stroke-width="1.7" />
<circle cx="568.00" cy="326.20" r="0.62" fill="#e6e6e6" stroke="none" stroke-width="0" />
<circle cx="566.10" cy="324.30" r="0.62" fill="#e6e6e6" stroke="none" stroke-width="0" />
<circle cx="565.40" cy="321.70" r="0.62" fill="#e6e6e6" stroke="none" stroke-width="0" />
<circle cx="566.10" cy="319.10" r="0.62" fill="#e6e6e6" stroke="none" stroke-width="0" />
<circle cx="568.00" cy="317.20" r="0.62" fill="#e6e6e6" stroke="none" stroke-width="0" />
<circle cx="570.60" cy="321.70" r="2.35" fill="none" stroke="#e6e6e6" stroke-width="1.7" />
<circle cx="532.50" cy="338.10" r="0.62" fill="#e6e6e6" stroke="none" stroke-width="0" />
<circle cx="530.60" cy="336.20" r="0.62" fill="#e6e6e6" stroke="none" stroke-width="0" />
<circle cx="529.90" cy="333.60" r="0.62" fill="#e6e6e6" stroke="none" stroke-width="0" />
<circle cx="530.60" cy="331.00" r="0.62" fill="#e6e6e6" stroke="none" stroke-width="0" />
<circle cx="532.50" cy="329.10" r="0.62" fill="#e6e6e6" stroke="none" stroke-width="0" />
<circle cx="535.10" cy="333.60" r="3.50" fill="#f3c9cc" stroke="none" stroke-width="0" />
<circle cx="535.10" cy="333.60" r="2.10" fill="#d8404c" stroke="none" stroke-width="0" />
<circle cx="535.10" cy="333.60" r="0.80" fill="#f0b0b4" stroke="none" stroke-width="0" />
<circle cx="544.80" cy="338.10" r="0.62" fill="#e6e6e6" stroke="none" stroke-width="0" />
<circle cx="542.90" cy="336.20" r="0.62" fill="#e6e6e6" stroke="none" stroke-width="0" />
<circle cx="542.20" cy="333.60" r="0.62" fill="#e6e6e6" stroke="none" stroke-width="0" />
<circle cx="542.90" cy="331.00" r="0.62" fill="#e6e6e6" stroke="none" stroke-width="0" />
<circle cx="544.80" cy="329.10" r="0.62" fill="#e6e6e6" stroke="none" stroke-width="0" />
<circle cx="547.40" cy="333.60" r="2.35" fill="none" stroke="#e6e6e6" stroke-width="1.7" />
<circle cx="556.70" cy="338.10" r="0.62" fill="#e6e6e6" stroke="none" stroke-width="0" />
<circle cx="554.80" cy="336.20" r="0.62" fill="#e6e6e6" stroke="none" stroke-width="0" />
<circle cx="554.10" cy="333.60" r="0.62" fill="#e6e6e6" stroke="none" stroke-width="0" />
<circle cx="554.80" cy="331.00" r="0.62" fill="#e6e6e6" stroke="none" stroke-width="0" />
<circle cx="556.70" cy="329.10" r="0.62" fill="#e6e6e6" stroke="none" stroke-width="0" />
<circle cx="559.30" cy="333.60" r="2.35" fill="none" stroke="#e6e6e6" stroke-width="1.7" />
<circle cx="568.00" cy="338.10" r="0.62" fill="#e6e6e6" stroke="none" stroke-width="0" />
<circle cx="566.10" cy="336.20" r="0.62" fill="#e6e6e6" stroke="none" stroke-width="0" />
<circle cx="565.40" cy="333.60" r="0.62" fill="#e6e6e6" stroke="none" stroke-width="0" />
<circle cx="566.10" cy="331.00" r="0.62" fill="#e6e6e6" stroke="none" stroke-width="0" />
<circle cx="568.00" cy="329.10" r="0.62" fill="#e6e6e6" stroke="none" stroke-width="0" />
<circle cx="570.60" cy="333.60" r="2.35" fill="none" stroke="#e6e6e6" stroke-width="1.7" />
<rect x="500.40" y="367.40" width="19.10" height="36.80" fill="#b6b8b7" stroke="#484b4a" stroke-width="1.0" />
<rect x="566.20" y="367.40" width="19.00" height="36.80" fill="#d8dad9" stroke="#484b4a" stroke-width="1.0" />
<rect x="519.80" y="349.30" width="46.20" height="17.70" fill="#d8dad9" stroke="#484b4a" stroke-width="1.0" />
<rect x="519.80" y="404.40" width="46.20" height="18.10" fill="#d8dad9" stroke="#484b4a" stroke-width="1.0" />
<rect x="519.50" y="366.60" width="46.70" height="37.90" fill="#b0b2b1" stroke="#484b4a" stroke-width="1.3" />
<rect x="606.20" y="315.80" width="191.00" height="116.20" fill="#b3b5b4" stroke="#484b4a" stroke-width="1.25" />
<rect x="654.50" y="315.80" width="4.4" height="10.50" fill="#dcdedd"/>
<line x1="654.50" y1="315.80" x2="654.50" y2="326.30" stroke="#484b4a" stroke-width="0.9" />
<line x1="658.90" y1="315.80" x2="658.90" y2="326.30" stroke="#484b4a" stroke-width="0.9" />
<rect x="654.50" y="420.00" width="4.4" height="12.00" fill="#dcdedd"/>
<line x1="654.50" y1="420.00" x2="654.50" y2="432.00" stroke="#484b4a" stroke-width="0.9" />
<line x1="658.90" y1="420.00" x2="658.90" y2="432.00" stroke="#484b4a" stroke-width="0.9" />
<rect x="618.40" y="347.00" width="20.70" height="52.50" fill="#d8dad9" stroke="#484b4a" stroke-width="1.0" />
<rect x="675.20" y="347.00" width="20.40" height="52.50" fill="#b6b8b7" stroke="#484b4a" stroke-width="1.0" />
<rect x="639.10" y="326.30" width="36.10" height="20.70" fill="#d8dad9" stroke="#484b4a" stroke-width="1.0" />
<rect x="639.10" y="400.00" width="36.10" height="20.00" fill="#d8dad9" stroke="#484b4a" stroke-width="1.0" />
<rect x="639.10" y="347.00" width="36.10" height="53.00" fill="#1d1d1d" stroke="#1d1d1d" stroke-width="0.6" />
<circle cx="665.20" cy="334.80" r="2.30" fill="#d8dad9" stroke="#484b4a" stroke-width="0.8" />
<circle cx="628.40" cy="391.50" r="2.30" fill="#d8dad9" stroke="#484b4a" stroke-width="0.8" />
<line x1="661.02" y1="361.55" x2="661.78" y2="365.89" stroke="#e6e6e6" stroke-width="1.3" />
<line x1="659.98" y1="361.55" x2="659.22" y2="365.89" stroke="#e6e6e6" stroke-width="1.3" />
<line x1="659.00" y1="361.20" x2="656.80" y2="365.01" stroke="#e6e6e6" stroke-width="1.3" />
<line x1="658.20" y1="360.53" x2="654.83" y2="363.36" stroke="#e6e6e6" stroke-width="1.3" />
<line x1="657.68" y1="359.63" x2="653.55" y2="361.13" stroke="#e6e6e6" stroke-width="1.3" />
<line x1="657.50" y1="358.60" x2="653.10" y2="358.60" stroke="#e6e6e6" stroke-width="1.3" />
<line x1="657.68" y1="357.57" x2="653.55" y2="356.07" stroke="#e6e6e6" stroke-width="1.3" />
<line x1="658.20" y1="356.67" x2="654.83" y2="353.84" stroke="#e6e6e6" stroke-width="1.3" />
<line x1="659.00" y1="356.00" x2="656.80" y2="352.19" stroke="#e6e6e6" stroke-width="1.3" />
<line x1="659.98" y1="355.65" x2="659.22" y2="351.31" stroke="#e6e6e6" stroke-width="1.3" />
<line x1="661.02" y1="355.65" x2="661.78" y2="351.31" stroke="#e6e6e6" stroke-width="1.3" />
<line x1="661.70" y1="351.60" x2="661.70" y2="366.00" stroke="#e6e6e6" stroke-width="1.1" />
<path d="M661.50,355.60 A3,3 0 0 0 661.50,361.60" fill="none" stroke="#e6e6e6" stroke-width="1"/>
<rect x="664.10" y="354.20" width="2" height="0.9" fill="#e6e6e6"/><rect x="667.10" y="354.20" width="1.6" height="0.9" fill="#e6e6e6"/>
<rect x="664.10" y="356.30" width="2" height="0.9" fill="#e6e6e6"/><rect x="667.10" y="356.30" width="1.6" height="0.9" fill="#e6e6e6"/>
<rect x="664.10" y="358.40" width="2" height="0.9" fill="#e6e6e6"/><rect x="667.10" y="358.40" width="1.6" height="0.9" fill="#e6e6e6"/>
<rect x="664.10" y="360.50" width="2" height="0.9" fill="#e6e6e6"/><rect x="667.10" y="360.50" width="1.6" height="0.9" fill="#e6e6e6"/>
<rect x="664.10" y="362.60" width="2" height="0.9" fill="#e6e6e6"/><rect x="667.10" y="362.60" width="1.6" height="0.9" fill="#e6e6e6"/>
<ellipse cx="663.00" cy="387.2" rx="2.9" ry="5.4" fill="#e6e6e6"/>
<line x1="662.00" y1="382.60" x2="662.00" y2="391.80" stroke="#1d1d1d" stroke-width="0.6" />
<line x1="664.00" y1="382.60" x2="664.00" y2="391.80" stroke="#1d1d1d" stroke-width="0.6" />
<rect x="656.80" y="382.20" width="1.2" height="1" fill="#e6e6e6"/>
<rect x="656.80" y="384.10" width="1.2" height="1" fill="#e6e6e6"/>
<rect x="656.80" y="386.00" width="1.2" height="1" fill="#e6e6e6"/>
<rect x="656.80" y="387.90" width="1.2" height="1" fill="#e6e6e6"/>
<rect x="656.80" y="389.80" width="1.2" height="1" fill="#e6e6e6"/>
<rect x="656.80" y="391.70" width="1.2" height="1" fill="#e6e6e6"/>
<rect x="658.70" y="384.20" width="0.8" height="0.9" fill="#e6e6e6"/>
<rect x="658.70" y="386.10" width="0.8" height="0.9" fill="#e6e6e6"/>
<rect x="658.70" y="388.00" width="0.8" height="0.9" fill="#e6e6e6"/>
<rect x="658.70" y="389.90" width="0.8" height="0.9" fill="#e6e6e6"/>
<rect x="668.00" y="382.20" width="1.2" height="1" fill="#e6e6e6"/>
<rect x="668.00" y="384.10" width="1.2" height="1" fill="#e6e6e6"/>
<rect x="668.00" y="386.00" width="1.2" height="1" fill="#e6e6e6"/>
<rect x="668.00" y="387.90" width="1.2" height="1" fill="#e6e6e6"/>
<rect x="668.00" y="389.80" width="1.2" height="1" fill="#e6e6e6"/>
<rect x="668.00" y="391.70" width="1.2" height="1" fill="#e6e6e6"/>
<rect x="666.50" y="384.20" width="0.8" height="0.9" fill="#e6e6e6"/>
<rect x="666.50" y="386.10" width="0.8" height="0.9" fill="#e6e6e6"/>
<rect x="666.50" y="388.00" width="0.8" height="0.9" fill="#e6e6e6"/>
<rect x="666.50" y="389.90" width="0.8" height="0.9" fill="#e6e6e6"/>
<rect x="745.40" y="315.80" width="4.4" height="10.50" fill="#dcdedd"/>
<line x1="745.40" y1="315.80" x2="745.40" y2="326.30" stroke="#484b4a" stroke-width="0.9" />
<line x1="749.80" y1="315.80" x2="749.80" y2="326.30" stroke="#484b4a" stroke-width="0.9" />
<rect x="745.40" y="420.00" width="4.4" height="12.00" fill="#dcdedd"/>
<line x1="745.40" y1="420.00" x2="745.40" y2="432.00" stroke="#484b4a" stroke-width="0.9" />
<line x1="749.80" y1="420.00" x2="749.80" y2="432.00" stroke="#484b4a" stroke-width="0.9" />
<rect x="709.30" y="347.00" width="20.70" height="52.50" fill="#b6b8b7" stroke="#484b4a" stroke-width="1.0" />
<rect x="766.10" y="347.00" width="20.40" height="52.50" fill="#d8dad9" stroke="#484b4a" stroke-width="1.0" />
<rect x="730.00" y="326.30" width="36.10" height="20.70" fill="#d8dad9" stroke="#484b4a" stroke-width="1.0" />
<rect x="730.00" y="400.00" width="36.10" height="20.00" fill="#d8dad9" stroke="#484b4a" stroke-width="1.0" />
<rect x="730.00" y="347.00" width="36.10" height="53.00" fill="#1d1d1d" stroke="#1d1d1d" stroke-width="0.6" />
<circle cx="756.10" cy="334.80" r="2.30" fill="#d8dad9" stroke="#484b4a" stroke-width="0.8" />
<circle cx="719.30" cy="391.50" r="2.30" fill="#b6b8b7" stroke="#484b4a" stroke-width="0.8" />
<line x1="751.92" y1="361.55" x2="752.68" y2="365.89" stroke="#e6e6e6" stroke-width="1.3" />
<line x1="750.88" y1="361.55" x2="750.12" y2="365.89" stroke="#e6e6e6" stroke-width="1.3" />
<line x1="749.90" y1="361.20" x2="747.70" y2="365.01" stroke="#e6e6e6" stroke-width="1.3" />
<line x1="749.10" y1="360.53" x2="745.73" y2="363.36" stroke="#e6e6e6" stroke-width="1.3" />
<line x1="748.58" y1="359.63" x2="744.45" y2="361.13" stroke="#e6e6e6" stroke-width="1.3" />
<line x1="748.40" y1="358.60" x2="744.00" y2="358.60" stroke="#e6e6e6" stroke-width="1.3" />
<line x1="748.58" y1="357.57" x2="744.45" y2="356.07" stroke="#e6e6e6" stroke-width="1.3" />
<line x1="749.10" y1="356.67" x2="745.73" y2="353.84" stroke="#e6e6e6" stroke-width="1.3" />
<line x1="749.90" y1="356.00" x2="747.70" y2="352.19" stroke="#e6e6e6" stroke-width="1.3" />
<line x1="750.88" y1="355.65" x2="750.12" y2="351.31" stroke="#e6e6e6" stroke-width="1.3" />
<line x1="751.92" y1="355.65" x2="752.68" y2="351.31" stroke="#e6e6e6" stroke-width="1.3" />
<line x1="752.60" y1="351.60" x2="752.60" y2="366.00" stroke="#e6e6e6" stroke-width="1.1" />
<path d="M752.40,355.60 A3,3 0 0 0 752.40,361.60" fill="none" stroke="#e6e6e6" stroke-width="1"/>
<rect x="755.00" y="354.20" width="2" height="0.9" fill="#e6e6e6"/><rect x="758.00" y="354.20" width="1.6" height="0.9" fill="#e6e6e6"/>
<rect x="755.00" y="356.30" width="2" height="0.9" fill="#e6e6e6"/><rect x="758.00" y="356.30" width="1.6" height="0.9" fill="#e6e6e6"/>
<rect x="755.00" y="358.40" width="2" height="0.9" fill="#e6e6e6"/><rect x="758.00" y="358.40" width="1.6" height="0.9" fill="#e6e6e6"/>
<rect x="755.00" y="360.50" width="2" height="0.9" fill="#e6e6e6"/><rect x="758.00" y="360.50" width="1.6" height="0.9" fill="#e6e6e6"/>
<rect x="755.00" y="362.60" width="2" height="0.9" fill="#e6e6e6"/><rect x="758.00" y="362.60" width="1.6" height="0.9" fill="#e6e6e6"/>
<ellipse cx="753.90" cy="387.2" rx="2.9" ry="5.4" fill="#e6e6e6"/>
<line x1="752.90" y1="382.60" x2="752.90" y2="391.80" stroke="#1d1d1d" stroke-width="0.6" />
<line x1="754.90" y1="382.60" x2="754.90" y2="391.80" stroke="#1d1d1d" stroke-width="0.6" />
<rect x="747.70" y="382.20" width="1.2" height="1" fill="#e6e6e6"/>
<rect x="747.70" y="384.10" width="1.2" height="1" fill="#e6e6e6"/>
<rect x="747.70" y="386.00" width="1.2" height="1" fill="#e6e6e6"/>
<rect x="747.70" y="387.90" width="1.2" height="1" fill="#e6e6e6"/>
<rect x="747.70" y="389.80" width="1.2" height="1" fill="#e6e6e6"/>
<rect x="747.70" y="391.70" width="1.2" height="1" fill="#e6e6e6"/>
<rect x="749.60" y="384.20" width="0.8" height="0.9" fill="#e6e6e6"/>
<rect x="749.60" y="386.10" width="0.8" height="0.9" fill="#e6e6e6"/>
<rect x="749.60" y="388.00" width="0.8" height="0.9" fill="#e6e6e6"/>
<rect x="749.60" y="389.90" width="0.8" height="0.9" fill="#e6e6e6"/>
<rect x="758.90" y="382.20" width="1.2" height="1" fill="#e6e6e6"/>
<rect x="758.90" y="384.10" width="1.2" height="1" fill="#e6e6e6"/>
<rect x="758.90" y="386.00" width="1.2" height="1" fill="#e6e6e6"/>
<rect x="758.90" y="387.90" width="1.2" height="1" fill="#e6e6e6"/>
<rect x="758.90" y="389.80" width="1.2" height="1" fill="#e6e6e6"/>
<rect x="758.90" y="391.70" width="1.2" height="1" fill="#e6e6e6"/>
<rect x="757.40" y="384.20" width="0.8" height="0.9" fill="#e6e6e6"/>
<rect x="757.40" y="386.10" width="0.8" height="0.9" fill="#e6e6e6"/>
<rect x="757.40" y="388.00" width="0.8" height="0.9" fill="#e6e6e6"/>
<rect x="757.40" y="389.90" width="0.8" height="0.9" fill="#e6e6e6"/>
<rect x="606.20" y="371.30" width="12.20" height="3.4" fill="#dcdedd"/>
<line x1="606.20" y1="371.30" x2="618.40" y2="371.30" stroke="#484b4a" stroke-width="0.9" />
<line x1="606.20" y1="374.70" x2="618.40" y2="374.70" stroke="#484b4a" stroke-width="0.9" />
<rect x="695.60" y="371.30" width="13.70" height="3.4" fill="#dcdedd"/>
<line x1="695.60" y1="371.30" x2="709.30" y2="371.30" stroke="#484b4a" stroke-width="0.9" />
<line x1="695.60" y1="374.70" x2="709.30" y2="374.70" stroke="#484b4a" stroke-width="0.9" />
<rect x="786.50" y="371.30" width="10.70" height="3.4" fill="#dcdedd"/>
<line x1="786.50" y1="371.30" x2="797.20" y2="371.30" stroke="#484b4a" stroke-width="0.9" />
<line x1="786.50" y1="374.70" x2="797.20" y2="374.70" stroke="#484b4a" stroke-width="0.9" />
<polygon points="43.20,368.20 70.10,368.20 89.60,389.30 89.60,431.30 43.20,431.30" fill="#b3b5b4" stroke="#484b4a" stroke-width="1.25" stroke-linejoin="miter" />
<polygon points="387.20,388.50 406.50,368.20 433.60,368.20 433.60,431.30 387.20,431.30" fill="#b3b5b4" stroke="#484b4a" stroke-width="1.25" stroke-linejoin="miter" />
<rect x="65.40" y="368.20" width="3.8" height="21.30" fill="#dcdedd"/>
<line x1="65.40" y1="368.20" x2="65.40" y2="389.50" stroke="#484b4a" stroke-width="0.9" />
<line x1="69.20" y1="368.20" x2="69.20" y2="389.50" stroke="#484b4a" stroke-width="0.9" />
<rect x="65.40" y="421.00" width="3.8" height="10.30" fill="#dcdedd"/>
<line x1="65.40" y1="421.00" x2="65.40" y2="431.30" stroke="#484b4a" stroke-width="0.9" />
<line x1="69.20" y1="421.00" x2="69.20" y2="431.30" stroke="#484b4a" stroke-width="0.9" />
<rect x="62.70" y="414.00" width="9.40" height="7.70" fill="#1d1d1d" stroke="none" stroke-width="0" />
<circle cx="68.00" cy="402.60" r="14.20" fill="#1d1d1d" stroke="none" stroke-width="0" />
<path d="M66.16,392.16 A10.6,10.6 0 0 0 61.19,410.72" fill="none" stroke="#e6e6e6" stroke-width="1.5"/>
<circle cx="66.80" cy="402.60" r="5.30" fill="none" stroke="#e6e6e6" stroke-width="1.2" />
<path d="M65.40,399.60 Q69.00,402.60 65.40,405.60" fill="none" stroke="#e6e6e6" stroke-width="0.9"/>
<line x1="67.40" y1="399.00" x2="67.40" y2="406.20" stroke="#e6e6e6" stroke-width="0.7" />
<circle cx="69.40" cy="402.60" r="0.50" fill="#e6e6e6" stroke="none" stroke-width="0" />
<line x1="79.40" y1="397.60" x2="78.00" y2="404.20" stroke="#e6e6e6" stroke-width="1.4" />
<circle cx="77.40" cy="407.20" r="0.75" fill="#e6e6e6" stroke="none" stroke-width="0" />
<circle cx="71.60" cy="412.20" r="0.55" fill="#e6e6e6" stroke="none" stroke-width="0" />
<circle cx="75.20" cy="410.60" r="0.55" fill="#e6e6e6" stroke="none" stroke-width="0" />
<circle cx="76.40" cy="395.20" r="0.55" fill="#e6e6e6" stroke="none" stroke-width="0" />
<circle cx="67.60" cy="383.40" r="4.60" fill="#dc3040" stroke="none" stroke-width="0" />
<circle cx="67.60" cy="383.40" r="2.70" fill="none" stroke="#f6dede" stroke-width="0.8" />
<line x1="66.00" y1="384.60" x2="69.20" y2="382.20" stroke="#f6dede" stroke-width="0.8" />
<circle cx="68.60" cy="388.20" r="0.00" fill="#1d1d1d" stroke="none" stroke-width="0" />
<rect x="407.80" y="368.20" width="3.8" height="21.30" fill="#dcdedd"/>
<line x1="407.80" y1="368.20" x2="407.80" y2="389.50" stroke="#484b4a" stroke-width="0.9" />
<line x1="411.60" y1="368.20" x2="411.60" y2="389.50" stroke="#484b4a" stroke-width="0.9" />
<rect x="407.80" y="421.00" width="3.8" height="10.30" fill="#dcdedd"/>
<line x1="407.80" y1="421.00" x2="407.80" y2="431.30" stroke="#484b4a" stroke-width="0.9" />
<line x1="411.60" y1="421.00" x2="411.60" y2="431.30" stroke="#484b4a" stroke-width="0.9" />
<rect x="405.40" y="414.00" width="9.40" height="7.70" fill="#1d1d1d" stroke="none" stroke-width="0" />
<circle cx="409.70" cy="402.20" r="14.20" fill="#1d1d1d" stroke="none" stroke-width="0" />
<path d="M411.54,391.76 A10.6,10.6 0 0 1 416.51,410.32" fill="none" stroke="#e6e6e6" stroke-width="1.5"/>
<circle cx="410.90" cy="402.20" r="5.30" fill="none" stroke="#e6e6e6" stroke-width="1.2" />
<path d="M412.30,399.20 Q408.70,402.20 412.30,405.20" fill="none" stroke="#e6e6e6" stroke-width="0.9"/>
<line x1="410.30" y1="398.60" x2="410.30" y2="405.80" stroke="#e6e6e6" stroke-width="0.7" />
<circle cx="408.30" cy="402.20" r="0.50" fill="#e6e6e6" stroke="none" stroke-width="0" />
<line x1="398.30" y1="397.20" x2="399.70" y2="403.80" stroke="#e6e6e6" stroke-width="1.4" />
<circle cx="400.30" cy="406.80" r="0.75" fill="#e6e6e6" stroke="none" stroke-width="0" />
<circle cx="406.10" cy="411.80" r="0.55" fill="#e6e6e6" stroke="none" stroke-width="0" />
<circle cx="402.50" cy="410.20" r="0.55" fill="#e6e6e6" stroke="none" stroke-width="0" />
<circle cx="401.30" cy="394.80" r="0.55" fill="#e6e6e6" stroke="none" stroke-width="0" />
<circle cx="409.50" cy="384.00" r="4.60" fill="#dc3040" stroke="none" stroke-width="0" />
<circle cx="409.50" cy="384.00" r="2.70" fill="none" stroke="#f6dede" stroke-width="0.8" />
<line x1="407.90" y1="385.20" x2="411.10" y2="382.80" stroke="#f6dede" stroke-width="0.8" />
<circle cx="410.50" cy="388.80" r="0.00" fill="#1d1d1d" stroke="none" stroke-width="0" />
<rect x="108.30" y="389.70" width="257.90" height="42.70" fill="#b3b5b4" stroke="#484b4a" stroke-width="1.25" />
<rect x="128.30" y="389.80" width="5.2" height="10.40" fill="#dcdedd"/>
<line x1="128.30" y1="389.80" x2="128.30" y2="400.20" stroke="#484b4a" stroke-width="0.9" />
<line x1="133.50" y1="389.80" x2="133.50" y2="400.20" stroke="#484b4a" stroke-width="0.9" />
<rect x="128.30" y="419.20" width="5.2" height="13.20" fill="#dcdedd"/>
<line x1="128.30" y1="419.20" x2="128.30" y2="432.40" stroke="#484b4a" stroke-width="0.9" />
<line x1="133.50" y1="419.20" x2="133.50" y2="432.40" stroke="#484b4a" stroke-width="0.9" />
<rect x="117.10" y="400.20" width="27.60" height="19.00" fill="#d8dad9" stroke="#484b4a" stroke-width="1.0" />
<ellipse cx="127.10" cy="409" rx="6.4" ry="2.1" fill="#d8dad9" stroke="#333" stroke-width="1.3" transform="rotate(33 127.10 409)"/>
<line x1="121.70" y1="405.00" x2="131.70" y2="412.40" stroke="#484b4a" stroke-width="0.8" />
<rect x="136.40" y="402.20" width="1.1" height="1.3" fill="#484b4a"/>
<rect x="140.30" y="402.20" width="1.1" height="1.3" fill="#484b4a"/>
<rect x="136.40" y="405.60" width="1.1" height="1.3" fill="#484b4a"/>
<rect x="140.30" y="405.60" width="1.1" height="1.3" fill="#484b4a"/>
<rect x="136.40" y="409.00" width="1.1" height="1.3" fill="#484b4a"/>
<rect x="140.30" y="409.00" width="1.1" height="1.3" fill="#484b4a"/>
<rect x="136.40" y="412.40" width="1.1" height="1.3" fill="#484b4a"/>
<rect x="140.30" y="412.40" width="1.1" height="1.3" fill="#484b4a"/>
<rect x="136.40" y="415.80" width="1.1" height="1.3" fill="#484b4a"/>
<rect x="140.30" y="415.80" width="1.1" height="1.3" fill="#484b4a"/>
<rect x="120.10" y="402.00" width="1" height="1" fill="#484b4a"/>
<rect x="120.10" y="416.50" width="1" height="1" fill="#484b4a"/>
<rect x="129.10" y="401.60" width="1" height="1" fill="#484b4a"/>
<rect x="132.60" y="416.80" width="1" height="1" fill="#484b4a"/>
<rect x="164.50" y="389.80" width="5.2" height="10.40" fill="#dcdedd"/>
<line x1="164.50" y1="389.80" x2="164.50" y2="400.20" stroke="#484b4a" stroke-width="0.9" />
<line x1="169.70" y1="389.80" x2="169.70" y2="400.20" stroke="#484b4a" stroke-width="0.9" />
<rect x="164.50" y="419.20" width="5.2" height="13.20" fill="#dcdedd"/>
<line x1="164.50" y1="419.20" x2="164.50" y2="432.40" stroke="#484b4a" stroke-width="0.9" />
<line x1="169.70" y1="419.20" x2="169.70" y2="432.40" stroke="#484b4a" stroke-width="0.9" />
<rect x="153.30" y="400.20" width="27.60" height="19.00" fill="#d8dad9" stroke="#484b4a" stroke-width="1.0" />
<ellipse cx="163.30" cy="409" rx="6.4" ry="2.1" fill="#d8dad9" stroke="#333" stroke-width="1.3" transform="rotate(33 163.30 409)"/>
<line x1="157.90" y1="405.00" x2="167.90" y2="412.40" stroke="#484b4a" stroke-width="0.8" />
<rect x="172.60" y="402.20" width="1.1" height="1.3" fill="#484b4a"/>
<rect x="176.50" y="402.20" width="1.1" height="1.3" fill="#484b4a"/>
<rect x="172.60" y="405.60" width="1.1" height="1.3" fill="#484b4a"/>
<rect x="176.50" y="405.60" width="1.1" height="1.3" fill="#484b4a"/>
<rect x="172.60" y="409.00" width="1.1" height="1.3" fill="#484b4a"/>
<rect x="176.50" y="409.00" width="1.1" height="1.3" fill="#484b4a"/>
<rect x="172.60" y="412.40" width="1.1" height="1.3" fill="#484b4a"/>
<rect x="176.50" y="412.40" width="1.1" height="1.3" fill="#484b4a"/>
<rect x="172.60" y="415.80" width="1.1" height="1.3" fill="#484b4a"/>
<rect x="176.50" y="415.80" width="1.1" height="1.3" fill="#484b4a"/>
<rect x="156.30" y="402.00" width="1" height="1" fill="#484b4a"/>
<rect x="156.30" y="416.50" width="1" height="1" fill="#484b4a"/>
<rect x="165.30" y="401.60" width="1" height="1" fill="#484b4a"/>
<rect x="168.80" y="416.80" width="1" height="1" fill="#484b4a"/>
<rect x="200.50" y="389.80" width="5.2" height="10.40" fill="#dcdedd"/>
<line x1="200.50" y1="389.80" x2="200.50" y2="400.20" stroke="#484b4a" stroke-width="0.9" />
<line x1="205.70" y1="389.80" x2="205.70" y2="400.20" stroke="#484b4a" stroke-width="0.9" />
<rect x="200.50" y="419.20" width="5.2" height="13.20" fill="#dcdedd"/>
<line x1="200.50" y1="419.20" x2="200.50" y2="432.40" stroke="#484b4a" stroke-width="0.9" />
<line x1="205.70" y1="419.20" x2="205.70" y2="432.40" stroke="#484b4a" stroke-width="0.9" />
<rect x="189.30" y="400.20" width="27.60" height="19.00" fill="#d8dad9" stroke="#484b4a" stroke-width="1.0" />
<ellipse cx="199.30" cy="409" rx="6.4" ry="2.1" fill="#d8dad9" stroke="#333" stroke-width="1.3" transform="rotate(33 199.30 409)"/>
<line x1="193.90" y1="405.00" x2="203.90" y2="412.40" stroke="#484b4a" stroke-width="0.8" />
<rect x="208.60" y="402.20" width="1.1" height="1.3" fill="#484b4a"/>
<rect x="212.50" y="402.20" width="1.1" height="1.3" fill="#484b4a"/>
<rect x="208.60" y="405.60" width="1.1" height="1.3" fill="#484b4a"/>
<rect x="212.50" y="405.60" width="1.1" height="1.3" fill="#484b4a"/>
<rect x="208.60" y="409.00" width="1.1" height="1.3" fill="#484b4a"/>
<rect x="212.50" y="409.00" width="1.1" height="1.3" fill="#484b4a"/>
<rect x="208.60" y="412.40" width="1.1" height="1.3" fill="#484b4a"/>
<rect x="212.50" y="412.40" width="1.1" height="1.3" fill="#484b4a"/>
<rect x="208.60" y="415.80" width="1.1" height="1.3" fill="#484b4a"/>
<rect x="212.50" y="415.80" width="1.1" height="1.3" fill="#484b4a"/>
<rect x="192.30" y="402.00" width="1" height="1" fill="#484b4a"/>
<rect x="192.30" y="416.50" width="1" height="1" fill="#484b4a"/>
<rect x="201.30" y="401.60" width="1" height="1" fill="#484b4a"/>
<rect x="204.80" y="416.80" width="1" height="1" fill="#484b4a"/>
<rect x="241.80" y="389.70" width="4.6" height="8.10" fill="#dcdedd"/>
<line x1="241.80" y1="389.70" x2="241.80" y2="397.80" stroke="#484b4a" stroke-width="0.9" />
<line x1="246.40" y1="389.70" x2="246.40" y2="397.80" stroke="#484b4a" stroke-width="0.9" />
<rect x="228.30" y="423.30" width="3.8" height="9.10" fill="#dcdedd"/>
<line x1="228.30" y1="423.30" x2="228.30" y2="432.40" stroke="#484b4a" stroke-width="0.9" />
<line x1="232.10" y1="423.30" x2="232.10" y2="432.40" stroke="#484b4a" stroke-width="0.9" />
<rect x="256.90" y="423.30" width="3.8" height="9.10" fill="#dcdedd"/>
<line x1="256.90" y1="423.30" x2="256.90" y2="432.40" stroke="#484b4a" stroke-width="0.9" />
<line x1="260.70" y1="423.30" x2="260.70" y2="432.40" stroke="#484b4a" stroke-width="0.9" />
<rect x="225.40" y="397.80" width="38.20" height="25.50" fill="#d8dad9" stroke="#484b4a" stroke-width="1.0" />
<circle cx="233.00" cy="410.90" r="4.70" fill="#cfd1d0" stroke="#333" stroke-width="1.5" />
<line x1="228.60" y1="410.90" x2="237.40" y2="410.90" stroke="#484b4a" stroke-width="0.8" />
<line x1="231.50" y1="411.40" x2="231.50" y2="414.00" stroke="#484b4a" stroke-width="0.6" />
<line x1="233.00" y1="411.40" x2="233.00" y2="414.00" stroke="#484b4a" stroke-width="0.6" />
<line x1="234.50" y1="411.40" x2="234.50" y2="414.00" stroke="#484b4a" stroke-width="0.6" />
<path d="M244.40,409.20 H256.40 a1.7,1.7 0 0 1 0,3.4 H244.40 Z" fill="#c4c6c5" stroke="#333" stroke-width="1.5"/>
<line x1="247.40" y1="410.90" x2="241.20" y2="404.30" stroke="#333" stroke-width="1.3" />
<line x1="247.40" y1="410.90" x2="241.20" y2="417.50" stroke="#333" stroke-width="1.3" />
<line x1="247.40" y1="410.90" x2="239.80" y2="408.10" stroke="#333" stroke-width="1.3" />
<line x1="247.40" y1="410.90" x2="239.80" y2="413.70" stroke="#333" stroke-width="1.3" />
<line x1="242.40" y1="410.90" x2="257.40" y2="410.90" stroke="#484b4a" stroke-width="0.8" />
<rect x="240.00" y="400.00" width="0.9" height="1.2" fill="#484b4a"/><rect x="261.00" y="400.00" width="0.9" height="1.2" fill="#484b4a"/>
<rect x="240.00" y="402.90" width="0.9" height="1.2" fill="#484b4a"/><rect x="261.00" y="402.90" width="0.9" height="1.2" fill="#484b4a"/>
<rect x="240.00" y="405.80" width="0.9" height="1.2" fill="#484b4a"/><rect x="261.00" y="405.80" width="0.9" height="1.2" fill="#484b4a"/>
<rect x="240.00" y="408.70" width="0.9" height="1.2" fill="#484b4a"/><rect x="261.00" y="408.70" width="0.9" height="1.2" fill="#484b4a"/>
<rect x="240.00" y="411.60" width="0.9" height="1.2" fill="#484b4a"/><rect x="261.00" y="411.60" width="0.9" height="1.2" fill="#484b4a"/>
<rect x="240.00" y="414.50" width="0.9" height="1.2" fill="#484b4a"/><rect x="261.00" y="414.50" width="0.9" height="1.2" fill="#484b4a"/>
<rect x="240.00" y="417.40" width="0.9" height="1.2" fill="#484b4a"/><rect x="261.00" y="417.40" width="0.9" height="1.2" fill="#484b4a"/>
<rect x="240.00" y="420.30" width="0.9" height="1.2" fill="#484b4a"/><rect x="261.00" y="420.30" width="0.9" height="1.2" fill="#484b4a"/>
<circle cx="252.40" cy="402.40" r="0.80" fill="#484b4a" stroke="none" stroke-width="0" />
<circle cx="252.40" cy="418.60" r="0.80" fill="#484b4a" stroke="none" stroke-width="0" />
<rect x="288.40" y="389.70" width="4.6" height="8.10" fill="#dcdedd"/>
<line x1="288.40" y1="389.70" x2="288.40" y2="397.80" stroke="#484b4a" stroke-width="0.9" />
<line x1="293.00" y1="389.70" x2="293.00" y2="397.80" stroke="#484b4a" stroke-width="0.9" />
<rect x="274.90" y="423.30" width="3.8" height="9.10" fill="#dcdedd"/>
<line x1="274.90" y1="423.30" x2="274.90" y2="432.40" stroke="#484b4a" stroke-width="0.9" />
<line x1="278.70" y1="423.30" x2="278.70" y2="432.40" stroke="#484b4a" stroke-width="0.9" />
<rect x="303.50" y="423.30" width="3.8" height="9.10" fill="#dcdedd"/>
<line x1="303.50" y1="423.30" x2="303.50" y2="432.40" stroke="#484b4a" stroke-width="0.9" />
<line x1="307.30" y1="423.30" x2="307.30" y2="432.40" stroke="#484b4a" stroke-width="0.9" />
<rect x="272.00" y="397.80" width="38.20" height="25.50" fill="#d8dad9" stroke="#484b4a" stroke-width="1.0" />
<circle cx="279.60" cy="410.90" r="4.70" fill="#cfd1d0" stroke="#333" stroke-width="1.5" />
<line x1="275.20" y1="410.90" x2="284.00" y2="410.90" stroke="#484b4a" stroke-width="0.8" />
<line x1="278.10" y1="411.40" x2="278.10" y2="414.00" stroke="#484b4a" stroke-width="0.6" />
<line x1="279.60" y1="411.40" x2="279.60" y2="414.00" stroke="#484b4a" stroke-width="0.6" />
<line x1="281.10" y1="411.40" x2="281.10" y2="414.00" stroke="#484b4a" stroke-width="0.6" />
<path d="M291.00,409.20 H303.00 a1.7,1.7 0 0 1 0,3.4 H291.00 Z" fill="#c4c6c5" stroke="#333" stroke-width="1.5"/>
<line x1="294.00" y1="410.90" x2="287.80" y2="404.30" stroke="#333" stroke-width="1.3" />
<line x1="294.00" y1="410.90" x2="287.80" y2="417.50" stroke="#333" stroke-width="1.3" />
<line x1="294.00" y1="410.90" x2="286.40" y2="408.10" stroke="#333" stroke-width="1.3" />
<line x1="294.00" y1="410.90" x2="286.40" y2="413.70" stroke="#333" stroke-width="1.3" />
<line x1="289.00" y1="410.90" x2="304.00" y2="410.90" stroke="#484b4a" stroke-width="0.8" />
<rect x="286.60" y="400.00" width="0.9" height="1.2" fill="#484b4a"/><rect x="307.60" y="400.00" width="0.9" height="1.2" fill="#484b4a"/>
<rect x="286.60" y="402.90" width="0.9" height="1.2" fill="#484b4a"/><rect x="307.60" y="402.90" width="0.9" height="1.2" fill="#484b4a"/>
<rect x="286.60" y="405.80" width="0.9" height="1.2" fill="#484b4a"/><rect x="307.60" y="405.80" width="0.9" height="1.2" fill="#484b4a"/>
<rect x="286.60" y="408.70" width="0.9" height="1.2" fill="#484b4a"/><rect x="307.60" y="408.70" width="0.9" height="1.2" fill="#484b4a"/>
<rect x="286.60" y="411.60" width="0.9" height="1.2" fill="#484b4a"/><rect x="307.60" y="411.60" width="0.9" height="1.2" fill="#484b4a"/>
<rect x="286.60" y="414.50" width="0.9" height="1.2" fill="#484b4a"/><rect x="307.60" y="414.50" width="0.9" height="1.2" fill="#484b4a"/>
<rect x="286.60" y="417.40" width="0.9" height="1.2" fill="#484b4a"/><rect x="307.60" y="417.40" width="0.9" height="1.2" fill="#484b4a"/>
<rect x="286.60" y="420.30" width="0.9" height="1.2" fill="#484b4a"/><rect x="307.60" y="420.30" width="0.9" height="1.2" fill="#484b4a"/>
<circle cx="299.00" cy="402.40" r="0.80" fill="#484b4a" stroke="none" stroke-width="0" />
<circle cx="299.00" cy="418.60" r="0.80" fill="#484b4a" stroke="none" stroke-width="0" />
<rect x="335.30" y="389.70" width="4.6" height="8.10" fill="#dcdedd"/>
<line x1="335.30" y1="389.70" x2="335.30" y2="397.80" stroke="#484b4a" stroke-width="0.9" />
<line x1="339.90" y1="389.70" x2="339.90" y2="397.80" stroke="#484b4a" stroke-width="0.9" />
<rect x="321.80" y="423.30" width="3.8" height="9.10" fill="#dcdedd"/>
<line x1="321.80" y1="423.30" x2="321.80" y2="432.40" stroke="#484b4a" stroke-width="0.9" />
<line x1="325.60" y1="423.30" x2="325.60" y2="432.40" stroke="#484b4a" stroke-width="0.9" />
<rect x="350.40" y="423.30" width="3.8" height="9.10" fill="#dcdedd"/>
<line x1="350.40" y1="423.30" x2="350.40" y2="432.40" stroke="#484b4a" stroke-width="0.9" />
<line x1="354.20" y1="423.30" x2="354.20" y2="432.40" stroke="#484b4a" stroke-width="0.9" />
<rect x="318.90" y="397.80" width="38.20" height="25.50" fill="#d8dad9" stroke="#484b4a" stroke-width="1.0" />
<circle cx="326.50" cy="410.90" r="4.70" fill="#cfd1d0" stroke="#333" stroke-width="1.5" />
<line x1="322.10" y1="410.90" x2="330.90" y2="410.90" stroke="#484b4a" stroke-width="0.8" />
<line x1="325.00" y1="411.40" x2="325.00" y2="414.00" stroke="#484b4a" stroke-width="0.6" />
<line x1="326.50" y1="411.40" x2="326.50" y2="414.00" stroke="#484b4a" stroke-width="0.6" />
<line x1="328.00" y1="411.40" x2="328.00" y2="414.00" stroke="#484b4a" stroke-width="0.6" />
<path d="M337.90,409.20 H349.90 a1.7,1.7 0 0 1 0,3.4 H337.90 Z" fill="#c4c6c5" stroke="#333" stroke-width="1.5"/>
<line x1="340.90" y1="410.90" x2="334.70" y2="404.30" stroke="#333" stroke-width="1.3" />
<line x1="340.90" y1="410.90" x2="334.70" y2="417.50" stroke="#333" stroke-width="1.3" />
<line x1="340.90" y1="410.90" x2="333.30" y2="408.10" stroke="#333" stroke-width="1.3" />
<line x1="340.90" y1="410.90" x2="333.30" y2="413.70" stroke="#333" stroke-width="1.3" />
<line x1="335.90" y1="410.90" x2="350.90" y2="410.90" stroke="#484b4a" stroke-width="0.8" />
<rect x="333.50" y="400.00" width="0.9" height="1.2" fill="#484b4a"/><rect x="354.50" y="400.00" width="0.9" height="1.2" fill="#484b4a"/>
<rect x="333.50" y="402.90" width="0.9" height="1.2" fill="#484b4a"/><rect x="354.50" y="402.90" width="0.9" height="1.2" fill="#484b4a"/>
<rect x="333.50" y="405.80" width="0.9" height="1.2" fill="#484b4a"/><rect x="354.50" y="405.80" width="0.9" height="1.2" fill="#484b4a"/>
<rect x="333.50" y="408.70" width="0.9" height="1.2" fill="#484b4a"/><rect x="354.50" y="408.70" width="0.9" height="1.2" fill="#484b4a"/>
<rect x="333.50" y="411.60" width="0.9" height="1.2" fill="#484b4a"/><rect x="354.50" y="411.60" width="0.9" height="1.2" fill="#484b4a"/>
<rect x="333.50" y="414.50" width="0.9" height="1.2" fill="#484b4a"/><rect x="354.50" y="414.50" width="0.9" height="1.2" fill="#484b4a"/>
<rect x="333.50" y="417.40" width="0.9" height="1.2" fill="#484b4a"/><rect x="354.50" y="417.40" width="0.9" height="1.2" fill="#484b4a"/>
<rect x="333.50" y="420.30" width="0.9" height="1.2" fill="#484b4a"/><rect x="354.50" y="420.30" width="0.9" height="1.2" fill="#484b4a"/>
<circle cx="345.90" cy="402.40" r="0.80" fill="#484b4a" stroke="none" stroke-width="0" />
<circle cx="345.90" cy="418.60" r="0.80" fill="#484b4a" stroke="none" stroke-width="0" />
<polygon points="62.91,74.20 62.91,61.52 60.30,63.84 60.30,62.10 63.04,59.75 64.40,59.75 64.40,74.20" fill="#383838"/>
<text transform="translate(66.40,216.70) scale(1.0453,1)" font-family="'Liberation Sans', sans-serif" font-size="21" font-weight="normal" fill="#383838" xml:space="preserve">2</text>
<text transform="translate(213.51,215.20) scale(0.8638,1)" font-family="'Liberation Sans', sans-serif" font-size="21" font-weight="normal" fill="#383838" xml:space="preserve">3</text>
<text transform="translate(52.56,362.70) scale(0.9072,1)" font-family="'Liberation Sans', sans-serif" font-size="21" font-weight="normal" fill="#383838" xml:space="preserve">4</text>
<text transform="translate(421.96,362.20) scale(0.9072,1)" font-family="'Liberation Sans', sans-serif" font-size="21" font-weight="normal" fill="#383838" xml:space="preserve">4</text>
<text transform="translate(93.98,413.60) scale(0.8537,1)" font-family="'Liberation Sans', sans-serif" font-size="21" font-weight="normal" fill="#383838" xml:space="preserve">5</text>
<text transform="translate(368.94,414.00) scale(0.9907,1)" font-family="'Liberation Sans', sans-serif" font-size="21" font-weight="normal" fill="#383838" xml:space="preserve">6</text>
<text transform="translate(526.50,137.70) scale(0.9323,1)" font-family="'Liberation Sans', sans-serif" font-size="21" font-weight="normal" fill="#383838" xml:space="preserve">7</text>
<text transform="translate(609.31,137.70) scale(0.9742,1)" font-family="'Liberation Sans', sans-serif" font-size="21" font-weight="normal" fill="#383838" xml:space="preserve">8</text>
<text transform="translate(682.59,137.70) scale(0.9278,1)" font-family="'Liberation Sans', sans-serif" font-size="21" font-weight="normal" fill="#383838" xml:space="preserve">9</text>
<polygon points="734.46,137.70 734.46,125.02 732.00,127.34 732.00,125.60 734.58,123.25 735.87,123.25 735.87,137.70" fill="#383838"/>
<text transform="translate(739.30,137.70) scale(0.7554,1)" font-family="'Liberation Sans', sans-serif" font-size="21" font-weight="normal" fill="#383838" xml:space="preserve">0</text>
<polygon points="493.21,153.50 493.21,140.82 490.80,143.14 490.80,141.40 493.32,139.05 494.58,139.05 494.58,153.50" fill="#383838"/>
<polygon points="501.83,153.50 501.83,140.82 499.42,143.14 499.42,141.40 501.94,139.05 503.20,139.05 503.20,153.50" fill="#383838"/>
<polygon points="579.68,153.50 579.68,140.82 577.20,143.14 577.20,141.40 579.80,139.05 581.10,139.05 581.10,153.50" fill="#383838"/>
<polygon points="588.59,153.50 588.59,140.82 586.10,143.14 586.10,141.40 588.70,139.05 590.00,139.05 590.00,153.50" fill="#383838"/>
<polygon points="681.48,284.20 681.48,271.52 678.80,273.84 678.80,272.10 681.61,269.75 683.01,269.75 683.01,284.20" fill="#383838"/>
<text transform="translate(686.75,284.20) scale(0.8234,1)" font-family="'Liberation Sans', sans-serif" font-size="21" font-weight="normal" fill="#383838" xml:space="preserve">2</text>
<polygon points="753.98,284.20 753.98,271.52 751.30,273.84 751.30,272.10 754.11,269.75 755.51,269.75 755.51,284.20" fill="#383838"/>
<text transform="translate(759.25,284.20) scale(0.8234,1)" font-family="'Liberation Sans', sans-serif" font-size="21" font-weight="normal" fill="#383838" xml:space="preserve">2</text>
<polygon points="475.04,291.70 475.04,279.02 472.20,281.34 472.20,279.60 475.18,277.25 476.66,277.25 476.66,291.70" fill="#383838"/>
<text transform="translate(480.62,291.70) scale(0.8719,1)" font-family="'Liberation Sans', sans-serif" font-size="21" font-weight="normal" fill="#383838" xml:space="preserve">3</text>
<polygon points="539.84,286.70 539.84,274.02 537.20,276.34 537.20,274.60 539.97,272.25 541.35,272.25 541.35,286.70" fill="#383838"/>
<text transform="translate(545.03,286.70) scale(0.8107,1)" font-family="'Liberation Sans', sans-serif" font-size="21" font-weight="normal" fill="#383838" xml:space="preserve">4</text>
<polygon points="582.04,430.70 582.04,418.02 579.20,420.34 579.20,418.60 582.17,416.25 583.65,416.25 583.65,430.70" fill="#383838"/>
<text transform="translate(587.60,430.70) scale(0.8701,1)" font-family="'Liberation Sans', sans-serif" font-size="21" font-weight="normal" fill="#383838" xml:space="preserve">5</text>
<polygon points="652.75,310.50 652.75,297.82 650.00,300.14 650.00,298.40 652.88,296.05 654.31,296.05 654.31,310.50" fill="#383838"/>
<text transform="translate(658.14,310.50) scale(0.8425,1)" font-family="'Liberation Sans', sans-serif" font-size="21" font-weight="normal" fill="#383838" xml:space="preserve">6</text>
<polygon points="742.75,310.50 742.75,297.82 740.00,300.14 740.00,298.40 742.88,296.05 744.31,296.05 744.31,310.50" fill="#383838"/>
<text transform="translate(748.14,310.50) scale(0.8425,1)" font-family="'Liberation Sans', sans-serif" font-size="21" font-weight="normal" fill="#383838" xml:space="preserve">6</text>
</svg>
</body></html>
